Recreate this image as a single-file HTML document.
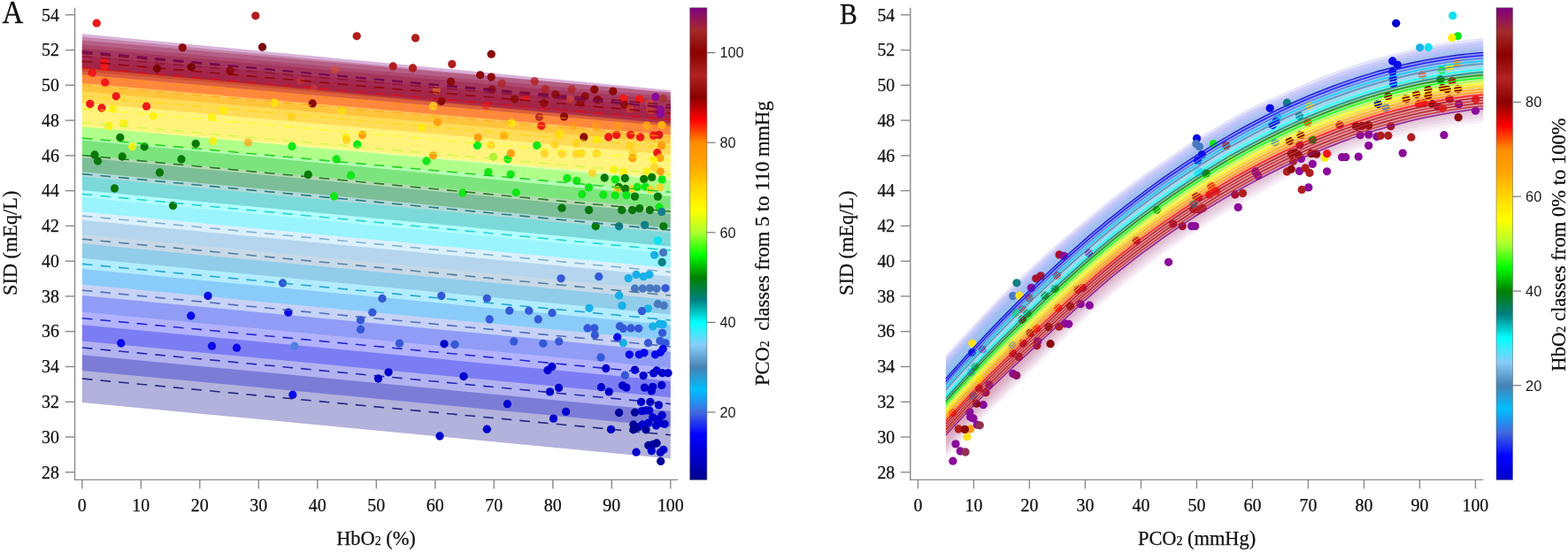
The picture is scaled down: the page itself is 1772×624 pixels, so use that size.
<!DOCTYPE html>
<html lang="en"><head><meta charset="utf-8"><title>SID vs HbO2 and PCO2</title>
<style>html,body{margin:0;padding:0;background:#fff}svg{display:block}.se{font-family:"Liberation Serif","DejaVu Serif",serif;fill:#111;stroke:#111;stroke-width:0.25px}.sa{font-family:"Liberation Sans","DejaVu Sans",sans-serif;fill:#1a1a1a}</style></head><body>
<svg width="1772" height="624" viewBox="0 0 1772 624">
<rect width="1772" height="624" fill="#fff"/>
<defs>
<linearGradient id="cbA" x1="0" y1="1" x2="0" y2="0">
<stop offset="0.000%" stop-color="#00008b"/>
<stop offset="4.762%" stop-color="#0000cd"/>
<stop offset="9.524%" stop-color="#0000ff"/>
<stop offset="14.286%" stop-color="#4169e1"/>
<stop offset="19.048%" stop-color="#00bfff"/>
<stop offset="23.810%" stop-color="#4682b4"/>
<stop offset="28.571%" stop-color="#87cefa"/>
<stop offset="33.333%" stop-color="#00ffff"/>
<stop offset="38.095%" stop-color="#008080"/>
<stop offset="42.857%" stop-color="#008000"/>
<stop offset="47.619%" stop-color="#00ff00"/>
<stop offset="52.381%" stop-color="#adff2f"/>
<stop offset="57.143%" stop-color="#ffff00"/>
<stop offset="61.905%" stop-color="#ffd700"/>
<stop offset="66.667%" stop-color="#ffa500"/>
<stop offset="71.429%" stop-color="#ff8c00"/>
<stop offset="76.190%" stop-color="#ff0000"/>
<stop offset="80.952%" stop-color="#8b0000"/>
<stop offset="85.714%" stop-color="#b22222"/>
<stop offset="90.476%" stop-color="#8b0000"/>
<stop offset="95.238%" stop-color="#a52a2a"/>
<stop offset="100.000%" stop-color="#800080"/>
</linearGradient>
<linearGradient id="cbB" x1="0" y1="1" x2="0" y2="0">
<stop offset="0.000%" stop-color="#0000cd"/>
<stop offset="5.000%" stop-color="#0000ff"/>
<stop offset="10.000%" stop-color="#4169e1"/>
<stop offset="15.000%" stop-color="#00bfff"/>
<stop offset="20.000%" stop-color="#4682b4"/>
<stop offset="25.000%" stop-color="#87cefa"/>
<stop offset="30.000%" stop-color="#00ffff"/>
<stop offset="35.000%" stop-color="#008080"/>
<stop offset="40.000%" stop-color="#008000"/>
<stop offset="45.000%" stop-color="#00ff00"/>
<stop offset="50.000%" stop-color="#adff2f"/>
<stop offset="55.000%" stop-color="#ffff00"/>
<stop offset="60.000%" stop-color="#ffd700"/>
<stop offset="65.000%" stop-color="#ffa500"/>
<stop offset="70.000%" stop-color="#ff8c00"/>
<stop offset="75.000%" stop-color="#ff0000"/>
<stop offset="80.000%" stop-color="#8b0000"/>
<stop offset="85.000%" stop-color="#b22222"/>
<stop offset="90.000%" stop-color="#8b0000"/>
<stop offset="95.000%" stop-color="#a52a2a"/>
<stop offset="100.000%" stop-color="#800080"/>
</linearGradient>
<clipPath id="clipA"><rect x="84.5" y="8.8" width="681.5" height="533.6"/></clipPath>
<clipPath id="clipB"><rect x="1028.8" y="8.8" width="647.4000000000001" height="533.6"/></clipPath>
</defs>
<g clip-path="url(#clipA)">
<polygon points="92.8,401.2 757.8,464.8 757.8,518.5 92.8,454.9" fill="#00008b" fill-opacity="0.3"/>
<polygon points="92.8,367.2 757.8,430.8 757.8,482.5 92.8,418.9" fill="#0000cd" fill-opacity="0.3"/>
<polygon points="92.8,333.9 757.8,397.5 757.8,449.2 92.8,385.6" fill="#0000ff" fill-opacity="0.3"/>
<polygon points="92.8,303.9 757.8,367.6 757.8,416.1 92.8,352.4" fill="#4169e1" fill-opacity="0.3"/>
<polygon points="92.8,275.3 757.8,339.0 757.8,385.1 92.8,321.5" fill="#00bfff" fill-opacity="0.3"/>
<polygon points="92.8,248.8 757.8,312.5 757.8,355.4 92.8,291.8" fill="#4682b4" fill-opacity="0.3"/>
<polygon points="92.8,223.1 757.8,286.8 757.8,328.5 92.8,264.9" fill="#87cefa" fill-opacity="0.3"/>
<polygon points="92.8,199.5 757.8,263.2 757.8,302.9 92.8,239.3" fill="#00ffff" fill-opacity="0.3"/>
<polygon points="92.8,178.1 757.8,241.7 757.8,278.7 92.8,215.1" fill="#008080" fill-opacity="0.3"/>
<polygon points="92.8,158.4 757.8,222.0 757.8,257.8 92.8,194.2" fill="#008000" fill-opacity="0.3"/>
<polygon points="92.8,142.9 757.8,204.0 757.8,236.2 92.8,175.1" fill="#00ff00" fill-opacity="0.3"/>
<polygon points="92.8,142.5 757.8,201.1 757.8,215.6 92.8,157.0" fill="#adff2f" fill-opacity="0.3"/>
<polygon points="92.8,96.9 757.8,155.6 757.8,202.3 92.8,143.7" fill="#ffff00" fill-opacity="0.3"/>
<polygon points="92.8,85.4 757.8,144.1 757.8,200.7 92.8,142.1" fill="#ffd700" fill-opacity="0.3"/>
<polygon points="92.8,76.4 757.8,135.1 757.8,174.9 92.8,116.2" fill="#ffa500" fill-opacity="0.3"/>
<polygon points="92.8,68.5 757.8,127.2 757.8,162.0 92.8,103.3" fill="#ff8c00" fill-opacity="0.3"/>
<polygon points="92.8,62.5 757.8,121.2 757.8,152.6 92.8,93.9" fill="#ff0000" fill-opacity="0.3"/>
<polygon points="92.8,54.6 757.8,113.2 757.8,143.1 92.8,84.4" fill="#8b0000" fill-opacity="0.3"/>
<polygon points="92.8,50.6 757.8,109.3 757.8,139.1 92.8,80.4" fill="#b22222" fill-opacity="0.3"/>
<polygon points="92.8,45.6 757.8,104.3 757.8,136.1 92.8,77.4" fill="#8b0000" fill-opacity="0.3"/>
<polygon points="92.8,41.6 757.8,105.3 757.8,140.7 92.8,77.0" fill="#a52a2a" fill-opacity="0.3"/>
<polygon points="92.8,38.3 757.8,101.9 757.8,140.1 92.8,76.4" fill="#800080" fill-opacity="0.3"/>
<circle cx="109.2" cy="26.2" r="4.65" fill="#f01818"/>
<circle cx="288.8" cy="17.8" r="4.65" fill="#b01e1e"/>
<circle cx="206.2" cy="53.8" r="4.65" fill="#8b0a0a"/>
<circle cx="296.5" cy="53.2" r="4.65" fill="#780606"/>
<circle cx="118.0" cy="68.8" r="4.65" fill="#f01818"/>
<circle cx="118.0" cy="75.0" r="4.65" fill="#f01818"/>
<circle cx="104.2" cy="82.5" r="4.65" fill="#f01818"/>
<circle cx="177.5" cy="77.5" r="4.65" fill="#780606"/>
<circle cx="216.2" cy="75.8" r="4.65" fill="#780606"/>
<circle cx="260.0" cy="80.0" r="4.65" fill="#8b0a0a"/>
<circle cx="118.8" cy="93.2" r="4.65" fill="#f01818"/>
<circle cx="131.2" cy="108.8" r="4.65" fill="#f01818"/>
<circle cx="101.8" cy="117.5" r="4.65" fill="#f01818"/>
<circle cx="115.0" cy="122.0" r="4.65" fill="#f01818"/>
<circle cx="165.5" cy="120.2" r="4.65" fill="#f01818"/>
<circle cx="127.5" cy="123.0" r="4.65" fill="#fff000" fill-opacity="0.8"/>
<circle cx="173.0" cy="131.2" r="4.65" fill="#fff000" fill-opacity="0.8"/>
<circle cx="123.0" cy="142.5" r="4.65" fill="#fff000" fill-opacity="0.8"/>
<circle cx="139.5" cy="139.5" r="4.65" fill="#fff000" fill-opacity="0.8"/>
<circle cx="239.5" cy="132.5" r="4.65" fill="#fff000" fill-opacity="0.8"/>
<circle cx="252.5" cy="125.0" r="4.65" fill="#fff000" fill-opacity="0.8"/>
<circle cx="310.0" cy="116.2" r="4.65" fill="#fff000" fill-opacity="0.8"/>
<circle cx="135.8" cy="155.5" r="4.65" fill="#087808"/>
<circle cx="403.2" cy="40.8" r="4.65" fill="#b01e1e"/>
<circle cx="469.5" cy="43.0" r="4.65" fill="#b01e1e"/>
<circle cx="444.2" cy="75.0" r="4.65" fill="#b01e1e"/>
<circle cx="466.5" cy="77.0" r="4.65" fill="#b01e1e"/>
<circle cx="510.8" cy="72.5" r="4.65" fill="#b01e1e"/>
<circle cx="509.5" cy="92.5" r="4.65" fill="#8b0a0a"/>
<circle cx="498.8" cy="114.5" r="4.65" fill="#8b0a0a"/>
<circle cx="353.2" cy="117.0" r="4.65" fill="#8b0a0a"/>
<circle cx="378.2" cy="78.8" r="4.65" fill="#e85020" fill-opacity="0.45"/>
<circle cx="339.5" cy="91.2" r="4.65" fill="#e85020" fill-opacity="0.3"/>
<circle cx="354.5" cy="100.0" r="4.65" fill="#e85020" fill-opacity="0.35"/>
<circle cx="493.2" cy="102.0" r="4.65" fill="#ffa010" fill-opacity="0.45"/>
<circle cx="489.5" cy="120.0" r="4.65" fill="#ffe020" fill-opacity="0.8"/>
<circle cx="329.5" cy="131.8" r="4.65" fill="#ffd018" fill-opacity="0.8"/>
<circle cx="386.5" cy="125.0" r="4.65" fill="#fff000" fill-opacity="0.6"/>
<circle cx="494.5" cy="138.0" r="4.65" fill="#ffa010"/>
<circle cx="477.0" cy="144.2" r="4.65" fill="#fff000" fill-opacity="0.8"/>
<circle cx="409.5" cy="152.5" r="4.65" fill="#ffa010"/>
<circle cx="390.8" cy="155.5" r="4.65" fill="#fff000" fill-opacity="0.8"/>
<circle cx="555.2" cy="61.2" r="4.65" fill="#8b0a0a"/>
<circle cx="542.7" cy="84.8" r="4.65" fill="#8b0a0a"/>
<circle cx="555.2" cy="87.1" r="4.65" fill="#8b0a0a"/>
<circle cx="567.1" cy="94.2" r="4.65" fill="#b01e1e" fill-opacity="0.7"/>
<circle cx="556.1" cy="101.2" r="4.65" fill="#8b0a0a" fill-opacity="0.8"/>
<circle cx="604.2" cy="91.9" r="4.65" fill="#b01e1e" fill-opacity="0.8"/>
<circle cx="616.3" cy="100.6" r="4.65" fill="#b01e1e" fill-opacity="0.7"/>
<circle cx="646.1" cy="101.0" r="4.65" fill="#b01e1e" fill-opacity="0.7"/>
<circle cx="627.8" cy="106.9" r="4.65" fill="#8b0a0a" fill-opacity="0.9"/>
<circle cx="581.7" cy="112.1" r="4.65" fill="#8b0a0a" fill-opacity="0.9"/>
<circle cx="593.6" cy="109.6" r="4.65" fill="#f01818" fill-opacity="0.8"/>
<circle cx="614.8" cy="116.5" r="4.65" fill="#8b0a0a" fill-opacity="0.8"/>
<circle cx="549.4" cy="119.2" r="4.65" fill="#f01818" fill-opacity="0.5"/>
<circle cx="644.0" cy="112.1" r="4.65" fill="#e85020" fill-opacity="0.4"/>
<circle cx="637.5" cy="131.9" r="4.65" fill="#8b0a0a"/>
<circle cx="609.4" cy="132.3" r="4.65" fill="#b01e1e" fill-opacity="0.8"/>
<circle cx="611.9" cy="142.3" r="4.65" fill="#f01818"/>
<circle cx="578.2" cy="139.0" r="4.65" fill="#fff000" fill-opacity="0.8"/>
<circle cx="569.6" cy="153.1" r="4.65" fill="#ffb010"/>
<circle cx="540.2" cy="155.4" r="4.65" fill="#ffa010"/>
<circle cx="647.5" cy="142.9" r="4.65" fill="#ffa010" fill-opacity="0.6"/>
<circle cx="632.1" cy="151.5" r="4.65" fill="#fff000" fill-opacity="0.8"/>
<circle cx="671.7" cy="101.2" r="4.65" fill="#8b0a0a"/>
<circle cx="692.8" cy="103.1" r="4.65" fill="#8b0a0a"/>
<circle cx="661.3" cy="108.7" r="4.65" fill="#8b0a0a" fill-opacity="0.9"/>
<circle cx="675.5" cy="112.7" r="4.65" fill="#8b0a0a" fill-opacity="0.9"/>
<circle cx="704.4" cy="111.5" r="4.65" fill="#f01818"/>
<circle cx="722.7" cy="112.1" r="4.65" fill="#f01818"/>
<circle cx="705.9" cy="118.5" r="4.65" fill="#8b0a0a" fill-opacity="0.9"/>
<circle cx="740.9" cy="109.6" r="4.65" fill="#8a0a9a"/>
<circle cx="746.3" cy="128.8" r="4.65" fill="#8a0a9a"/>
<circle cx="746.3" cy="123.7" r="4.65" fill="#8a0a9a" fill-opacity="0.8"/>
<circle cx="749.2" cy="111.5" r="4.65" fill="#a03030" fill-opacity="0.8"/>
<circle cx="733.8" cy="116.9" r="4.65" fill="#e85020" fill-opacity="0.5"/>
<circle cx="711.7" cy="122.7" r="4.65" fill="#e85020" fill-opacity="0.4"/>
<circle cx="734.8" cy="124.6" r="4.65" fill="#e85020" fill-opacity="0.4"/>
<circle cx="655.9" cy="116.0" r="4.65" fill="#8b0a0a" fill-opacity="0.8"/>
<circle cx="673.2" cy="142.9" r="4.65" fill="#ffa010" fill-opacity="0.6"/>
<circle cx="698.6" cy="141.9" r="4.65" fill="#ffa010" fill-opacity="0.6"/>
<circle cx="730.9" cy="141.9" r="4.65" fill="#ffb010" fill-opacity="0.8"/>
<circle cx="747.8" cy="141.3" r="4.65" fill="#ffb010"/>
<circle cx="659.8" cy="155.0" r="4.65" fill="#8b0a0a"/>
<circle cx="687.7" cy="155.0" r="4.65" fill="#f01818"/>
<circle cx="696.7" cy="152.5" r="4.65" fill="#f01818"/>
<circle cx="712.7" cy="152.5" r="4.65" fill="#f01818"/>
<circle cx="723.6" cy="155.0" r="4.65" fill="#f01818"/>
<circle cx="738.6" cy="153.1" r="4.65" fill="#f01818"/>
<circle cx="744.8" cy="152.5" r="4.65" fill="#d81818"/>
<circle cx="674.2" cy="157.7" r="4.65" fill="#fff000" fill-opacity="0.8"/>
<circle cx="163.2" cy="165.8" r="4.65" fill="#087808"/>
<circle cx="221.2" cy="162.5" r="4.65" fill="#087808"/>
<circle cx="107.0" cy="175.0" r="4.65" fill="#087808"/>
<circle cx="110.5" cy="182.0" r="4.65" fill="#087808"/>
<circle cx="138.2" cy="177.0" r="4.65" fill="#087808"/>
<circle cx="205.0" cy="180.0" r="4.65" fill="#087808"/>
<circle cx="180.5" cy="195.0" r="4.65" fill="#087808"/>
<circle cx="129.5" cy="213.0" r="4.65" fill="#087808"/>
<circle cx="195.5" cy="232.5" r="4.65" fill="#087808"/>
<circle cx="149.5" cy="165.8" r="4.65" fill="#fff000" fill-opacity="0.8"/>
<circle cx="240.5" cy="159.5" r="4.65" fill="#fff000" fill-opacity="0.8"/>
<circle cx="280.5" cy="161.2" r="4.65" fill="#ffa010" fill-opacity="0.7"/>
<circle cx="330.0" cy="165.5" r="4.65" fill="#10e818"/>
<circle cx="380.2" cy="180.0" r="4.65" fill="#10e818"/>
<circle cx="403.8" cy="163.2" r="4.65" fill="#10e818"/>
<circle cx="396.5" cy="198.2" r="4.65" fill="#10e818"/>
<circle cx="377.5" cy="222.0" r="4.65" fill="#10e818"/>
<circle cx="482.0" cy="182.0" r="4.65" fill="#10e818"/>
<circle cx="522.8" cy="218.0" r="4.65" fill="#10e818"/>
<circle cx="348.2" cy="197.5" r="4.65" fill="#087808"/>
<circle cx="391.5" cy="158.2" r="4.65" fill="#ffd018" fill-opacity="0.8"/>
<circle cx="489.5" cy="175.8" r="4.65" fill="#ffa010"/>
<circle cx="539.4" cy="164.4" r="4.65" fill="#10e818"/>
<circle cx="606.7" cy="164.4" r="4.65" fill="#10e818"/>
<circle cx="573.8" cy="179.8" r="4.65" fill="#10e818"/>
<circle cx="551.9" cy="194.6" r="4.65" fill="#10e818"/>
<circle cx="577.1" cy="197.1" r="4.65" fill="#10e818"/>
<circle cx="583.2" cy="217.7" r="4.65" fill="#10e818"/>
<circle cx="640.9" cy="201.5" r="4.65" fill="#10e818"/>
<circle cx="651.7" cy="204.4" r="4.65" fill="#10e818"/>
<circle cx="635.0" cy="235.2" r="4.65" fill="#087808"/>
<circle cx="554.8" cy="163.8" r="4.65" fill="#ffd018" fill-opacity="0.8"/>
<circle cx="577.3" cy="173.5" r="4.65" fill="#ffa010"/>
<circle cx="557.5" cy="177.3" r="4.65" fill="#b0f030"/>
<circle cx="615.5" cy="173.5" r="4.65" fill="#ffd018" fill-opacity="0.8"/>
<circle cx="626.9" cy="163.5" r="4.65" fill="#ffd018" fill-opacity="0.8"/>
<circle cx="635.0" cy="174.0" r="4.65" fill="#ffd018" fill-opacity="0.8"/>
<circle cx="650.9" cy="162.5" r="4.65" fill="#ffd018" fill-opacity="0.8"/>
<circle cx="651.3" cy="174.0" r="4.65" fill="#ffd018" fill-opacity="0.8"/>
<circle cx="630.2" cy="152.9" r="4.65" fill="#ffd018" fill-opacity="0.6"/>
<circle cx="742.8" cy="172.7" r="4.65" fill="#f01818"/>
<circle cx="747.7" cy="164.4" r="4.65" fill="#ffa010"/>
<circle cx="656.9" cy="173.5" r="4.65" fill="#ffd018" fill-opacity="0.8"/>
<circle cx="674.2" cy="173.5" r="4.65" fill="#ffd018" fill-opacity="0.8"/>
<circle cx="711.7" cy="164.4" r="4.65" fill="#ffd018" fill-opacity="0.8"/>
<circle cx="715.2" cy="173.1" r="4.65" fill="#ffd018" fill-opacity="0.8"/>
<circle cx="714.8" cy="178.8" r="4.65" fill="#ffa010"/>
<circle cx="745.9" cy="178.5" r="4.65" fill="#ffa010"/>
<circle cx="738.6" cy="180.8" r="4.65" fill="#fff000" fill-opacity="0.8"/>
<circle cx="746.3" cy="193.8" r="4.65" fill="#ffa010"/>
<circle cx="739.6" cy="189.4" r="4.65" fill="#ffd018" fill-opacity="0.8"/>
<circle cx="669.4" cy="195.8" r="4.65" fill="#ffd018" fill-opacity="0.8"/>
<circle cx="693.4" cy="191.9" r="4.65" fill="#fff000" fill-opacity="0.8"/>
<circle cx="704.4" cy="194.2" r="4.65" fill="#fff000" fill-opacity="0.8"/>
<circle cx="730.9" cy="193.8" r="4.65" fill="#fff000" fill-opacity="0.8"/>
<circle cx="683.2" cy="201.0" r="4.65" fill="#087808"/>
<circle cx="706.3" cy="201.5" r="4.65" fill="#087808"/>
<circle cx="727.7" cy="202.5" r="4.65" fill="#087808"/>
<circle cx="736.7" cy="200.4" r="4.65" fill="#087808"/>
<circle cx="695.3" cy="202.9" r="4.65" fill="#10e818"/>
<circle cx="748.2" cy="202.9" r="4.65" fill="#10e818"/>
<circle cx="665.5" cy="211.9" r="4.65" fill="#10e818"/>
<circle cx="699.2" cy="211.5" r="4.65" fill="#087808"/>
<circle cx="706.9" cy="213.5" r="4.65" fill="#087808"/>
<circle cx="697.3" cy="214.4" r="4.65" fill="#ffd018" fill-opacity="0.8"/>
<circle cx="715.2" cy="213.5" r="4.65" fill="#ffd018" fill-opacity="0.8"/>
<circle cx="720.3" cy="211.5" r="4.65" fill="#10e818"/>
<circle cx="729.4" cy="211.2" r="4.65" fill="#10e818"/>
<circle cx="735.2" cy="214.4" r="4.65" fill="#ffd018" fill-opacity="0.8"/>
<circle cx="745.9" cy="211.9" r="4.65" fill="#ffd018" fill-opacity="0.8"/>
<circle cx="657.8" cy="219.6" r="4.65" fill="#10e818"/>
<circle cx="681.9" cy="220.2" r="4.65" fill="#10e818"/>
<circle cx="695.3" cy="220.8" r="4.65" fill="#10e818"/>
<circle cx="707.8" cy="220.8" r="4.65" fill="#10e818"/>
<circle cx="717.5" cy="222.1" r="4.65" fill="#087808"/>
<circle cx="743.4" cy="222.1" r="4.65" fill="#087808"/>
<circle cx="665.5" cy="237.5" r="4.65" fill="#087808"/>
<circle cx="702.7" cy="237.5" r="4.65" fill="#087808"/>
<circle cx="714.6" cy="237.5" r="4.65" fill="#087808"/>
<circle cx="722.8" cy="235.6" r="4.65" fill="#087808"/>
<circle cx="734.4" cy="237.5" r="4.65" fill="#087808"/>
<circle cx="745.0" cy="234.2" r="4.65" fill="#10e818"/>
<circle cx="747.7" cy="239.4" r="4.65" fill="#108088"/>
<circle cx="673.2" cy="255.8" r="4.65" fill="#087808"/>
<circle cx="699.6" cy="255.8" r="4.65" fill="#108088"/>
<circle cx="728.6" cy="254.4" r="4.65" fill="#108088"/>
<circle cx="749.8" cy="255.8" r="4.65" fill="#087808"/>
<circle cx="235.0" cy="334.5" r="4.65" fill="#0808e8"/>
<circle cx="215.8" cy="357.0" r="4.65" fill="#0808e8"/>
<circle cx="136.8" cy="388.0" r="4.65" fill="#0808e8"/>
<circle cx="239.5" cy="391.2" r="4.65" fill="#0808e8"/>
<circle cx="267.5" cy="393.2" r="4.65" fill="#0808e8"/>
<circle cx="319.5" cy="320.0" r="4.65" fill="#3458d8"/>
<circle cx="432.0" cy="337.5" r="4.65" fill="#3458d8"/>
<circle cx="498.8" cy="334.5" r="4.65" fill="#3458d8"/>
<circle cx="420.8" cy="353.2" r="4.65" fill="#3458d8"/>
<circle cx="407.5" cy="361.8" r="4.65" fill="#3458d8"/>
<circle cx="407.5" cy="372.5" r="4.65" fill="#3458d8"/>
<circle cx="332.8" cy="391.2" r="4.65" fill="#5080e0"/>
<circle cx="451.5" cy="388.2" r="4.65" fill="#3458d8"/>
<circle cx="514.0" cy="389.5" r="4.65" fill="#3458d8"/>
<circle cx="325.8" cy="353.2" r="4.65" fill="#0808e8"/>
<circle cx="502.0" cy="388.8" r="4.65" fill="#0000cc"/>
<circle cx="439.0" cy="420.8" r="4.65" fill="#0000cc"/>
<circle cx="427.5" cy="428.0" r="4.65" fill="#0000cc"/>
<circle cx="524.0" cy="425.5" r="4.65" fill="#0000cc"/>
<circle cx="330.8" cy="446.2" r="4.65" fill="#0808e8"/>
<circle cx="497.0" cy="493.0" r="4.65" fill="#0000cc"/>
<circle cx="634.0" cy="314.8" r="4.65" fill="#3458d8"/>
<circle cx="550.3" cy="337.3" r="4.65" fill="#3458d8"/>
<circle cx="575.7" cy="351.2" r="4.65" fill="#3458d8"/>
<circle cx="597.8" cy="351.2" r="4.65" fill="#3458d8"/>
<circle cx="624.0" cy="353.7" r="4.65" fill="#3458d8"/>
<circle cx="553.2" cy="361.0" r="4.65" fill="#3458d8"/>
<circle cx="608.2" cy="361.0" r="4.65" fill="#3458d8"/>
<circle cx="580.7" cy="386.0" r="4.65" fill="#3458d8"/>
<circle cx="613.8" cy="388.3" r="4.65" fill="#3458d8"/>
<circle cx="631.7" cy="386.0" r="4.65" fill="#3458d8"/>
<circle cx="743.4" cy="271.9" r="4.65" fill="#10e0f0"/>
<circle cx="749.6" cy="285.4" r="4.65" fill="#4878c0"/>
<circle cx="739.6" cy="288.3" r="4.65" fill="#18b0e8"/>
<circle cx="748.2" cy="296.5" r="4.65" fill="#108088"/>
<circle cx="719.0" cy="310.4" r="4.65" fill="#18b0e8"/>
<circle cx="727.1" cy="312.7" r="4.65" fill="#18b0e8"/>
<circle cx="733.8" cy="310.4" r="4.65" fill="#18b0e8"/>
<circle cx="710.2" cy="314.6" r="4.65" fill="#18b0e8"/>
<circle cx="676.7" cy="312.7" r="4.65" fill="#3458d8"/>
<circle cx="717.5" cy="326.2" r="4.65" fill="#4878c0"/>
<circle cx="726.3" cy="326.2" r="4.65" fill="#4878c0"/>
<circle cx="734.4" cy="325.8" r="4.65" fill="#4878c0"/>
<circle cx="742.1" cy="326.3" r="4.65" fill="#4878c0"/>
<circle cx="752.1" cy="325.8" r="4.65" fill="#3458d8"/>
<circle cx="699.6" cy="334.0" r="4.65" fill="#18b0e8"/>
<circle cx="703.0" cy="345.6" r="4.65" fill="#18b0e8"/>
<circle cx="665.9" cy="348.3" r="4.65" fill="#18b0e8"/>
<circle cx="743.4" cy="343.7" r="4.65" fill="#4878c0"/>
<circle cx="750.2" cy="345.4" r="4.65" fill="#4878c0"/>
<circle cx="732.3" cy="348.8" r="4.65" fill="#18b0e8"/>
<circle cx="725.5" cy="351.7" r="4.65" fill="#3458d8"/>
<circle cx="664.0" cy="371.0" r="4.65" fill="#3458d8"/>
<circle cx="671.7" cy="371.0" r="4.65" fill="#3458d8"/>
<circle cx="672.3" cy="378.7" r="4.65" fill="#3458d8"/>
<circle cx="700.5" cy="368.7" r="4.65" fill="#3458d8"/>
<circle cx="704.4" cy="371.5" r="4.65" fill="#3458d8"/>
<circle cx="713.0" cy="371.0" r="4.65" fill="#3458d8"/>
<circle cx="721.7" cy="371.3" r="4.65" fill="#3458d8"/>
<circle cx="737.7" cy="369.0" r="4.65" fill="#18b0e8"/>
<circle cx="745.3" cy="366.2" r="4.65" fill="#18b0e8"/>
<circle cx="749.2" cy="366.7" r="4.65" fill="#18b0e8"/>
<circle cx="748.6" cy="376.3" r="4.65" fill="#3458d8"/>
<circle cx="697.7" cy="381.2" r="4.65" fill="#0808e8"/>
<circle cx="704.4" cy="387.7" r="4.65" fill="#18b0e8"/>
<circle cx="732.5" cy="387.7" r="4.65" fill="#3458d8"/>
<circle cx="745.9" cy="385.4" r="4.65" fill="#3458d8"/>
<circle cx="752.1" cy="387.7" r="4.65" fill="#3458d8"/>
<circle cx="623.8" cy="414.4" r="4.65" fill="#0000cc"/>
<circle cx="619.0" cy="418.5" r="4.65" fill="#0000cc"/>
<circle cx="631.5" cy="438.5" r="4.65" fill="#0000cc"/>
<circle cx="621.5" cy="442.9" r="4.65" fill="#0000cc"/>
<circle cx="573.4" cy="456.7" r="4.65" fill="#0000cc"/>
<circle cx="639.6" cy="465.4" r="4.65" fill="#0000cc"/>
<circle cx="625.5" cy="473.1" r="4.65" fill="#0000cc"/>
<circle cx="550.3" cy="485.2" r="4.65" fill="#0000cc"/>
<circle cx="679.0" cy="404.0" r="4.65" fill="#3458d8"/>
<circle cx="711.3" cy="400.8" r="4.65" fill="#0808e8"/>
<circle cx="722.3" cy="400.8" r="4.65" fill="#0808e8"/>
<circle cx="728.0" cy="398.8" r="4.65" fill="#0808e8"/>
<circle cx="740.5" cy="400.8" r="4.65" fill="#0808e8"/>
<circle cx="746.3" cy="398.3" r="4.65" fill="#0808e8"/>
<circle cx="749.2" cy="394.4" r="4.65" fill="#0808e8"/>
<circle cx="684.8" cy="416.5" r="4.65" fill="#0000cc"/>
<circle cx="717.5" cy="418.1" r="4.65" fill="#0000cc"/>
<circle cx="706.3" cy="424.2" r="4.65" fill="#3458d8"/>
<circle cx="727.1" cy="424.6" r="4.65" fill="#0000cc"/>
<circle cx="738.6" cy="421.9" r="4.65" fill="#0000cc"/>
<circle cx="742.1" cy="419.0" r="4.65" fill="#0000cc"/>
<circle cx="748.6" cy="421.7" r="4.65" fill="#0000cc"/>
<circle cx="755.0" cy="421.7" r="4.65" fill="#0000cc"/>
<circle cx="679.4" cy="437.7" r="4.65" fill="#0000cc"/>
<circle cx="688.2" cy="442.9" r="4.65" fill="#0000cc"/>
<circle cx="703.6" cy="435.8" r="4.65" fill="#0000cc"/>
<circle cx="707.8" cy="438.1" r="4.65" fill="#0000cc"/>
<circle cx="728.4" cy="438.1" r="4.65" fill="#0000cc"/>
<circle cx="737.7" cy="437.3" r="4.65" fill="#0000cc"/>
<circle cx="747.8" cy="435.4" r="4.65" fill="#0000cc"/>
<circle cx="736.3" cy="441.9" r="4.65" fill="#0000cc"/>
<circle cx="724.6" cy="454.4" r="4.65" fill="#0000cc"/>
<circle cx="734.8" cy="454.4" r="4.65" fill="#0000cc"/>
<circle cx="744.4" cy="457.9" r="4.65" fill="#0000cc"/>
<circle cx="699.6" cy="466.5" r="4.65" fill="#000098"/>
<circle cx="717.5" cy="466.2" r="4.65" fill="#000098"/>
<circle cx="725.5" cy="464.6" r="4.65" fill="#0000cc"/>
<circle cx="730.0" cy="464.0" r="4.65" fill="#0000cc"/>
<circle cx="733.8" cy="464.0" r="4.65" fill="#0000cc"/>
<circle cx="737.7" cy="471.9" r="4.65" fill="#0000cc"/>
<circle cx="743.4" cy="474.2" r="4.65" fill="#0000cc"/>
<circle cx="748.2" cy="469.4" r="4.65" fill="#0000cc"/>
<circle cx="690.5" cy="485.4" r="4.65" fill="#0000cc"/>
<circle cx="715.9" cy="480.0" r="4.65" fill="#000098"/>
<circle cx="715.9" cy="485.8" r="4.65" fill="#000098"/>
<circle cx="721.3" cy="482.9" r="4.65" fill="#000098"/>
<circle cx="726.1" cy="480.0" r="4.65" fill="#0000cc"/>
<circle cx="730.0" cy="485.8" r="4.65" fill="#000098"/>
<circle cx="732.8" cy="478.1" r="4.65" fill="#0000cc"/>
<circle cx="741.5" cy="481.0" r="4.65" fill="#0000cc"/>
<circle cx="746.3" cy="478.1" r="4.65" fill="#0000cc"/>
<circle cx="751.1" cy="479.4" r="4.65" fill="#0000cc"/>
<circle cx="732.8" cy="503.5" r="4.65" fill="#000098"/>
<circle cx="738.2" cy="502.3" r="4.65" fill="#000098"/>
<circle cx="742.1" cy="501.0" r="4.65" fill="#000098"/>
<circle cx="736.3" cy="509.6" r="4.65" fill="#0000cc"/>
<circle cx="719.0" cy="511.2" r="4.65" fill="#0000cc"/>
<circle cx="746.3" cy="511.5" r="4.65" fill="#0000cc"/>
<circle cx="749.8" cy="508.3" r="4.65" fill="#0000cc"/>
<circle cx="746.7" cy="521.5" r="4.65" fill="#000098"/>
<line x1="92.8" y1="428.0" x2="757.8" y2="491.7" stroke="#0c0c74" stroke-opacity="0.85" stroke-width="1.6" stroke-dasharray="11.7 9"/>
<line x1="92.8" y1="393.0" x2="757.8" y2="456.6" stroke="#0c0ca6" stroke-opacity="0.85" stroke-width="1.6" stroke-dasharray="11.7 9"/>
<line x1="92.8" y1="359.7" x2="757.8" y2="423.4" stroke="#0c0ccb" stroke-opacity="0.85" stroke-width="1.6" stroke-dasharray="11.7 9"/>
<line x1="92.8" y1="328.2" x2="757.8" y2="391.8" stroke="#3d5bb5" stroke-opacity="0.85" stroke-width="1.6" stroke-dasharray="11.7 9"/>
<line x1="92.8" y1="298.4" x2="757.8" y2="362.0" stroke="#0c9bcb" stroke-opacity="0.85" stroke-width="1.6" stroke-dasharray="11.7 9"/>
<line x1="92.8" y1="270.3" x2="757.8" y2="334.0" stroke="#406e93" stroke-opacity="0.85" stroke-width="1.6" stroke-dasharray="11.7 9"/>
<line x1="92.8" y1="244.0" x2="757.8" y2="307.6" stroke="#71a6c8" stroke-opacity="0.85" stroke-width="1.6" stroke-dasharray="11.7 9"/>
<line x1="92.8" y1="219.4" x2="757.8" y2="283.1" stroke="#0ccbcb" stroke-opacity="0.85" stroke-width="1.6" stroke-dasharray="11.7 9"/>
<line x1="92.8" y1="196.6" x2="757.8" y2="260.2" stroke="#0c6c6c" stroke-opacity="0.85" stroke-width="1.6" stroke-dasharray="11.7 9"/>
<line x1="92.8" y1="175.5" x2="757.8" y2="239.1" stroke="#0c6c0c" stroke-opacity="0.85" stroke-width="1.6" stroke-dasharray="11.7 9"/>
<line x1="92.8" y1="156.1" x2="757.8" y2="217.3" stroke="#0ccb0c" stroke-opacity="0.85" stroke-width="1.6" stroke-dasharray="11.7 9"/>
<line x1="92.8" y1="138.5" x2="757.8" y2="197.1" stroke="#adff2f" stroke-opacity="0.55" stroke-width="1.6" stroke-dasharray="11.7 9"/>
<line x1="92.8" y1="122.6" x2="757.8" y2="181.3" stroke="#ffff00" stroke-opacity="0.55" stroke-width="1.6" stroke-dasharray="11.7 9"/>
<line x1="92.8" y1="108.5" x2="757.8" y2="167.1" stroke="#ffd700" stroke-opacity="0.55" stroke-width="1.6" stroke-dasharray="11.7 9"/>
<line x1="92.8" y1="96.1" x2="757.8" y2="154.7" stroke="#ffa500" stroke-opacity="0.55" stroke-width="1.6" stroke-dasharray="11.7 9"/>
<line x1="92.8" y1="85.4" x2="757.8" y2="144.1" stroke="#ff8c00" stroke-opacity="0.55" stroke-width="1.6" stroke-dasharray="11.7 9"/>
<line x1="92.8" y1="76.5" x2="757.8" y2="135.1" stroke="#ff0000" stroke-opacity="0.55" stroke-width="1.6" stroke-dasharray="11.7 9"/>
<line x1="92.8" y1="69.3" x2="757.8" y2="127.9" stroke="#8b0000" stroke-opacity="0.8" stroke-width="1.6" stroke-dasharray="11.7 9"/>
<line x1="92.8" y1="63.8" x2="757.8" y2="122.5" stroke="#891131" stroke-opacity="0.8" stroke-width="1.6" stroke-dasharray="11.7 9"/>
<line x1="92.8" y1="60.1" x2="757.8" y2="118.8" stroke="#760020" stroke-opacity="0.8" stroke-width="1.6" stroke-dasharray="11.7 9"/>
<line x1="92.8" y1="58.2" x2="757.8" y2="121.8" stroke="#821535" stroke-opacity="0.8" stroke-width="1.6" stroke-dasharray="11.7 9"/>
<line x1="92.8" y1="58.0" x2="757.8" y2="121.6" stroke="#700060" stroke-opacity="0.8" stroke-width="1.6" stroke-dasharray="11.7 9"/>
</g>
<g clip-path="url(#clipB)">
<polygon points="1068.9,401.2 1079.1,390.0 1089.3,379.0 1099.5,368.2 1109.6,357.2 1119.8,346.4 1130.0,335.8 1140.2,325.8 1150.4,316.1 1160.6,306.6 1170.8,297.1 1180.9,287.8 1191.1,278.7 1201.3,269.8 1211.5,261.2 1221.7,252.7 1231.9,244.3 1242.0,235.9 1252.2,227.6 1262.4,219.6 1272.6,211.9 1282.8,204.3 1293.0,197.0 1303.2,190.0 1313.3,183.1 1323.5,176.2 1333.7,169.1 1343.9,162.2 1354.1,155.5 1364.3,149.4 1374.5,143.4 1384.6,137.6 1394.8,131.8 1405.0,126.1 1415.2,120.7 1425.4,116.1 1435.6,111.6 1445.7,107.4 1455.9,102.7 1466.1,98.2 1476.3,93.8 1486.5,89.6 1496.7,85.5 1506.9,81.7 1517.0,78.0 1527.2,74.5 1537.4,71.1 1547.6,68.1 1557.8,65.2 1568.0,62.6 1578.2,60.0 1588.3,57.4 1598.5,55.1 1608.7,52.9 1618.9,50.9 1629.1,49.1 1639.3,47.4 1649.4,46.0 1659.6,44.7 1669.8,43.6 1680.0,42.8 1680.0,75.5 1669.8,76.2 1659.6,77.1 1649.4,78.1 1639.3,79.3 1629.1,80.7 1618.9,82.3 1608.7,84.0 1598.5,85.9 1588.3,88.0 1578.2,90.3 1568.0,92.9 1557.8,95.8 1547.6,98.9 1537.4,102.2 1527.2,105.5 1517.0,109.0 1506.9,112.7 1496.7,116.6 1486.5,120.6 1476.3,124.9 1466.1,129.4 1455.9,134.0 1445.7,138.9 1435.6,144.6 1425.4,150.5 1415.2,156.5 1405.0,162.1 1394.8,167.8 1384.6,173.8 1374.5,180.1 1364.3,186.6 1354.1,193.2 1343.9,199.8 1333.7,206.4 1323.5,213.3 1313.3,220.7 1303.2,228.5 1293.0,236.5 1282.8,244.5 1272.6,252.7 1262.4,261.1 1252.2,269.6 1242.0,278.2 1231.9,287.0 1221.7,296.1 1211.5,305.6 1201.3,315.3 1191.1,325.1 1180.9,335.0 1170.8,345.1 1160.6,355.4 1150.4,365.9 1140.2,376.7 1130.0,387.5 1119.8,398.1 1109.6,408.9 1099.5,419.9 1089.3,431.4 1079.1,443.0 1068.9,454.9" fill="#0000cd" fill-opacity="0.100"/>
<polygon points="1068.9,404.4 1079.1,393.2 1089.3,382.2 1099.5,371.4 1109.6,360.5 1119.8,349.8 1130.0,339.2 1140.2,329.2 1150.4,319.5 1160.6,310.0 1170.8,300.6 1180.9,291.3 1191.1,282.2 1201.3,273.3 1211.5,264.6 1221.7,256.2 1231.9,247.7 1242.0,239.3 1252.2,231.0 1262.4,223.0 1272.6,215.3 1282.8,207.7 1293.0,200.4 1303.2,193.3 1313.3,186.5 1323.5,179.6 1333.7,172.5 1343.9,165.6 1354.1,158.9 1364.3,152.8 1374.5,146.8 1384.6,141.0 1394.8,135.2 1405.0,129.5 1415.2,124.1 1425.4,119.5 1435.6,115.0 1445.7,110.7 1455.9,106.1 1466.1,101.6 1476.3,97.2 1486.5,93.0 1496.7,88.9 1506.9,85.0 1517.0,81.3 1527.2,77.8 1537.4,74.5 1547.6,71.4 1557.8,68.5 1568.0,65.9 1578.2,63.3 1588.3,60.7 1598.5,58.3 1608.7,56.1 1618.9,54.1 1629.1,52.3 1639.3,50.6 1649.4,49.2 1659.6,47.9 1669.8,46.8 1680.0,46.0 1680.0,78.6 1669.8,79.4 1659.6,80.3 1649.4,81.3 1639.3,82.5 1629.1,83.9 1618.9,85.5 1608.7,87.3 1598.5,89.2 1588.3,91.3 1578.2,93.6 1568.0,96.2 1557.8,99.1 1547.6,102.2 1537.4,105.5 1527.2,108.8 1517.0,112.3 1506.9,116.0 1496.7,119.9 1486.5,124.0 1476.3,128.2 1466.1,132.7 1455.9,137.4 1445.7,142.3 1435.6,148.0 1425.4,153.9 1415.2,159.9 1405.0,165.5 1394.8,171.2 1384.6,177.2 1374.5,183.5 1364.3,190.0 1354.1,196.6 1343.9,203.2 1333.7,209.8 1323.5,216.7 1313.3,224.1 1303.2,231.9 1293.0,239.9 1282.8,247.9 1272.6,256.1 1262.4,264.5 1252.2,273.0 1242.0,281.6 1231.9,290.4 1221.7,299.6 1211.5,309.1 1201.3,318.8 1191.1,328.6 1180.9,338.5 1170.8,348.6 1160.6,358.8 1150.4,369.4 1140.2,380.1 1130.0,390.9 1119.8,401.5 1109.6,412.2 1099.5,423.2 1089.3,434.6 1079.1,446.3 1068.9,458.1" fill="#0000ff" fill-opacity="0.098"/>
<polygon points="1068.9,407.6 1079.1,396.4 1089.3,385.5 1099.5,374.7 1109.6,363.8 1119.8,353.1 1130.0,342.6 1140.2,332.6 1150.4,323.0 1160.6,313.5 1170.8,304.1 1180.9,294.8 1191.1,285.7 1201.3,276.8 1211.5,268.1 1221.7,259.6 1231.9,251.1 1242.0,242.7 1252.2,234.4 1262.4,226.4 1272.6,218.7 1282.8,211.1 1293.0,203.8 1303.2,196.7 1313.3,189.9 1323.5,183.0 1333.7,175.9 1343.9,169.0 1354.1,162.3 1364.3,156.2 1374.5,150.2 1384.6,144.4 1394.8,138.6 1405.0,132.9 1415.2,127.5 1425.4,122.8 1435.6,118.4 1445.7,114.1 1455.9,109.5 1466.1,104.9 1476.3,100.6 1486.5,96.3 1496.7,92.2 1506.9,88.4 1517.0,84.7 1527.2,81.1 1537.4,77.8 1547.6,74.7 1557.8,71.8 1568.0,69.2 1578.2,66.5 1588.3,64.0 1598.5,61.6 1608.7,59.4 1618.9,57.3 1629.1,55.5 1639.3,53.8 1649.4,52.4 1659.6,51.1 1669.8,50.0 1680.0,49.2 1680.0,81.8 1669.8,82.6 1659.6,83.5 1649.4,84.5 1639.3,85.7 1629.1,87.1 1618.9,88.7 1608.7,90.5 1598.5,92.4 1588.3,94.6 1578.2,96.9 1568.0,99.5 1557.8,102.4 1547.6,105.6 1537.4,108.8 1527.2,112.1 1517.0,115.7 1506.9,119.4 1496.7,123.3 1486.5,127.3 1476.3,131.6 1466.1,136.1 1455.9,140.8 1445.7,145.7 1435.6,151.4 1425.4,157.3 1415.2,163.3 1405.0,168.9 1394.8,174.6 1384.6,180.6 1374.5,186.9 1364.3,193.4 1354.1,200.0 1343.9,206.6 1333.7,213.2 1323.5,220.1 1313.3,227.5 1303.2,235.3 1293.0,243.2 1282.8,251.3 1272.6,259.5 1262.4,267.9 1252.2,276.4 1242.0,285.1 1231.9,293.9 1221.7,303.0 1211.5,312.6 1201.3,322.3 1191.1,332.1 1180.9,342.0 1170.8,352.0 1160.6,362.3 1150.4,372.8 1140.2,383.5 1130.0,394.3 1119.8,404.8 1109.6,415.5 1099.5,426.4 1089.3,437.9 1079.1,449.5 1068.9,461.3" fill="#4169e1" fill-opacity="0.095"/>
<polygon points="1068.9,410.8 1079.1,399.6 1089.3,388.7 1099.5,377.9 1109.6,367.1 1119.8,356.4 1130.0,345.9 1140.2,336.0 1150.4,326.4 1160.6,317.0 1170.8,307.6 1180.9,298.3 1191.1,289.2 1201.3,280.3 1211.5,271.6 1221.7,263.1 1231.9,254.6 1242.0,246.1 1252.2,237.8 1262.4,229.8 1272.6,222.1 1282.8,214.5 1293.0,207.2 1303.2,200.1 1313.3,193.3 1323.5,186.4 1333.7,179.3 1343.9,172.4 1354.1,165.7 1364.3,159.6 1374.5,153.6 1384.6,147.8 1394.8,142.0 1405.0,136.3 1415.2,130.9 1425.4,126.2 1435.6,121.8 1445.7,117.5 1455.9,112.9 1466.1,108.3 1476.3,103.9 1486.5,99.7 1496.7,95.6 1506.9,91.7 1517.0,88.0 1527.2,84.5 1537.4,81.1 1547.6,78.0 1557.8,75.1 1568.0,72.4 1578.2,69.8 1588.3,67.2 1598.5,64.8 1608.7,62.6 1618.9,60.6 1629.1,58.7 1639.3,57.1 1649.4,55.6 1659.6,54.3 1669.8,53.2 1680.0,52.4 1680.0,85.0 1669.8,85.8 1659.6,86.7 1649.4,87.7 1639.3,89.0 1629.1,90.4 1618.9,92.0 1608.7,93.7 1598.5,95.7 1588.3,97.8 1578.2,100.2 1568.0,102.8 1557.8,105.7 1547.6,108.9 1537.4,112.1 1527.2,115.5 1517.0,119.0 1506.9,122.7 1496.7,126.6 1486.5,130.7 1476.3,135.0 1466.1,139.5 1455.9,144.2 1445.7,149.1 1435.6,154.8 1425.4,160.6 1415.2,166.7 1405.0,172.3 1394.8,178.0 1384.6,184.0 1374.5,190.3 1364.3,196.8 1354.1,203.4 1343.9,210.0 1333.7,216.6 1323.5,223.5 1313.3,230.9 1303.2,238.7 1293.0,246.6 1282.8,254.7 1272.6,262.9 1262.4,271.3 1252.2,279.8 1242.0,288.5 1231.9,297.3 1221.7,306.5 1211.5,316.0 1201.3,325.8 1191.1,335.6 1180.9,345.5 1170.8,355.5 1160.6,365.8 1150.4,376.3 1140.2,386.9 1130.0,397.6 1119.8,408.1 1109.6,418.8 1099.5,429.7 1089.3,441.1 1079.1,452.7 1068.9,464.5" fill="#00bfff" fill-opacity="0.092"/>
<polygon points="1068.9,414.0 1079.1,402.8 1089.3,391.9 1099.5,381.2 1109.6,370.4 1119.8,359.8 1130.0,349.3 1140.2,339.4 1150.4,329.9 1160.6,320.4 1170.8,311.1 1180.9,301.8 1191.1,292.7 1201.3,283.8 1211.5,275.1 1221.7,266.5 1231.9,258.0 1242.0,249.5 1252.2,241.3 1262.4,233.2 1272.6,225.5 1282.8,217.9 1293.0,210.6 1303.2,203.5 1313.3,196.6 1323.5,189.8 1333.7,182.7 1343.9,175.8 1354.1,169.1 1364.3,163.0 1374.5,157.0 1384.6,151.2 1394.8,145.4 1405.0,139.7 1415.2,134.3 1425.4,129.6 1435.6,125.2 1445.7,120.9 1455.9,116.2 1466.1,111.7 1476.3,107.3 1486.5,103.0 1496.7,99.0 1506.9,95.0 1517.0,91.3 1527.2,87.8 1537.4,84.4 1547.6,81.3 1557.8,78.4 1568.0,75.7 1578.2,73.1 1588.3,70.5 1598.5,68.1 1608.7,65.9 1618.9,63.8 1629.1,62.0 1639.3,60.3 1649.4,58.8 1659.6,57.4 1669.8,56.3 1680.0,55.6 1680.0,88.2 1669.8,89.0 1659.6,89.9 1649.4,90.9 1639.3,92.2 1629.1,93.6 1618.9,95.2 1608.7,97.0 1598.5,99.0 1588.3,101.1 1578.2,103.5 1568.0,106.1 1557.8,109.0 1547.6,112.2 1537.4,115.4 1527.2,118.8 1517.0,122.3 1506.9,126.1 1496.7,130.0 1486.5,134.1 1476.3,138.3 1466.1,142.8 1455.9,147.5 1445.7,152.5 1435.6,158.2 1425.4,164.0 1415.2,170.1 1405.0,175.7 1394.8,181.4 1384.6,187.4 1374.5,193.7 1364.3,200.2 1354.1,206.8 1343.9,213.4 1333.7,220.0 1323.5,226.9 1313.3,234.3 1303.2,242.1 1293.0,250.0 1282.8,258.1 1272.6,266.3 1262.4,274.7 1252.2,283.2 1242.0,291.9 1231.9,300.8 1221.7,310.0 1211.5,319.5 1201.3,329.2 1191.1,339.1 1180.9,349.0 1170.8,359.0 1160.6,369.2 1150.4,379.7 1140.2,390.3 1130.0,401.0 1119.8,411.5 1109.6,422.1 1099.5,433.0 1089.3,444.3 1079.1,455.9 1068.9,467.7" fill="#4682b4" fill-opacity="0.090"/>
<polygon points="1068.9,417.2 1079.1,406.1 1089.3,395.2 1099.5,384.5 1109.6,373.7 1119.8,363.1 1130.0,352.7 1140.2,342.9 1150.4,333.3 1160.6,323.9 1170.8,314.6 1180.9,305.3 1191.1,296.2 1201.3,287.3 1211.5,278.5 1221.7,270.0 1231.9,261.5 1242.0,253.0 1252.2,244.7 1262.4,236.6 1272.6,228.9 1282.8,221.3 1293.0,214.0 1303.2,206.9 1313.3,200.0 1323.5,193.2 1333.7,186.1 1343.9,179.2 1354.1,172.5 1364.3,166.4 1374.5,160.4 1384.6,154.6 1394.8,148.8 1405.0,143.1 1415.2,137.7 1425.4,133.0 1435.6,128.6 1445.7,124.3 1455.9,119.6 1466.1,115.0 1476.3,110.7 1486.5,106.4 1496.7,102.3 1506.9,98.4 1517.0,94.7 1527.2,91.1 1537.4,87.7 1547.6,84.6 1557.8,81.7 1568.0,79.0 1578.2,76.4 1588.3,73.8 1598.5,71.4 1608.7,69.1 1618.9,67.1 1629.1,65.2 1639.3,63.5 1649.4,62.0 1659.6,60.6 1669.8,59.5 1680.0,58.7 1680.0,91.4 1669.8,92.1 1659.6,93.1 1649.4,94.1 1639.3,95.4 1629.1,96.8 1618.9,98.4 1608.7,100.2 1598.5,102.2 1588.3,104.4 1578.2,106.7 1568.0,109.4 1557.8,112.3 1547.6,115.5 1537.4,118.8 1527.2,122.1 1517.0,125.7 1506.9,129.4 1496.7,133.3 1486.5,137.4 1476.3,141.7 1466.1,146.2 1455.9,150.9 1445.7,155.9 1435.6,161.6 1425.4,167.4 1415.2,173.5 1405.0,179.1 1394.8,184.8 1384.6,190.8 1374.5,197.1 1364.3,203.6 1354.1,210.2 1343.9,216.8 1333.7,223.4 1323.5,230.3 1313.3,237.7 1303.2,245.5 1293.0,253.4 1282.8,261.5 1272.6,269.7 1262.4,278.1 1252.2,286.6 1242.0,295.3 1231.9,304.2 1221.7,313.4 1211.5,323.0 1201.3,332.7 1191.1,342.6 1180.9,352.5 1170.8,362.5 1160.6,372.7 1150.4,383.1 1140.2,393.7 1130.0,404.4 1119.8,414.8 1109.6,425.4 1099.5,436.2 1089.3,447.6 1079.1,459.1 1068.9,470.8" fill="#87cefa" fill-opacity="0.088"/>
<polygon points="1068.9,420.3 1079.1,409.3 1089.3,398.4 1099.5,387.7 1109.6,377.0 1119.8,366.4 1130.0,356.0 1140.2,346.3 1150.4,336.7 1160.6,327.4 1170.8,318.0 1180.9,308.8 1191.1,299.7 1201.3,290.7 1211.5,282.0 1221.7,273.4 1231.9,264.9 1242.0,256.4 1252.2,248.1 1262.4,240.0 1272.6,232.3 1282.8,224.7 1293.0,217.4 1303.2,210.3 1313.3,203.4 1323.5,196.6 1333.7,189.5 1343.9,182.6 1354.1,175.9 1364.3,169.8 1374.5,163.8 1384.6,158.0 1394.8,152.2 1405.0,146.5 1415.2,141.1 1425.4,136.4 1435.6,131.9 1445.7,127.7 1455.9,123.0 1466.1,118.4 1476.3,114.0 1486.5,109.8 1496.7,105.7 1506.9,101.7 1517.0,98.0 1527.2,94.4 1537.4,91.1 1547.6,87.9 1557.8,85.0 1568.0,82.3 1578.2,79.7 1588.3,77.0 1598.5,74.6 1608.7,72.4 1618.9,70.3 1629.1,68.4 1639.3,66.7 1649.4,65.2 1659.6,63.8 1669.8,62.7 1680.0,61.9 1680.0,94.5 1669.8,95.3 1659.6,96.2 1649.4,97.3 1639.3,98.6 1629.1,100.0 1618.9,101.7 1608.7,103.5 1598.5,105.5 1588.3,107.7 1578.2,110.0 1568.0,112.7 1557.8,115.6 1547.6,118.8 1537.4,122.1 1527.2,125.5 1517.0,129.0 1506.9,132.8 1496.7,136.7 1486.5,140.8 1476.3,145.1 1466.1,149.6 1455.9,154.3 1445.7,159.2 1435.6,164.9 1425.4,170.8 1415.2,176.9 1405.0,182.4 1394.8,188.2 1384.6,194.2 1374.5,200.5 1364.3,207.0 1354.1,213.6 1343.9,220.2 1333.7,226.8 1323.5,233.6 1313.3,241.1 1303.2,248.9 1293.0,256.8 1282.8,264.9 1272.6,273.1 1262.4,281.5 1252.2,290.0 1242.0,298.7 1231.9,307.6 1221.7,316.9 1211.5,326.5 1201.3,336.2 1191.1,346.1 1180.9,356.0 1170.8,366.0 1160.6,376.2 1150.4,386.6 1140.2,397.1 1130.0,407.7 1119.8,418.1 1109.6,428.7 1099.5,439.5 1089.3,450.8 1079.1,462.3 1068.9,474.0" fill="#00ffff" fill-opacity="0.085"/>
<polygon points="1068.9,423.5 1079.1,412.5 1089.3,401.6 1099.5,391.0 1109.6,380.3 1119.8,369.7 1130.0,359.4 1140.2,349.7 1150.4,340.2 1160.6,330.8 1170.8,321.5 1180.9,312.3 1191.1,303.2 1201.3,294.2 1211.5,285.5 1221.7,276.9 1231.9,268.3 1242.0,259.8 1252.2,251.5 1262.4,243.4 1272.6,235.6 1282.8,228.1 1293.0,220.7 1303.2,213.7 1313.3,206.8 1323.5,200.0 1333.7,192.9 1343.9,186.0 1354.1,179.3 1364.3,173.2 1374.5,167.2 1384.6,161.4 1394.8,155.6 1405.0,149.9 1415.2,144.5 1425.4,139.8 1435.6,135.3 1445.7,131.0 1455.9,126.4 1466.1,121.8 1476.3,117.4 1486.5,113.1 1496.7,109.0 1506.9,105.1 1517.0,101.3 1527.2,97.8 1537.4,94.4 1547.6,91.2 1557.8,88.3 1568.0,85.6 1578.2,82.9 1588.3,80.3 1598.5,77.9 1608.7,75.6 1618.9,73.5 1629.1,71.6 1639.3,69.9 1649.4,68.4 1659.6,67.0 1669.8,65.9 1680.0,65.1 1680.0,97.7 1669.8,98.5 1659.6,99.4 1649.4,100.5 1639.3,101.8 1629.1,103.3 1618.9,104.9 1608.7,106.7 1598.5,108.7 1588.3,110.9 1578.2,113.3 1568.0,116.0 1557.8,118.9 1547.6,122.1 1537.4,125.4 1527.2,128.8 1517.0,132.4 1506.9,136.1 1496.7,140.0 1486.5,144.1 1476.3,148.4 1466.1,153.0 1455.9,157.7 1445.7,162.6 1435.6,168.3 1425.4,174.2 1415.2,180.3 1405.0,185.8 1394.8,191.6 1384.6,197.6 1374.5,203.9 1364.3,210.4 1354.1,217.0 1343.9,223.6 1333.7,230.2 1323.5,237.0 1313.3,244.5 1303.2,252.2 1293.0,260.2 1282.8,268.3 1272.6,276.5 1262.4,284.9 1252.2,293.4 1242.0,302.2 1231.9,311.1 1221.7,320.3 1211.5,329.9 1201.3,339.7 1191.1,349.6 1180.9,359.5 1170.8,369.5 1160.6,379.7 1150.4,390.0 1140.2,400.5 1130.0,411.1 1119.8,421.4 1109.6,432.0 1099.5,442.8 1089.3,454.0 1079.1,465.5 1068.9,477.2" fill="#008080" fill-opacity="0.083"/>
<polygon points="1068.9,426.7 1079.1,415.7 1089.3,404.9 1099.5,394.3 1109.6,383.6 1119.8,373.1 1130.0,362.8 1140.2,353.1 1150.4,343.6 1160.6,334.3 1170.8,325.0 1180.9,315.8 1191.1,306.7 1201.3,297.7 1211.5,289.0 1221.7,280.4 1231.9,271.8 1242.0,263.2 1252.2,254.9 1262.4,246.8 1272.6,239.0 1282.8,231.5 1293.0,224.1 1303.2,217.1 1313.3,210.2 1323.5,203.4 1333.7,196.3 1343.9,189.4 1354.1,182.7 1364.3,176.6 1374.5,170.6 1384.6,164.8 1394.8,159.0 1405.0,153.3 1415.2,147.8 1425.4,143.2 1435.6,138.7 1445.7,134.4 1455.9,129.7 1466.1,125.2 1476.3,120.8 1486.5,116.5 1496.7,112.4 1506.9,108.4 1517.0,104.7 1527.2,101.1 1537.4,97.7 1547.6,94.6 1557.8,91.6 1568.0,88.9 1578.2,86.2 1588.3,83.6 1598.5,81.1 1608.7,78.9 1618.9,76.8 1629.1,74.9 1639.3,73.1 1649.4,71.6 1659.6,70.2 1669.8,69.1 1680.0,68.3 1680.0,100.9 1669.8,101.7 1659.6,102.6 1649.4,103.7 1639.3,105.0 1629.1,106.5 1618.9,108.2 1608.7,110.0 1598.5,112.0 1588.3,114.2 1578.2,116.6 1568.0,119.3 1557.8,122.2 1547.6,125.4 1537.4,128.7 1527.2,132.1 1517.0,135.7 1506.9,139.4 1496.7,143.4 1486.5,147.5 1476.3,151.8 1466.1,156.3 1455.9,161.0 1445.7,166.0 1435.6,171.7 1425.4,177.6 1415.2,183.6 1405.0,189.2 1394.8,195.0 1384.6,201.0 1374.5,207.3 1364.3,213.8 1354.1,220.4 1343.9,227.0 1333.7,233.6 1323.5,240.4 1313.3,247.9 1303.2,255.6 1293.0,263.6 1282.8,271.6 1272.6,279.9 1262.4,288.3 1252.2,296.9 1242.0,305.6 1231.9,314.5 1221.7,323.8 1211.5,333.4 1201.3,343.2 1191.1,353.1 1180.9,363.0 1170.8,373.0 1160.6,383.1 1150.4,393.5 1140.2,403.9 1130.0,414.5 1119.8,424.8 1109.6,435.3 1099.5,446.0 1089.3,457.3 1079.1,468.7 1068.9,480.4" fill="#008000" fill-opacity="0.080"/>
<polygon points="1068.9,429.9 1079.1,418.9 1089.3,408.1 1099.5,397.5 1109.6,386.9 1119.8,376.4 1130.0,366.1 1140.2,356.5 1150.4,347.1 1160.6,337.8 1170.8,328.5 1180.9,319.3 1191.1,310.2 1201.3,301.2 1211.5,292.4 1221.7,283.8 1231.9,275.2 1242.0,266.6 1252.2,258.3 1262.4,250.2 1272.6,242.4 1282.8,234.9 1293.0,227.5 1303.2,220.5 1313.3,213.6 1323.5,206.8 1333.7,199.7 1343.9,192.8 1354.1,186.1 1364.3,180.0 1374.5,174.0 1384.6,168.2 1394.8,162.4 1405.0,156.7 1415.2,151.2 1425.4,146.6 1435.6,142.1 1445.7,137.8 1455.9,133.1 1466.1,128.5 1476.3,124.1 1486.5,119.8 1496.7,115.7 1506.9,111.8 1517.0,108.0 1527.2,104.4 1537.4,101.0 1547.6,97.9 1557.8,94.9 1568.0,92.2 1578.2,89.5 1588.3,86.9 1598.5,84.4 1608.7,82.1 1618.9,80.0 1629.1,78.1 1639.3,76.3 1649.4,74.8 1659.6,73.4 1669.8,72.3 1680.0,71.5 1680.0,104.1 1669.8,104.9 1659.6,105.8 1649.4,106.9 1639.3,108.2 1629.1,109.7 1618.9,111.4 1608.7,113.2 1598.5,115.3 1588.3,117.5 1578.2,119.9 1568.0,122.5 1557.8,125.5 1547.6,128.7 1537.4,132.0 1527.2,135.4 1517.0,139.0 1506.9,142.8 1496.7,146.7 1486.5,150.9 1476.3,155.2 1466.1,159.7 1455.9,164.4 1445.7,169.4 1435.6,175.1 1425.4,181.0 1415.2,187.0 1405.0,192.6 1394.8,198.4 1384.6,204.4 1374.5,210.7 1364.3,217.2 1354.1,223.8 1343.9,230.4 1333.7,237.0 1323.5,243.8 1313.3,251.3 1303.2,259.0 1293.0,267.0 1282.8,275.0 1272.6,283.3 1262.4,291.7 1252.2,300.3 1242.0,309.0 1231.9,317.9 1221.7,327.2 1211.5,336.9 1201.3,346.7 1191.1,356.6 1180.9,366.5 1170.8,376.5 1160.6,386.6 1150.4,396.9 1140.2,407.3 1130.0,417.8 1119.8,428.1 1109.6,438.6 1099.5,449.3 1089.3,460.5 1079.1,472.0 1068.9,483.6" fill="#00ff00" fill-opacity="0.078"/>
<polygon points="1068.9,433.1 1079.1,422.1 1089.3,411.3 1099.5,400.8 1109.6,390.2 1119.8,379.7 1130.0,369.5 1140.2,359.9 1150.4,350.5 1160.6,341.3 1170.8,332.0 1180.9,322.8 1191.1,313.7 1201.3,304.7 1211.5,295.9 1221.7,287.3 1231.9,278.6 1242.0,270.1 1252.2,261.7 1262.4,253.6 1272.6,245.8 1282.8,238.2 1293.0,230.9 1303.2,223.9 1313.3,217.0 1323.5,210.2 1333.7,203.1 1343.9,196.2 1354.1,189.5 1364.3,183.4 1374.5,177.4 1384.6,171.6 1394.8,165.8 1405.0,160.1 1415.2,154.6 1425.4,150.0 1435.6,145.5 1445.7,141.2 1455.9,136.5 1466.1,131.9 1476.3,127.5 1486.5,123.2 1496.7,119.1 1506.9,115.1 1517.0,111.3 1527.2,107.8 1537.4,104.3 1547.6,101.2 1557.8,98.2 1568.0,95.5 1578.2,92.8 1588.3,90.1 1598.5,87.6 1608.7,85.4 1618.9,83.2 1629.1,81.3 1639.3,79.6 1649.4,78.0 1659.6,76.6 1669.8,75.4 1680.0,74.7 1680.0,107.3 1669.8,108.0 1659.6,109.0 1649.4,110.1 1639.3,111.5 1629.1,112.9 1618.9,114.6 1608.7,116.5 1598.5,118.5 1588.3,120.7 1578.2,123.1 1568.0,125.8 1557.8,128.8 1547.6,132.0 1537.4,135.4 1527.2,138.8 1517.0,142.4 1506.9,146.1 1496.7,150.1 1486.5,154.2 1476.3,158.5 1466.1,163.1 1455.9,167.8 1445.7,172.8 1435.6,178.5 1425.4,184.4 1415.2,190.4 1405.0,196.0 1394.8,201.8 1384.6,207.8 1374.5,214.1 1364.3,220.6 1354.1,227.2 1343.9,233.8 1333.7,240.4 1323.5,247.2 1313.3,254.7 1303.2,262.4 1293.0,270.4 1282.8,278.4 1272.6,286.7 1262.4,295.1 1252.2,303.7 1242.0,312.4 1231.9,321.4 1221.7,330.7 1211.5,340.4 1201.3,350.2 1191.1,360.1 1180.9,370.0 1170.8,380.0 1160.6,390.1 1150.4,400.3 1140.2,410.7 1130.0,421.2 1119.8,431.4 1109.6,441.9 1099.5,452.5 1089.3,463.7 1079.1,475.2 1068.9,486.8" fill="#adff2f" fill-opacity="0.075"/>
<polygon points="1068.9,436.3 1079.1,425.3 1089.3,414.6 1099.5,404.0 1109.6,393.4 1119.8,383.1 1130.0,372.9 1140.2,363.3 1150.4,353.9 1160.6,344.7 1170.8,335.5 1180.9,326.3 1191.1,317.2 1201.3,308.2 1211.5,299.4 1221.7,290.7 1231.9,282.1 1242.0,273.5 1252.2,265.1 1262.4,257.0 1272.6,249.2 1282.8,241.6 1293.0,234.3 1303.2,227.3 1313.3,220.4 1323.5,213.6 1333.7,206.5 1343.9,199.6 1354.1,192.9 1364.3,186.8 1374.5,180.8 1384.6,175.0 1394.8,169.2 1405.0,163.5 1415.2,158.0 1425.4,153.4 1435.6,148.9 1445.7,144.6 1455.9,139.9 1466.1,135.3 1476.3,130.9 1486.5,126.6 1496.7,122.4 1506.9,118.5 1517.0,114.7 1527.2,111.1 1537.4,107.7 1547.6,104.5 1557.8,101.5 1568.0,98.8 1578.2,96.1 1588.3,93.4 1598.5,90.9 1608.7,88.6 1618.9,86.5 1629.1,84.5 1639.3,82.8 1649.4,81.2 1659.6,79.8 1669.8,78.6 1680.0,77.8 1680.0,110.4 1669.8,111.2 1659.6,112.2 1649.4,113.3 1639.3,114.7 1629.1,116.2 1618.9,117.9 1608.7,119.7 1598.5,121.8 1588.3,124.0 1578.2,126.4 1568.0,129.1 1557.8,132.1 1547.6,135.3 1537.4,138.7 1527.2,142.1 1517.0,145.7 1506.9,149.5 1496.7,153.4 1486.5,157.6 1476.3,161.9 1466.1,166.4 1455.9,171.2 1445.7,176.2 1435.6,181.9 1425.4,187.8 1415.2,193.8 1405.0,199.4 1394.8,205.2 1384.6,211.2 1374.5,217.5 1364.3,224.0 1354.1,230.6 1343.9,237.2 1333.7,243.8 1323.5,250.6 1313.3,258.0 1303.2,265.8 1293.0,273.8 1282.8,281.8 1272.6,290.0 1262.4,298.5 1252.2,307.1 1242.0,315.8 1231.9,324.8 1221.7,334.2 1211.5,343.8 1201.3,353.7 1191.1,363.6 1180.9,373.5 1170.8,383.5 1160.6,393.5 1150.4,403.8 1140.2,414.1 1130.0,424.6 1119.8,434.8 1109.6,445.2 1099.5,455.8 1089.3,467.0 1079.1,478.4 1068.9,490.0" fill="#ffff00" fill-opacity="0.073"/>
<polygon points="1068.9,439.5 1079.1,428.5 1089.3,417.8 1099.5,407.3 1109.6,396.7 1119.8,386.4 1130.0,376.2 1140.2,366.7 1150.4,357.4 1160.6,348.2 1170.8,339.0 1180.9,329.8 1191.1,320.7 1201.3,311.7 1211.5,302.9 1221.7,294.2 1231.9,285.5 1242.0,276.9 1252.2,268.5 1262.4,260.4 1272.6,252.6 1282.8,245.0 1293.0,237.7 1303.2,230.6 1313.3,223.8 1323.5,217.0 1333.7,209.9 1343.9,203.0 1354.1,196.3 1364.3,190.2 1374.5,184.2 1384.6,178.4 1394.8,172.6 1405.0,166.9 1415.2,161.4 1425.4,156.8 1435.6,152.3 1445.7,148.0 1455.9,143.2 1466.1,138.6 1476.3,134.2 1486.5,129.9 1496.7,125.8 1506.9,121.8 1517.0,118.0 1527.2,114.4 1537.4,111.0 1547.6,107.8 1557.8,104.8 1568.0,102.1 1578.2,99.3 1588.3,96.7 1598.5,94.2 1608.7,91.9 1618.9,89.7 1629.1,87.8 1639.3,86.0 1649.4,84.4 1659.6,83.0 1669.8,81.8 1680.0,81.0 1680.0,113.6 1669.8,114.4 1659.6,115.4 1649.4,116.5 1639.3,117.9 1629.1,119.4 1618.9,121.1 1608.7,123.0 1598.5,125.0 1588.3,127.3 1578.2,129.7 1568.0,132.4 1557.8,135.4 1547.6,138.7 1537.4,142.0 1527.2,145.4 1517.0,149.0 1506.9,152.8 1496.7,156.8 1486.5,160.9 1476.3,165.3 1466.1,169.8 1455.9,174.6 1445.7,179.5 1435.6,185.3 1425.4,191.2 1415.2,197.2 1405.0,202.8 1394.8,208.6 1384.6,214.6 1374.5,220.9 1364.3,227.4 1354.1,234.0 1343.9,240.6 1333.7,247.2 1323.5,254.0 1313.3,261.4 1303.2,269.2 1293.0,277.1 1282.8,285.2 1272.6,293.4 1262.4,301.9 1252.2,310.5 1242.0,319.3 1231.9,328.3 1221.7,337.6 1211.5,347.3 1201.3,357.2 1191.1,367.1 1180.9,377.0 1170.8,386.9 1160.6,397.0 1150.4,407.2 1140.2,417.6 1130.0,427.9 1119.8,438.1 1109.6,448.4 1099.5,459.1 1089.3,470.2 1079.1,481.6 1068.9,493.2" fill="#ffd700" fill-opacity="0.070"/>
<polygon points="1068.9,442.7 1079.1,431.8 1089.3,421.0 1099.5,410.6 1109.6,400.0 1119.8,389.7 1130.0,379.6 1140.2,370.1 1150.4,360.8 1160.6,351.7 1170.8,342.5 1180.9,333.3 1191.1,324.2 1201.3,315.2 1211.5,306.3 1221.7,297.6 1231.9,288.9 1242.0,280.3 1252.2,271.9 1262.4,263.8 1272.6,256.0 1282.8,248.4 1293.0,241.1 1303.2,234.0 1313.3,227.2 1323.5,220.4 1333.7,213.3 1343.9,206.4 1354.1,199.7 1364.3,193.6 1374.5,187.6 1384.6,181.8 1394.8,176.0 1405.0,170.3 1415.2,164.8 1425.4,160.1 1435.6,155.7 1445.7,151.3 1455.9,146.6 1466.1,142.0 1476.3,137.6 1486.5,133.3 1496.7,129.1 1506.9,125.2 1517.0,121.4 1527.2,117.7 1537.4,114.3 1547.6,111.1 1557.8,108.1 1568.0,105.4 1578.2,102.6 1588.3,99.9 1598.5,97.4 1608.7,95.1 1618.9,93.0 1629.1,91.0 1639.3,89.2 1649.4,87.6 1659.6,86.2 1669.8,85.0 1680.0,84.2 1680.0,116.8 1669.8,117.6 1659.6,118.6 1649.4,119.7 1639.3,121.1 1629.1,122.6 1618.9,124.3 1608.7,126.2 1598.5,128.3 1588.3,130.5 1578.2,133.0 1568.0,135.7 1557.8,138.7 1547.6,142.0 1537.4,145.3 1527.2,148.8 1517.0,152.4 1506.9,156.2 1496.7,160.1 1486.5,164.3 1476.3,168.6 1466.1,173.2 1455.9,177.9 1445.7,182.9 1435.6,188.6 1425.4,194.5 1415.2,200.6 1405.0,206.2 1394.8,212.0 1384.6,218.0 1374.5,224.3 1364.3,230.8 1354.1,237.4 1343.9,244.0 1333.7,250.6 1323.5,257.4 1313.3,264.8 1303.2,272.6 1293.0,280.5 1282.8,288.6 1272.6,296.8 1262.4,305.3 1252.2,313.9 1242.0,322.7 1231.9,331.7 1221.7,341.1 1211.5,350.8 1201.3,360.7 1191.1,370.6 1180.9,380.5 1170.8,390.4 1160.6,400.5 1150.4,410.7 1140.2,421.0 1130.0,431.3 1119.8,441.4 1109.6,451.7 1099.5,462.3 1089.3,473.4 1079.1,484.8 1068.9,496.4" fill="#ffa500" fill-opacity="0.068"/>
<polygon points="1068.9,445.9 1079.1,435.0 1089.3,424.3 1099.5,413.8 1109.6,403.3 1119.8,393.0 1130.0,383.0 1140.2,373.5 1150.4,364.3 1160.6,355.1 1170.8,346.0 1180.9,336.8 1191.1,327.7 1201.3,318.7 1211.5,309.8 1221.7,301.1 1231.9,292.4 1242.0,283.7 1252.2,275.3 1262.4,267.2 1272.6,259.4 1282.8,251.8 1293.0,244.5 1303.2,237.4 1313.3,230.6 1323.5,223.8 1333.7,216.7 1343.9,209.8 1354.1,203.1 1364.3,197.0 1374.5,191.0 1384.6,185.2 1394.8,179.4 1405.0,173.7 1415.2,168.2 1425.4,163.5 1435.6,159.0 1445.7,154.7 1455.9,150.0 1466.1,145.4 1476.3,140.9 1486.5,136.6 1496.7,132.5 1506.9,128.5 1517.0,124.7 1527.2,121.1 1537.4,117.6 1547.6,114.4 1557.8,111.4 1568.0,108.6 1578.2,105.9 1588.3,103.2 1598.5,100.7 1608.7,98.3 1618.9,96.2 1629.1,94.2 1639.3,92.4 1649.4,90.8 1659.6,89.4 1669.8,88.2 1680.0,87.4 1680.0,120.0 1669.8,120.8 1659.6,121.8 1649.4,122.9 1639.3,124.3 1629.1,125.9 1618.9,127.6 1608.7,129.5 1598.5,131.6 1588.3,133.8 1578.2,136.3 1568.0,139.0 1557.8,142.0 1547.6,145.3 1537.4,148.6 1527.2,152.1 1517.0,155.7 1506.9,159.5 1496.7,163.5 1486.5,167.7 1476.3,172.0 1466.1,176.6 1455.9,181.3 1445.7,186.3 1435.6,192.0 1425.4,197.9 1415.2,204.0 1405.0,209.6 1394.8,215.4 1384.6,221.4 1374.5,227.7 1364.3,234.2 1354.1,240.8 1343.9,247.4 1333.7,254.0 1323.5,260.8 1313.3,268.2 1303.2,276.0 1293.0,283.9 1282.8,292.0 1272.6,300.2 1262.4,308.7 1252.2,317.3 1242.0,326.1 1231.9,335.1 1221.7,344.5 1211.5,354.3 1201.3,364.2 1191.1,374.1 1180.9,384.0 1170.8,393.9 1160.6,403.9 1150.4,414.1 1140.2,424.4 1130.0,434.7 1119.8,444.7 1109.6,455.0 1099.5,465.6 1089.3,476.7 1079.1,488.0 1068.9,499.6" fill="#ff8c00" fill-opacity="0.065"/>
<polygon points="1068.9,449.1 1079.1,438.2 1089.3,427.5 1099.5,417.1 1109.6,406.6 1119.8,396.4 1130.0,386.3 1140.2,376.9 1150.4,367.7 1160.6,358.6 1170.8,349.5 1180.9,340.3 1191.1,331.2 1201.3,322.2 1211.5,313.3 1221.7,304.6 1231.9,295.8 1242.0,287.2 1252.2,278.7 1262.4,270.6 1272.6,262.8 1282.8,255.2 1293.0,247.9 1303.2,240.8 1313.3,234.0 1323.5,227.2 1333.7,220.1 1343.9,213.2 1354.1,206.5 1364.3,200.4 1374.5,194.4 1384.6,188.6 1394.8,182.7 1405.0,177.1 1415.2,171.6 1425.4,166.9 1435.6,162.4 1445.7,158.1 1455.9,153.4 1466.1,148.8 1476.3,144.3 1486.5,140.0 1496.7,135.8 1506.9,131.8 1517.0,128.0 1527.2,124.4 1537.4,120.9 1547.6,117.7 1557.8,114.7 1568.0,111.9 1578.2,109.2 1588.3,106.5 1598.5,103.9 1608.7,101.6 1618.9,99.4 1629.1,97.4 1639.3,95.6 1649.4,94.0 1659.6,92.5 1669.8,91.3 1680.0,90.6 1680.0,123.2 1669.8,124.0 1659.6,125.0 1649.4,126.1 1639.3,127.5 1629.1,129.1 1618.9,130.8 1608.7,132.7 1598.5,134.8 1588.3,137.1 1578.2,139.5 1568.0,142.3 1557.8,145.3 1547.6,148.6 1537.4,152.0 1527.2,155.4 1517.0,159.1 1506.9,162.9 1496.7,166.9 1486.5,171.0 1476.3,175.4 1466.1,179.9 1455.9,184.7 1445.7,189.7 1435.6,195.4 1425.4,201.3 1415.2,207.4 1405.0,213.0 1394.8,218.8 1384.6,224.8 1374.5,231.1 1364.3,237.6 1354.1,244.2 1343.9,250.8 1333.7,257.4 1323.5,264.2 1313.3,271.6 1303.2,279.4 1293.0,287.3 1282.8,295.4 1272.6,303.6 1262.4,312.1 1252.2,320.7 1242.0,329.5 1231.9,338.6 1221.7,348.0 1211.5,357.7 1201.3,367.6 1191.1,377.6 1180.9,387.5 1170.8,397.4 1160.6,407.4 1150.4,417.5 1140.2,427.8 1130.0,438.0 1119.8,448.1 1109.6,458.3 1099.5,468.8 1089.3,479.9 1079.1,491.2 1068.9,502.8" fill="#b90046" fill-opacity="0.062"/>
<polygon points="1068.9,452.3 1079.1,441.4 1089.3,430.7 1099.5,420.4 1109.6,409.9 1119.8,399.7 1130.0,389.7 1140.2,380.3 1150.4,371.2 1160.6,362.1 1170.8,352.9 1180.9,343.8 1191.1,334.7 1201.3,325.7 1211.5,316.8 1221.7,308.0 1231.9,299.3 1242.0,290.6 1252.2,282.1 1262.4,274.0 1272.6,266.2 1282.8,258.6 1293.0,251.3 1303.2,244.2 1313.3,237.4 1323.5,230.5 1333.7,223.5 1343.9,216.6 1354.1,209.9 1364.3,203.8 1374.5,197.8 1384.6,192.0 1394.8,186.1 1405.0,180.5 1415.2,175.0 1425.4,170.3 1435.6,165.8 1445.7,161.5 1455.9,156.8 1466.1,152.1 1476.3,147.7 1486.5,143.4 1496.7,139.2 1506.9,135.2 1517.0,131.4 1527.2,127.7 1537.4,124.2 1547.6,121.0 1557.8,118.0 1568.0,115.2 1578.2,112.5 1588.3,109.7 1598.5,107.2 1608.7,104.8 1618.9,102.7 1629.1,100.7 1639.3,98.8 1649.4,97.2 1659.6,95.7 1669.8,94.5 1680.0,93.7 1680.0,126.4 1669.8,127.1 1659.6,128.1 1649.4,129.4 1639.3,130.7 1629.1,132.3 1618.9,134.0 1608.7,136.0 1598.5,138.1 1588.3,140.4 1578.2,142.8 1568.0,145.6 1557.8,148.6 1547.6,151.9 1537.4,155.3 1527.2,158.7 1517.0,162.4 1506.9,166.2 1496.7,170.2 1486.5,174.4 1476.3,178.7 1466.1,183.3 1455.9,188.1 1445.7,193.1 1435.6,198.8 1425.4,204.7 1415.2,210.8 1405.0,216.4 1394.8,222.2 1384.6,228.2 1374.5,234.5 1364.3,241.0 1354.1,247.6 1343.9,254.2 1333.7,260.8 1323.5,267.6 1313.3,275.0 1303.2,282.8 1293.0,290.7 1282.8,298.8 1272.6,307.0 1262.4,315.5 1252.2,324.1 1242.0,332.9 1231.9,342.0 1221.7,351.4 1211.5,361.2 1201.3,371.1 1191.1,381.1 1180.9,391.0 1170.8,400.9 1160.6,410.9 1150.4,421.0 1140.2,431.2 1130.0,441.4 1119.8,451.4 1109.6,461.6 1099.5,472.1 1089.3,483.1 1079.1,494.4 1068.9,506.0" fill="#850046" fill-opacity="0.060"/>
<polygon points="1068.9,455.5 1079.1,444.6 1089.3,434.0 1099.5,423.6 1109.6,413.2 1119.8,403.0 1130.0,393.1 1140.2,383.7 1150.4,374.6 1160.6,365.5 1170.8,356.4 1180.9,347.3 1191.1,338.2 1201.3,329.1 1211.5,320.2 1221.7,311.5 1231.9,302.7 1242.0,294.0 1252.2,285.5 1262.4,277.4 1272.6,269.6 1282.8,262.0 1293.0,254.6 1303.2,247.6 1313.3,240.8 1323.5,233.9 1333.7,226.9 1343.9,220.0 1354.1,213.3 1364.3,207.2 1374.5,201.2 1384.6,195.4 1394.8,189.5 1405.0,183.9 1415.2,178.4 1425.4,173.7 1435.6,169.2 1445.7,164.9 1455.9,160.1 1466.1,155.5 1476.3,151.0 1486.5,146.7 1496.7,142.5 1506.9,138.5 1517.0,134.7 1527.2,131.0 1537.4,127.6 1547.6,124.3 1557.8,121.3 1568.0,118.5 1578.2,115.7 1588.3,113.0 1598.5,110.5 1608.7,108.1 1618.9,105.9 1629.1,103.9 1639.3,102.0 1649.4,100.4 1659.6,98.9 1669.8,97.7 1680.0,96.9 1680.0,129.5 1669.8,130.3 1659.6,131.3 1649.4,132.6 1639.3,133.9 1629.1,135.5 1618.9,137.3 1608.7,139.2 1598.5,141.3 1588.3,143.6 1578.2,146.1 1568.0,148.9 1557.8,152.0 1547.6,155.2 1537.4,158.6 1527.2,162.1 1517.0,165.7 1506.9,169.6 1496.7,173.6 1486.5,177.7 1476.3,182.1 1466.1,186.7 1455.9,191.4 1445.7,196.4 1435.6,202.2 1425.4,208.1 1415.2,214.2 1405.0,219.8 1394.8,225.6 1384.6,231.6 1374.5,237.9 1364.3,244.4 1354.1,251.0 1343.9,257.6 1333.7,264.2 1323.5,271.0 1313.3,278.4 1303.2,286.2 1293.0,294.1 1282.8,302.2 1272.6,310.4 1262.4,318.9 1252.2,327.5 1242.0,336.4 1231.9,345.4 1221.7,354.9 1211.5,364.7 1201.3,374.6 1191.1,384.6 1180.9,394.5 1170.8,404.4 1160.6,414.4 1150.4,424.4 1140.2,434.6 1130.0,444.8 1119.8,454.7 1109.6,464.9 1099.5,475.4 1089.3,486.4 1079.1,497.6 1068.9,509.2" fill="#960f56" fill-opacity="0.058"/>
<polygon points="1068.9,458.7 1079.1,447.8 1089.3,437.2 1099.5,426.9 1109.6,416.5 1119.8,406.4 1130.0,396.4 1140.2,387.1 1150.4,378.0 1160.6,369.0 1170.8,359.9 1180.9,350.8 1191.1,341.7 1201.3,332.6 1211.5,323.7 1221.7,314.9 1231.9,306.1 1242.0,297.4 1252.2,289.0 1262.4,280.8 1272.6,273.0 1282.8,265.4 1293.0,258.0 1303.2,251.0 1313.3,244.1 1323.5,237.3 1333.7,230.3 1343.9,223.4 1354.1,216.7 1364.3,210.6 1374.5,204.6 1384.6,198.8 1394.8,192.9 1405.0,187.3 1415.2,181.8 1425.4,177.1 1435.6,172.6 1445.7,168.2 1455.9,163.5 1466.1,158.9 1476.3,154.4 1486.5,150.1 1496.7,145.9 1506.9,141.9 1517.0,138.0 1527.2,134.4 1537.4,130.9 1547.6,127.7 1557.8,124.6 1568.0,121.8 1578.2,119.0 1588.3,116.3 1598.5,113.7 1608.7,111.3 1618.9,109.1 1629.1,107.1 1639.3,105.3 1649.4,103.6 1659.6,102.1 1669.8,100.9 1680.0,100.1 1680.0,132.7 1669.8,133.5 1659.6,134.5 1649.4,135.8 1639.3,137.2 1629.1,138.8 1618.9,140.5 1608.7,142.5 1598.5,144.6 1588.3,146.9 1578.2,149.4 1568.0,152.2 1557.8,155.3 1547.6,158.5 1537.4,161.9 1527.2,165.4 1517.0,169.1 1506.9,172.9 1496.7,176.9 1486.5,181.1 1476.3,185.5 1466.1,190.1 1455.9,194.8 1445.7,199.8 1435.6,205.6 1425.4,211.5 1415.2,217.6 1405.0,223.2 1394.8,229.0 1384.6,235.0 1374.5,241.3 1364.3,247.8 1354.1,254.4 1343.9,261.0 1333.7,267.6 1323.5,274.4 1313.3,281.8 1303.2,289.5 1293.0,297.5 1282.8,305.5 1272.6,313.8 1262.4,322.3 1252.2,330.9 1242.0,339.8 1231.9,348.9 1221.7,358.4 1211.5,368.2 1201.3,378.1 1191.1,388.1 1180.9,398.0 1170.8,407.9 1160.6,417.8 1150.4,427.9 1140.2,438.0 1130.0,448.1 1119.8,458.1 1109.6,468.2 1099.5,478.6 1089.3,489.6 1079.1,500.9 1068.9,512.3" fill="#850046" fill-opacity="0.055"/>
<polygon points="1068.9,461.9 1079.1,451.0 1089.3,440.4 1099.5,430.1 1109.6,419.8 1119.8,409.7 1130.0,399.8 1140.2,390.5 1150.4,381.5 1160.6,372.5 1170.8,363.4 1180.9,354.3 1191.1,345.2 1201.3,336.1 1211.5,327.2 1221.7,318.4 1231.9,309.6 1242.0,300.8 1252.2,292.4 1262.4,284.2 1272.6,276.4 1282.8,268.8 1293.0,261.4 1303.2,254.4 1313.3,247.5 1323.5,240.7 1333.7,233.7 1343.9,226.8 1354.1,220.1 1364.3,214.0 1374.5,208.0 1384.6,202.2 1394.8,196.3 1405.0,190.7 1415.2,185.2 1425.4,180.5 1435.6,176.0 1445.7,171.6 1455.9,166.9 1466.1,162.2 1476.3,157.8 1486.5,153.4 1496.7,149.2 1506.9,145.2 1517.0,141.4 1527.2,137.7 1537.4,134.2 1547.6,131.0 1557.8,127.9 1568.0,125.1 1578.2,122.3 1588.3,119.6 1598.5,117.0 1608.7,114.6 1618.9,112.4 1629.1,110.3 1639.3,108.5 1649.4,106.8 1659.6,105.3 1669.8,104.1 1680.0,103.3 1680.0,135.9 1669.8,136.7 1659.6,137.7 1649.4,139.0 1639.3,140.4 1629.1,142.0 1618.9,143.8 1608.7,145.7 1598.5,147.9 1588.3,150.2 1578.2,152.7 1568.0,155.5 1557.8,158.6 1547.6,161.8 1537.4,165.2 1527.2,168.7 1517.0,172.4 1506.9,176.2 1496.7,180.3 1486.5,184.5 1476.3,188.8 1466.1,193.4 1455.9,198.2 1445.7,203.2 1435.6,209.0 1425.4,214.9 1415.2,221.0 1405.0,226.6 1394.8,232.4 1384.6,238.4 1374.5,244.7 1364.3,251.2 1354.1,257.8 1343.9,264.4 1333.7,271.0 1323.5,277.8 1313.3,285.2 1303.2,292.9 1293.0,300.9 1282.8,308.9 1272.6,317.2 1262.4,325.7 1252.2,334.3 1242.0,343.2 1231.9,352.3 1221.7,361.8 1211.5,371.6 1201.3,381.6 1191.1,391.6 1180.9,401.5 1170.8,411.4 1160.6,421.3 1150.4,431.3 1140.2,441.4 1130.0,451.5 1119.8,461.4 1109.6,471.5 1099.5,481.9 1089.3,492.9 1079.1,504.1 1068.9,515.5" fill="#911359" fill-opacity="0.053"/>
<polygon points="1068.9,465.0 1079.1,454.2 1089.3,443.7 1099.5,433.4 1109.6,423.1 1119.8,413.0 1130.0,403.2 1140.2,393.9 1150.4,384.9 1160.6,376.0 1170.8,366.9 1180.9,357.8 1191.1,348.7 1201.3,339.6 1211.5,330.7 1221.7,321.8 1231.9,313.0 1242.0,304.3 1252.2,295.8 1262.4,287.6 1272.6,279.7 1282.8,272.1 1293.0,264.8 1303.2,257.8 1313.3,250.9 1323.5,244.1 1333.7,237.1 1343.9,230.2 1354.1,223.5 1364.3,217.4 1374.5,211.4 1384.6,205.6 1394.8,199.7 1405.0,194.1 1415.2,188.6 1425.4,183.9 1435.6,179.4 1445.7,175.0 1455.9,170.3 1466.1,165.6 1476.3,161.1 1486.5,156.8 1496.7,152.6 1506.9,148.6 1517.0,144.7 1527.2,141.0 1537.4,137.5 1547.6,134.3 1557.8,131.2 1568.0,128.4 1578.2,125.6 1588.3,122.8 1598.5,120.2 1608.7,117.8 1618.9,115.6 1629.1,113.6 1639.3,111.7 1649.4,110.0 1659.6,108.5 1669.8,107.3 1680.0,106.5 1680.0,139.1 1669.8,139.9 1659.6,140.9 1649.4,142.2 1639.3,143.6 1629.1,145.2 1618.9,147.0 1608.7,149.0 1598.5,151.1 1588.3,153.4 1578.2,155.9 1568.0,158.7 1557.8,161.9 1547.6,165.1 1537.4,168.5 1527.2,172.1 1517.0,175.7 1506.9,179.6 1496.7,183.6 1486.5,187.8 1476.3,192.2 1466.1,196.8 1455.9,201.6 1445.7,206.6 1435.6,212.4 1425.4,218.3 1415.2,224.4 1405.0,230.0 1394.8,235.8 1384.6,241.8 1374.5,248.1 1364.3,254.6 1354.1,261.2 1343.9,267.8 1333.7,274.4 1323.5,281.2 1313.3,288.6 1303.2,296.3 1293.0,304.3 1282.8,312.3 1272.6,320.6 1262.4,329.1 1252.2,337.7 1242.0,346.6 1231.9,355.8 1221.7,365.3 1211.5,375.1 1201.3,385.1 1191.1,395.1 1180.9,405.0 1170.8,414.9 1160.6,424.8 1150.4,434.8 1140.2,444.8 1130.0,454.9 1119.8,464.7 1109.6,474.8 1099.5,485.2 1089.3,496.1 1079.1,507.3 1068.9,518.7" fill="#800080" fill-opacity="0.050"/>
<polygon points="1068.9,428.0 1079.1,416.5 1089.3,405.2 1099.5,394.0 1109.6,383.1 1119.8,372.3 1130.0,361.7 1140.2,351.3 1150.4,341.0 1160.6,331.0 1170.8,321.1 1180.9,311.4 1191.1,301.9 1201.3,292.5 1211.5,283.4 1221.7,274.4 1231.9,265.6 1242.0,257.0 1252.2,248.6 1262.4,240.4 1272.6,232.3 1282.8,224.4 1293.0,216.7 1303.2,209.2 1313.3,201.9 1323.5,194.8 1333.7,187.8 1343.9,181.0 1354.1,174.4 1364.3,168.0 1374.5,161.7 1384.6,155.7 1394.8,149.8 1405.0,144.1 1415.2,138.6 1425.4,133.3 1435.6,128.1 1445.7,123.2 1455.9,118.4 1466.1,113.8 1476.3,109.3 1486.5,105.1 1496.7,101.1 1506.9,97.2 1517.0,93.5 1527.2,90.0 1537.4,86.6 1547.6,83.5 1557.8,80.5 1568.0,77.8 1578.2,75.2 1588.3,72.7 1598.5,70.5 1608.7,68.4 1618.9,66.6 1629.1,64.9 1639.3,63.4 1649.4,62.0 1659.6,60.9 1669.8,59.9 1680.0,59.1 1680.0,60.7 1669.8,61.5 1659.6,62.5 1649.4,63.6 1639.3,65.0 1629.1,66.5 1618.9,68.2 1608.7,70.1 1598.5,72.1 1588.3,74.4 1578.2,76.8 1568.0,79.4 1557.8,82.2 1547.6,85.2 1537.4,88.3 1527.2,91.6 1517.0,95.2 1506.9,98.9 1496.7,102.7 1486.5,106.8 1476.3,111.0 1466.1,115.5 1455.9,120.1 1445.7,124.8 1435.6,129.8 1425.4,135.0 1415.2,140.3 1405.0,145.8 1394.8,151.5 1384.6,157.4 1374.5,163.4 1364.3,169.7 1354.1,176.1 1343.9,182.7 1333.7,189.5 1323.5,196.4 1313.3,203.6 1303.2,210.9 1293.0,218.4 1282.8,226.1 1272.6,234.0 1262.4,242.1 1252.2,250.3 1242.0,258.7 1231.9,267.4 1221.7,276.2 1211.5,285.1 1201.3,294.3 1191.1,303.6 1180.9,313.1 1170.8,322.8 1160.6,332.7 1150.4,342.7 1140.2,353.0 1130.0,363.4 1119.8,373.9 1109.6,384.7 1099.5,395.7 1089.3,406.8 1079.1,418.1 1068.9,429.6" fill="#8080e6" fill-opacity="0.8"/>
<polygon points="1068.9,429.6 1079.1,418.1 1089.3,406.8 1099.5,395.7 1109.6,384.7 1119.8,373.9 1130.0,363.4 1140.2,353.0 1150.4,342.7 1160.6,332.7 1170.8,322.8 1180.9,313.1 1191.1,303.6 1201.3,294.3 1211.5,285.1 1221.7,276.2 1231.9,267.4 1242.0,258.7 1252.2,250.3 1262.4,242.1 1272.6,234.0 1282.8,226.1 1293.0,218.4 1303.2,210.9 1313.3,203.6 1323.5,196.4 1333.7,189.5 1343.9,182.7 1354.1,176.1 1364.3,169.7 1374.5,163.4 1384.6,157.4 1394.8,151.5 1405.0,145.8 1415.2,140.3 1425.4,135.0 1435.6,129.8 1445.7,124.8 1455.9,120.1 1466.1,115.5 1476.3,111.0 1486.5,106.8 1496.7,102.7 1506.9,98.9 1517.0,95.2 1527.2,91.6 1537.4,88.3 1547.6,85.2 1557.8,82.2 1568.0,79.4 1578.2,76.8 1588.3,74.4 1598.5,72.1 1608.7,70.1 1618.9,68.2 1629.1,66.5 1639.3,65.0 1649.4,63.6 1659.6,62.5 1669.8,61.5 1680.0,60.7 1680.0,63.9 1669.8,64.7 1659.6,65.7 1649.4,66.8 1639.3,68.2 1629.1,69.7 1618.9,71.4 1608.7,73.3 1598.5,75.4 1588.3,77.6 1578.2,80.1 1568.0,82.7 1557.8,85.5 1547.6,88.5 1537.4,91.6 1527.2,95.0 1517.0,98.5 1506.9,102.2 1496.7,106.1 1486.5,110.1 1476.3,114.4 1466.1,118.8 1455.9,123.4 1445.7,128.2 1435.6,133.2 1425.4,138.4 1415.2,143.7 1405.0,149.2 1394.8,154.9 1384.6,160.8 1374.5,166.8 1364.3,173.1 1354.1,179.5 1343.9,186.1 1333.7,192.9 1323.5,199.8 1313.3,207.0 1303.2,214.3 1293.0,221.8 1282.8,229.5 1272.6,237.4 1262.4,245.5 1252.2,253.7 1242.0,262.2 1231.9,270.8 1221.7,279.6 1211.5,288.6 1201.3,297.8 1191.1,307.1 1180.9,316.6 1170.8,326.3 1160.6,336.2 1150.4,346.2 1140.2,356.4 1130.0,366.7 1119.8,377.3 1109.6,388.0 1099.5,398.9 1089.3,410.0 1079.1,421.3 1068.9,432.8" fill="#8080ff" fill-opacity="0.8"/>
<polygon points="1068.9,432.8 1079.1,421.3 1089.3,410.0 1099.5,398.9 1109.6,388.0 1119.8,377.3 1130.0,366.7 1140.2,356.4 1150.4,346.2 1160.6,336.2 1170.8,326.3 1180.9,316.6 1191.1,307.1 1201.3,297.8 1211.5,288.6 1221.7,279.6 1231.9,270.8 1242.0,262.2 1252.2,253.7 1262.4,245.5 1272.6,237.4 1282.8,229.5 1293.0,221.8 1303.2,214.3 1313.3,207.0 1323.5,199.8 1333.7,192.9 1343.9,186.1 1354.1,179.5 1364.3,173.1 1374.5,166.8 1384.6,160.8 1394.8,154.9 1405.0,149.2 1415.2,143.7 1425.4,138.4 1435.6,133.2 1445.7,128.2 1455.9,123.4 1466.1,118.8 1476.3,114.4 1486.5,110.1 1496.7,106.1 1506.9,102.2 1517.0,98.5 1527.2,95.0 1537.4,91.6 1547.6,88.5 1557.8,85.5 1568.0,82.7 1578.2,80.1 1588.3,77.6 1598.5,75.4 1608.7,73.3 1618.9,71.4 1629.1,69.7 1639.3,68.2 1649.4,66.8 1659.6,65.7 1669.8,64.7 1680.0,63.9 1680.0,67.1 1669.8,67.9 1659.6,68.9 1649.4,70.0 1639.3,71.4 1629.1,72.9 1618.9,74.7 1608.7,76.6 1598.5,78.6 1588.3,80.9 1578.2,83.4 1568.0,86.0 1557.8,88.8 1547.6,91.8 1537.4,94.9 1527.2,98.3 1517.0,101.8 1506.9,105.5 1496.7,109.4 1486.5,113.5 1476.3,117.8 1466.1,122.2 1455.9,126.8 1445.7,131.6 1435.6,136.6 1425.4,141.7 1415.2,147.1 1405.0,152.6 1394.8,158.3 1384.6,164.2 1374.5,170.2 1364.3,176.5 1354.1,182.9 1343.9,189.5 1333.7,196.3 1323.5,203.2 1313.3,210.4 1303.2,217.7 1293.0,225.2 1282.8,232.9 1272.6,240.8 1262.4,248.9 1252.2,257.1 1242.0,265.6 1231.9,274.2 1221.7,283.1 1211.5,292.1 1201.3,301.3 1191.1,310.6 1180.9,320.1 1170.8,329.8 1160.6,339.6 1150.4,349.6 1140.2,359.8 1130.0,370.1 1119.8,380.6 1109.6,391.3 1099.5,402.2 1089.3,413.3 1079.1,424.6 1068.9,436.0" fill="#a0b4f0" fill-opacity="0.8"/>
<polygon points="1068.9,436.0 1079.1,424.6 1089.3,413.3 1099.5,402.2 1109.6,391.3 1119.8,380.6 1130.0,370.1 1140.2,359.8 1150.4,349.6 1160.6,339.6 1170.8,329.8 1180.9,320.1 1191.1,310.6 1201.3,301.3 1211.5,292.1 1221.7,283.1 1231.9,274.2 1242.0,265.6 1252.2,257.1 1262.4,248.9 1272.6,240.8 1282.8,232.9 1293.0,225.2 1303.2,217.7 1313.3,210.4 1323.5,203.2 1333.7,196.3 1343.9,189.5 1354.1,182.9 1364.3,176.5 1374.5,170.2 1384.6,164.2 1394.8,158.3 1405.0,152.6 1415.2,147.1 1425.4,141.7 1435.6,136.6 1445.7,131.6 1455.9,126.8 1466.1,122.2 1476.3,117.8 1486.5,113.5 1496.7,109.4 1506.9,105.5 1517.0,101.8 1527.2,98.3 1537.4,94.9 1547.6,91.8 1557.8,88.8 1568.0,86.0 1578.2,83.4 1588.3,80.9 1598.5,78.6 1608.7,76.6 1618.9,74.7 1629.1,72.9 1639.3,71.4 1649.4,70.0 1659.6,68.9 1669.8,67.9 1680.0,67.1 1680.0,70.3 1669.8,71.1 1659.6,72.1 1649.4,73.2 1639.3,74.6 1629.1,76.2 1618.9,77.9 1608.7,79.8 1598.5,81.9 1588.3,84.2 1578.2,86.6 1568.0,89.3 1557.8,92.1 1547.6,95.1 1537.4,98.3 1527.2,101.6 1517.0,105.2 1506.9,108.9 1496.7,112.8 1486.5,116.9 1476.3,121.1 1466.1,125.6 1455.9,130.2 1445.7,135.0 1435.6,140.0 1425.4,145.1 1415.2,150.5 1405.0,156.0 1394.8,161.7 1384.6,167.6 1374.5,173.6 1364.3,179.9 1354.1,186.3 1343.9,192.9 1333.7,199.7 1323.5,206.6 1313.3,213.8 1303.2,221.1 1293.0,228.6 1282.8,236.3 1272.6,244.2 1262.4,252.3 1252.2,260.5 1242.0,269.0 1231.9,277.7 1221.7,286.5 1211.5,295.6 1201.3,304.8 1191.1,314.1 1180.9,323.6 1170.8,333.3 1160.6,343.1 1150.4,353.1 1140.2,363.2 1130.0,373.5 1119.8,383.9 1109.6,394.6 1099.5,405.5 1089.3,416.5 1079.1,427.8 1068.9,439.2" fill="#80dfff" fill-opacity="0.8"/>
<polygon points="1068.9,439.2 1079.1,427.8 1089.3,416.5 1099.5,405.5 1109.6,394.6 1119.8,383.9 1130.0,373.5 1140.2,363.2 1150.4,353.1 1160.6,343.1 1170.8,333.3 1180.9,323.6 1191.1,314.1 1201.3,304.8 1211.5,295.6 1221.7,286.5 1231.9,277.7 1242.0,269.0 1252.2,260.5 1262.4,252.3 1272.6,244.2 1282.8,236.3 1293.0,228.6 1303.2,221.1 1313.3,213.8 1323.5,206.6 1333.7,199.7 1343.9,192.9 1354.1,186.3 1364.3,179.9 1374.5,173.6 1384.6,167.6 1394.8,161.7 1405.0,156.0 1415.2,150.5 1425.4,145.1 1435.6,140.0 1445.7,135.0 1455.9,130.2 1466.1,125.6 1476.3,121.1 1486.5,116.9 1496.7,112.8 1506.9,108.9 1517.0,105.2 1527.2,101.6 1537.4,98.3 1547.6,95.1 1557.8,92.1 1568.0,89.3 1578.2,86.6 1588.3,84.2 1598.5,81.9 1608.7,79.8 1618.9,77.9 1629.1,76.2 1639.3,74.6 1649.4,73.2 1659.6,72.1 1669.8,71.1 1680.0,70.3 1680.0,73.5 1669.8,74.2 1659.6,75.2 1649.4,76.4 1639.3,77.8 1629.1,79.4 1618.9,81.1 1608.7,83.1 1598.5,85.2 1588.3,87.4 1578.2,89.9 1568.0,92.6 1557.8,95.4 1547.6,98.4 1537.4,101.6 1527.2,105.0 1517.0,108.5 1506.9,112.2 1496.7,116.1 1486.5,120.2 1476.3,124.5 1466.1,128.9 1455.9,133.6 1445.7,138.4 1435.6,143.4 1425.4,148.5 1415.2,153.9 1405.0,159.4 1394.8,165.1 1384.6,171.0 1374.5,177.0 1364.3,183.3 1354.1,189.7 1343.9,196.3 1333.7,203.1 1323.5,210.0 1313.3,217.2 1303.2,224.5 1293.0,232.0 1282.8,239.7 1272.6,247.6 1262.4,255.7 1252.2,263.9 1242.0,272.4 1231.9,281.1 1221.7,290.0 1211.5,299.0 1201.3,308.2 1191.1,317.6 1180.9,327.1 1170.8,336.8 1160.6,346.6 1150.4,356.5 1140.2,366.6 1130.0,376.8 1119.8,387.3 1109.6,397.9 1099.5,408.7 1089.3,419.7 1079.1,431.0 1068.9,442.4" fill="#a2c0da" fill-opacity="0.8"/>
<polygon points="1068.9,442.4 1079.1,431.0 1089.3,419.7 1099.5,408.7 1109.6,397.9 1119.8,387.3 1130.0,376.8 1140.2,366.6 1150.4,356.5 1160.6,346.6 1170.8,336.8 1180.9,327.1 1191.1,317.6 1201.3,308.2 1211.5,299.0 1221.7,290.0 1231.9,281.1 1242.0,272.4 1252.2,263.9 1262.4,255.7 1272.6,247.6 1282.8,239.7 1293.0,232.0 1303.2,224.5 1313.3,217.2 1323.5,210.0 1333.7,203.1 1343.9,196.3 1354.1,189.7 1364.3,183.3 1374.5,177.0 1384.6,171.0 1394.8,165.1 1405.0,159.4 1415.2,153.9 1425.4,148.5 1435.6,143.4 1445.7,138.4 1455.9,133.6 1466.1,128.9 1476.3,124.5 1486.5,120.2 1496.7,116.1 1506.9,112.2 1517.0,108.5 1527.2,105.0 1537.4,101.6 1547.6,98.4 1557.8,95.4 1568.0,92.6 1578.2,89.9 1588.3,87.4 1598.5,85.2 1608.7,83.1 1618.9,81.1 1629.1,79.4 1639.3,77.8 1649.4,76.4 1659.6,75.2 1669.8,74.2 1680.0,73.5 1680.0,76.6 1669.8,77.4 1659.6,78.4 1649.4,79.6 1639.3,81.0 1629.1,82.6 1618.9,84.4 1608.7,86.3 1598.5,88.4 1588.3,90.7 1578.2,93.2 1568.0,95.9 1557.8,98.7 1547.6,101.7 1537.4,104.9 1527.2,108.3 1517.0,111.8 1506.9,115.6 1496.7,119.5 1486.5,123.6 1476.3,127.9 1466.1,132.3 1455.9,136.9 1445.7,141.8 1435.6,146.7 1425.4,151.9 1415.2,157.3 1405.0,162.8 1394.8,168.5 1384.6,174.4 1374.5,180.4 1364.3,186.7 1354.1,193.1 1343.9,199.7 1333.7,206.5 1323.5,213.4 1313.3,220.6 1303.2,227.9 1293.0,235.4 1282.8,243.1 1272.6,251.0 1262.4,259.1 1252.2,267.3 1242.0,275.8 1231.9,284.5 1221.7,293.4 1211.5,302.5 1201.3,311.7 1191.1,321.1 1180.9,330.6 1170.8,340.3 1160.6,350.0 1150.4,359.9 1140.2,370.0 1130.0,380.2 1119.8,390.6 1109.6,401.2 1099.5,412.0 1089.3,423.0 1079.1,434.2 1068.9,445.6" fill="#c3e6fc" fill-opacity="0.8"/>
<polygon points="1068.9,445.6 1079.1,434.2 1089.3,423.0 1099.5,412.0 1109.6,401.2 1119.8,390.6 1130.0,380.2 1140.2,370.0 1150.4,359.9 1160.6,350.0 1170.8,340.3 1180.9,330.6 1191.1,321.1 1201.3,311.7 1211.5,302.5 1221.7,293.4 1231.9,284.5 1242.0,275.8 1252.2,267.3 1262.4,259.1 1272.6,251.0 1282.8,243.1 1293.0,235.4 1303.2,227.9 1313.3,220.6 1323.5,213.4 1333.7,206.5 1343.9,199.7 1354.1,193.1 1364.3,186.7 1374.5,180.4 1384.6,174.4 1394.8,168.5 1405.0,162.8 1415.2,157.3 1425.4,151.9 1435.6,146.7 1445.7,141.8 1455.9,136.9 1466.1,132.3 1476.3,127.9 1486.5,123.6 1496.7,119.5 1506.9,115.6 1517.0,111.8 1527.2,108.3 1537.4,104.9 1547.6,101.7 1557.8,98.7 1568.0,95.9 1578.2,93.2 1588.3,90.7 1598.5,88.4 1608.7,86.3 1618.9,84.4 1629.1,82.6 1639.3,81.0 1649.4,79.6 1659.6,78.4 1669.8,77.4 1680.0,76.6 1680.0,79.8 1669.8,80.6 1659.6,81.6 1649.4,82.9 1639.3,84.3 1629.1,85.8 1618.9,87.6 1608.7,89.6 1598.5,91.7 1588.3,94.0 1578.2,96.5 1568.0,99.1 1557.8,102.0 1547.6,105.0 1537.4,108.2 1527.2,111.6 1517.0,115.2 1506.9,118.9 1496.7,122.8 1486.5,126.9 1476.3,131.2 1466.1,135.7 1455.9,140.3 1445.7,145.1 1435.6,150.1 1425.4,155.3 1415.2,160.7 1405.0,166.2 1394.8,171.9 1384.6,177.8 1374.5,183.8 1364.3,190.1 1354.1,196.5 1343.9,203.1 1333.7,209.9 1323.5,216.8 1313.3,224.0 1303.2,231.3 1293.0,238.8 1282.8,246.5 1272.6,254.4 1262.4,262.5 1252.2,270.8 1242.0,279.3 1231.9,288.0 1221.7,296.9 1211.5,306.0 1201.3,315.2 1191.1,324.6 1180.9,334.1 1170.8,343.8 1160.6,353.5 1150.4,363.4 1140.2,373.4 1130.0,383.6 1119.8,393.9 1109.6,404.5 1099.5,415.2 1089.3,426.2 1079.1,437.4 1068.9,448.8" fill="#80ffff" fill-opacity="0.8"/>
<polygon points="1068.9,448.8 1079.1,437.4 1089.3,426.2 1099.5,415.2 1109.6,404.5 1119.8,393.9 1130.0,383.6 1140.2,373.4 1150.4,363.4 1160.6,353.5 1170.8,343.8 1180.9,334.1 1191.1,324.6 1201.3,315.2 1211.5,306.0 1221.7,296.9 1231.9,288.0 1242.0,279.3 1252.2,270.8 1262.4,262.5 1272.6,254.4 1282.8,246.5 1293.0,238.8 1303.2,231.3 1313.3,224.0 1323.5,216.8 1333.7,209.9 1343.9,203.1 1354.1,196.5 1364.3,190.1 1374.5,183.8 1384.6,177.8 1394.8,171.9 1405.0,166.2 1415.2,160.7 1425.4,155.3 1435.6,150.1 1445.7,145.1 1455.9,140.3 1466.1,135.7 1476.3,131.2 1486.5,126.9 1496.7,122.8 1506.9,118.9 1517.0,115.2 1527.2,111.6 1537.4,108.2 1547.6,105.0 1557.8,102.0 1568.0,99.1 1578.2,96.5 1588.3,94.0 1598.5,91.7 1608.7,89.6 1618.9,87.6 1629.1,85.8 1639.3,84.3 1649.4,82.9 1659.6,81.6 1669.8,80.6 1680.0,79.8 1680.0,83.0 1669.8,83.8 1659.6,84.8 1649.4,86.1 1639.3,87.5 1629.1,89.1 1618.9,90.8 1608.7,92.8 1598.5,94.9 1588.3,97.3 1578.2,99.8 1568.0,102.4 1557.8,105.3 1547.6,108.3 1537.4,111.5 1527.2,114.9 1517.0,118.5 1506.9,122.3 1496.7,126.2 1486.5,130.3 1476.3,134.6 1466.1,139.1 1455.9,143.7 1445.7,148.5 1435.6,153.5 1425.4,158.7 1415.2,164.1 1405.0,169.6 1394.8,175.3 1384.6,181.2 1374.5,187.2 1364.3,193.5 1354.1,199.9 1343.9,206.5 1333.7,213.3 1323.5,220.2 1313.3,227.3 1303.2,234.7 1293.0,242.2 1282.8,249.9 1272.6,257.8 1262.4,265.9 1252.2,274.2 1242.0,282.7 1231.9,291.4 1221.7,300.3 1211.5,309.5 1201.3,318.7 1191.1,328.1 1180.9,337.6 1170.8,347.3 1160.6,357.0 1150.4,366.8 1140.2,376.8 1130.0,386.9 1119.8,397.3 1109.6,407.8 1099.5,418.5 1089.3,429.5 1079.1,440.6 1068.9,452.0" fill="#80c0c0" fill-opacity="0.8"/>
<polygon points="1068.9,452.0 1079.1,440.6 1089.3,429.5 1099.5,418.5 1109.6,407.8 1119.8,397.3 1130.0,386.9 1140.2,376.8 1150.4,366.8 1160.6,357.0 1170.8,347.3 1180.9,337.6 1191.1,328.1 1201.3,318.7 1211.5,309.5 1221.7,300.3 1231.9,291.4 1242.0,282.7 1252.2,274.2 1262.4,265.9 1272.6,257.8 1282.8,249.9 1293.0,242.2 1303.2,234.7 1313.3,227.3 1323.5,220.2 1333.7,213.3 1343.9,206.5 1354.1,199.9 1364.3,193.5 1374.5,187.2 1384.6,181.2 1394.8,175.3 1405.0,169.6 1415.2,164.1 1425.4,158.7 1435.6,153.5 1445.7,148.5 1455.9,143.7 1466.1,139.1 1476.3,134.6 1486.5,130.3 1496.7,126.2 1506.9,122.3 1517.0,118.5 1527.2,114.9 1537.4,111.5 1547.6,108.3 1557.8,105.3 1568.0,102.4 1578.2,99.8 1588.3,97.3 1598.5,94.9 1608.7,92.8 1618.9,90.8 1629.1,89.1 1639.3,87.5 1649.4,86.1 1659.6,84.8 1669.8,83.8 1680.0,83.0 1680.0,86.2 1669.8,87.0 1659.6,88.0 1649.4,89.3 1639.3,90.7 1629.1,92.3 1618.9,94.1 1608.7,96.0 1598.5,98.2 1588.3,100.5 1578.2,103.0 1568.0,105.7 1557.8,108.6 1547.6,111.6 1537.4,114.9 1527.2,118.3 1517.0,121.9 1506.9,125.6 1496.7,129.5 1486.5,133.7 1476.3,138.0 1466.1,142.4 1455.9,147.1 1445.7,151.9 1435.6,156.9 1425.4,162.1 1415.2,167.4 1405.0,173.0 1394.8,178.7 1384.6,184.6 1374.5,190.6 1364.3,196.9 1354.1,203.3 1343.9,209.9 1333.7,216.7 1323.5,223.6 1313.3,230.7 1303.2,238.1 1293.0,245.6 1282.8,253.3 1272.6,261.1 1262.4,269.3 1252.2,277.6 1242.0,286.1 1231.9,294.9 1221.7,303.8 1211.5,312.9 1201.3,322.2 1191.1,331.6 1180.9,341.1 1170.8,350.7 1160.6,360.5 1150.4,370.3 1140.2,380.2 1130.0,390.3 1119.8,400.6 1109.6,411.1 1099.5,421.8 1089.3,432.7 1079.1,443.8 1068.9,455.2" fill="#80c080" fill-opacity="0.8"/>
<polygon points="1068.9,455.2 1079.1,443.8 1089.3,432.7 1099.5,421.8 1109.6,411.1 1119.8,400.6 1130.0,390.3 1140.2,380.2 1150.4,370.3 1160.6,360.5 1170.8,350.7 1180.9,341.1 1191.1,331.6 1201.3,322.2 1211.5,312.9 1221.7,303.8 1231.9,294.9 1242.0,286.1 1252.2,277.6 1262.4,269.3 1272.6,261.1 1282.8,253.3 1293.0,245.6 1303.2,238.1 1313.3,230.7 1323.5,223.6 1333.7,216.7 1343.9,209.9 1354.1,203.3 1364.3,196.9 1374.5,190.6 1384.6,184.6 1394.8,178.7 1405.0,173.0 1415.2,167.4 1425.4,162.1 1435.6,156.9 1445.7,151.9 1455.9,147.1 1466.1,142.4 1476.3,138.0 1486.5,133.7 1496.7,129.5 1506.9,125.6 1517.0,121.9 1527.2,118.3 1537.4,114.9 1547.6,111.6 1557.8,108.6 1568.0,105.7 1578.2,103.0 1588.3,100.5 1598.5,98.2 1608.7,96.0 1618.9,94.1 1629.1,92.3 1639.3,90.7 1649.4,89.3 1659.6,88.0 1669.8,87.0 1680.0,86.2 1680.0,89.4 1669.8,90.2 1659.6,91.2 1649.4,92.5 1639.3,93.9 1629.1,95.5 1618.9,97.3 1608.7,99.3 1598.5,101.5 1588.3,103.8 1578.2,106.3 1568.0,109.0 1557.8,111.9 1547.6,114.9 1537.4,118.2 1527.2,121.6 1517.0,125.2 1506.9,129.0 1496.7,132.9 1486.5,137.0 1476.3,141.3 1466.1,145.8 1455.9,150.5 1445.7,155.3 1435.6,160.3 1425.4,165.5 1415.2,170.8 1405.0,176.4 1394.8,182.1 1384.6,188.0 1374.5,194.0 1364.3,200.3 1354.1,206.7 1343.9,213.3 1333.7,220.1 1323.5,227.0 1313.3,234.1 1303.2,241.4 1293.0,248.9 1282.8,256.6 1272.6,264.5 1262.4,272.6 1252.2,281.0 1242.0,289.5 1231.9,298.3 1221.7,307.3 1211.5,316.4 1201.3,325.7 1191.1,335.1 1180.9,344.6 1170.8,354.2 1160.6,363.9 1150.4,373.7 1140.2,383.6 1130.0,393.7 1119.8,403.9 1109.6,414.4 1099.5,425.0 1089.3,435.9 1079.1,447.0 1068.9,458.4" fill="#80ff80" fill-opacity="0.8"/>
<polygon points="1068.9,458.4 1079.1,447.0 1089.3,435.9 1099.5,425.0 1109.6,414.4 1119.8,403.9 1130.0,393.7 1140.2,383.6 1150.4,373.7 1160.6,363.9 1170.8,354.2 1180.9,344.6 1191.1,335.1 1201.3,325.7 1211.5,316.4 1221.7,307.3 1231.9,298.3 1242.0,289.5 1252.2,281.0 1262.4,272.6 1272.6,264.5 1282.8,256.6 1293.0,248.9 1303.2,241.4 1313.3,234.1 1323.5,227.0 1333.7,220.1 1343.9,213.3 1354.1,206.7 1364.3,200.3 1374.5,194.0 1384.6,188.0 1394.8,182.1 1405.0,176.4 1415.2,170.8 1425.4,165.5 1435.6,160.3 1445.7,155.3 1455.9,150.5 1466.1,145.8 1476.3,141.3 1486.5,137.0 1496.7,132.9 1506.9,129.0 1517.0,125.2 1527.2,121.6 1537.4,118.2 1547.6,114.9 1557.8,111.9 1568.0,109.0 1578.2,106.3 1588.3,103.8 1598.5,101.5 1608.7,99.3 1618.9,97.3 1629.1,95.5 1639.3,93.9 1649.4,92.5 1659.6,91.2 1669.8,90.2 1680.0,89.4 1680.0,92.6 1669.8,93.3 1659.6,94.4 1649.4,95.7 1639.3,97.1 1629.1,98.7 1618.9,100.6 1608.7,102.5 1598.5,104.7 1588.3,107.1 1578.2,109.6 1568.0,112.3 1557.8,115.2 1547.6,118.3 1537.4,121.5 1527.2,124.9 1517.0,128.5 1506.9,132.3 1496.7,136.3 1486.5,140.4 1476.3,144.7 1466.1,149.2 1455.9,153.8 1445.7,158.7 1435.6,163.7 1425.4,168.9 1415.2,174.2 1405.0,179.8 1394.8,185.5 1384.6,191.4 1374.5,197.4 1364.3,203.7 1354.1,210.1 1343.9,216.7 1333.7,223.5 1323.5,230.4 1313.3,237.5 1303.2,244.8 1293.0,252.3 1282.8,260.0 1272.6,267.9 1262.4,276.0 1252.2,284.4 1242.0,292.9 1231.9,301.7 1221.7,310.7 1211.5,319.9 1201.3,329.2 1191.1,338.6 1180.9,348.1 1170.8,357.7 1160.6,367.4 1150.4,377.1 1140.2,387.0 1130.0,397.0 1119.8,407.2 1109.6,417.7 1099.5,428.3 1089.3,439.2 1079.1,450.2 1068.9,461.6" fill="#d6ff97" fill-opacity="0.8"/>
<polygon points="1068.9,461.6 1079.1,450.2 1089.3,439.2 1099.5,428.3 1109.6,417.7 1119.8,407.2 1130.0,397.0 1140.2,387.0 1150.4,377.1 1160.6,367.4 1170.8,357.7 1180.9,348.1 1191.1,338.6 1201.3,329.2 1211.5,319.9 1221.7,310.7 1231.9,301.7 1242.0,292.9 1252.2,284.4 1262.4,276.0 1272.6,267.9 1282.8,260.0 1293.0,252.3 1303.2,244.8 1313.3,237.5 1323.5,230.4 1333.7,223.5 1343.9,216.7 1354.1,210.1 1364.3,203.7 1374.5,197.4 1384.6,191.4 1394.8,185.5 1405.0,179.8 1415.2,174.2 1425.4,168.9 1435.6,163.7 1445.7,158.7 1455.9,153.8 1466.1,149.2 1476.3,144.7 1486.5,140.4 1496.7,136.3 1506.9,132.3 1517.0,128.5 1527.2,124.9 1537.4,121.5 1547.6,118.3 1557.8,115.2 1568.0,112.3 1578.2,109.6 1588.3,107.1 1598.5,104.7 1608.7,102.5 1618.9,100.6 1629.1,98.7 1639.3,97.1 1649.4,95.7 1659.6,94.4 1669.8,93.3 1680.0,92.6 1680.0,95.7 1669.8,96.5 1659.6,97.6 1649.4,98.9 1639.3,100.3 1629.1,102.0 1618.9,103.8 1608.7,105.8 1598.5,108.0 1588.3,110.3 1578.2,112.9 1568.0,115.6 1557.8,118.5 1547.6,121.6 1537.4,124.8 1527.2,128.3 1517.0,131.9 1506.9,135.6 1496.7,139.6 1486.5,143.7 1476.3,148.1 1466.1,152.5 1455.9,157.2 1445.7,162.1 1435.6,167.1 1425.4,172.3 1415.2,177.6 1405.0,183.2 1394.8,188.9 1384.6,194.8 1374.5,200.8 1364.3,207.1 1354.1,213.5 1343.9,220.1 1333.7,226.9 1323.5,233.8 1313.3,240.9 1303.2,248.2 1293.0,255.7 1282.8,263.4 1272.6,271.3 1262.4,279.4 1252.2,287.8 1242.0,296.4 1231.9,305.2 1221.7,314.2 1211.5,323.4 1201.3,332.7 1191.1,342.1 1180.9,351.6 1170.8,361.2 1160.6,370.9 1150.4,380.6 1140.2,390.4 1130.0,400.4 1119.8,410.6 1109.6,420.9 1099.5,431.6 1089.3,442.4 1079.1,453.5 1068.9,464.8" fill="#ffff80" fill-opacity="0.8"/>
<polygon points="1068.9,464.8 1079.1,453.5 1089.3,442.4 1099.5,431.6 1109.6,420.9 1119.8,410.6 1130.0,400.4 1140.2,390.4 1150.4,380.6 1160.6,370.9 1170.8,361.2 1180.9,351.6 1191.1,342.1 1201.3,332.7 1211.5,323.4 1221.7,314.2 1231.9,305.2 1242.0,296.4 1252.2,287.8 1262.4,279.4 1272.6,271.3 1282.8,263.4 1293.0,255.7 1303.2,248.2 1313.3,240.9 1323.5,233.8 1333.7,226.9 1343.9,220.1 1354.1,213.5 1364.3,207.1 1374.5,200.8 1384.6,194.8 1394.8,188.9 1405.0,183.2 1415.2,177.6 1425.4,172.3 1435.6,167.1 1445.7,162.1 1455.9,157.2 1466.1,152.5 1476.3,148.1 1486.5,143.7 1496.7,139.6 1506.9,135.6 1517.0,131.9 1527.2,128.3 1537.4,124.8 1547.6,121.6 1557.8,118.5 1568.0,115.6 1578.2,112.9 1588.3,110.3 1598.5,108.0 1608.7,105.8 1618.9,103.8 1629.1,102.0 1639.3,100.3 1649.4,98.9 1659.6,97.6 1669.8,96.5 1680.0,95.7 1680.0,98.9 1669.8,99.7 1659.6,100.8 1649.4,102.1 1639.3,103.5 1629.1,105.2 1618.9,107.0 1608.7,109.0 1598.5,111.2 1588.3,113.6 1578.2,116.2 1568.0,118.9 1557.8,121.8 1547.6,124.9 1537.4,128.1 1527.2,131.6 1517.0,135.2 1506.9,139.0 1496.7,143.0 1486.5,147.1 1476.3,151.4 1466.1,155.9 1455.9,160.6 1445.7,165.4 1435.6,170.5 1425.4,175.7 1415.2,181.0 1405.0,186.6 1394.8,192.3 1384.6,198.2 1374.5,204.2 1364.3,210.5 1354.1,216.9 1343.9,223.5 1333.7,230.2 1323.5,237.2 1313.3,244.3 1303.2,251.6 1293.0,259.1 1282.8,266.8 1272.6,274.7 1262.4,282.8 1252.2,291.2 1242.0,299.8 1231.9,308.6 1221.7,317.6 1211.5,326.8 1201.3,336.2 1191.1,345.6 1180.9,355.1 1170.8,364.7 1160.6,374.3 1150.4,384.0 1140.2,393.8 1130.0,403.8 1119.8,413.9 1109.6,424.2 1099.5,434.8 1089.3,445.6 1079.1,456.7 1068.9,467.9" fill="#ffeb80" fill-opacity="0.8"/>
<polygon points="1068.9,467.9 1079.1,456.7 1089.3,445.6 1099.5,434.8 1109.6,424.2 1119.8,413.9 1130.0,403.8 1140.2,393.8 1150.4,384.0 1160.6,374.3 1170.8,364.7 1180.9,355.1 1191.1,345.6 1201.3,336.2 1211.5,326.8 1221.7,317.6 1231.9,308.6 1242.0,299.8 1252.2,291.2 1262.4,282.8 1272.6,274.7 1282.8,266.8 1293.0,259.1 1303.2,251.6 1313.3,244.3 1323.5,237.2 1333.7,230.2 1343.9,223.5 1354.1,216.9 1364.3,210.5 1374.5,204.2 1384.6,198.2 1394.8,192.3 1405.0,186.6 1415.2,181.0 1425.4,175.7 1435.6,170.5 1445.7,165.4 1455.9,160.6 1466.1,155.9 1476.3,151.4 1486.5,147.1 1496.7,143.0 1506.9,139.0 1517.0,135.2 1527.2,131.6 1537.4,128.1 1547.6,124.9 1557.8,121.8 1568.0,118.9 1578.2,116.2 1588.3,113.6 1598.5,111.2 1608.7,109.0 1618.9,107.0 1629.1,105.2 1639.3,103.5 1649.4,102.1 1659.6,100.8 1669.8,99.7 1680.0,98.9 1680.0,102.1 1669.8,102.9 1659.6,104.0 1649.4,105.3 1639.3,106.8 1629.1,108.4 1618.9,110.3 1608.7,112.3 1598.5,114.5 1588.3,116.9 1578.2,119.4 1568.0,122.2 1557.8,125.1 1547.6,128.2 1537.4,131.5 1527.2,134.9 1517.0,138.5 1506.9,142.3 1496.7,146.3 1486.5,150.5 1476.3,154.8 1466.1,159.3 1455.9,164.0 1445.7,168.8 1435.6,173.8 1425.4,179.0 1415.2,184.4 1405.0,190.0 1394.8,195.7 1384.6,201.6 1374.5,207.6 1364.3,213.9 1354.1,220.3 1343.9,226.9 1333.7,233.6 1323.5,240.6 1313.3,247.7 1303.2,255.0 1293.0,262.5 1282.8,270.2 1272.6,278.1 1262.4,286.2 1252.2,294.6 1242.0,303.2 1231.9,312.0 1221.7,321.1 1211.5,330.3 1201.3,339.7 1191.1,349.1 1180.9,358.6 1170.8,368.2 1160.6,377.8 1150.4,387.5 1140.2,397.2 1130.0,407.1 1119.8,417.2 1109.6,427.5 1099.5,438.1 1089.3,448.9 1079.1,459.9 1068.9,471.1" fill="#ffd280" fill-opacity="0.8"/>
<polygon points="1068.9,471.1 1079.1,459.9 1089.3,448.9 1099.5,438.1 1109.6,427.5 1119.8,417.2 1130.0,407.1 1140.2,397.2 1150.4,387.5 1160.6,377.8 1170.8,368.2 1180.9,358.6 1191.1,349.1 1201.3,339.7 1211.5,330.3 1221.7,321.1 1231.9,312.0 1242.0,303.2 1252.2,294.6 1262.4,286.2 1272.6,278.1 1282.8,270.2 1293.0,262.5 1303.2,255.0 1313.3,247.7 1323.5,240.6 1333.7,233.6 1343.9,226.9 1354.1,220.3 1364.3,213.9 1374.5,207.6 1384.6,201.6 1394.8,195.7 1405.0,190.0 1415.2,184.4 1425.4,179.0 1435.6,173.8 1445.7,168.8 1455.9,164.0 1466.1,159.3 1476.3,154.8 1486.5,150.5 1496.7,146.3 1506.9,142.3 1517.0,138.5 1527.2,134.9 1537.4,131.5 1547.6,128.2 1557.8,125.1 1568.0,122.2 1578.2,119.4 1588.3,116.9 1598.5,114.5 1608.7,112.3 1618.9,110.3 1629.1,108.4 1639.3,106.8 1649.4,105.3 1659.6,104.0 1669.8,102.9 1680.0,102.1 1680.0,105.3 1669.8,106.1 1659.6,107.2 1649.4,108.5 1639.3,110.0 1629.1,111.6 1618.9,113.5 1608.7,115.5 1598.5,117.8 1588.3,120.1 1578.2,122.7 1568.0,125.5 1557.8,128.4 1547.6,131.5 1537.4,134.8 1527.2,138.2 1517.0,141.9 1506.9,145.7 1496.7,149.7 1486.5,153.8 1476.3,158.2 1466.1,162.7 1455.9,167.3 1445.7,172.2 1435.6,177.2 1425.4,182.4 1415.2,187.8 1405.0,193.4 1394.8,199.1 1384.6,205.0 1374.5,211.0 1364.3,217.3 1354.1,223.7 1343.9,230.3 1333.7,237.0 1323.5,244.0 1313.3,251.1 1303.2,258.4 1293.0,265.9 1282.8,273.6 1272.6,281.5 1262.4,289.6 1252.2,298.0 1242.0,306.6 1231.9,315.5 1221.7,324.5 1211.5,333.8 1201.3,343.2 1191.1,352.6 1180.9,362.1 1170.8,371.7 1160.6,381.3 1150.4,390.9 1140.2,400.6 1130.0,410.5 1119.8,420.6 1109.6,430.8 1099.5,441.3 1089.3,452.1 1079.1,463.1 1068.9,474.3" fill="#ffc680" fill-opacity="0.8"/>
<polygon points="1068.9,474.3 1079.1,463.1 1089.3,452.1 1099.5,441.3 1109.6,430.8 1119.8,420.6 1130.0,410.5 1140.2,400.6 1150.4,390.9 1160.6,381.3 1170.8,371.7 1180.9,362.1 1191.1,352.6 1201.3,343.2 1211.5,333.8 1221.7,324.5 1231.9,315.5 1242.0,306.6 1252.2,298.0 1262.4,289.6 1272.6,281.5 1282.8,273.6 1293.0,265.9 1303.2,258.4 1313.3,251.1 1323.5,244.0 1333.7,237.0 1343.9,230.3 1354.1,223.7 1364.3,217.3 1374.5,211.0 1384.6,205.0 1394.8,199.1 1405.0,193.4 1415.2,187.8 1425.4,182.4 1435.6,177.2 1445.7,172.2 1455.9,167.3 1466.1,162.7 1476.3,158.2 1486.5,153.8 1496.7,149.7 1506.9,145.7 1517.0,141.9 1527.2,138.2 1537.4,134.8 1547.6,131.5 1557.8,128.4 1568.0,125.5 1578.2,122.7 1588.3,120.1 1598.5,117.8 1608.7,115.5 1618.9,113.5 1629.1,111.6 1639.3,110.0 1649.4,108.5 1659.6,107.2 1669.8,106.1 1680.0,105.3 1680.0,108.5 1669.8,109.2 1659.6,110.3 1649.4,111.7 1639.3,113.2 1629.1,114.9 1618.9,116.7 1608.7,118.8 1598.5,121.0 1588.3,123.4 1578.2,126.0 1568.0,128.8 1557.8,131.7 1547.6,134.8 1537.4,138.1 1527.2,141.6 1517.0,145.2 1506.9,149.0 1496.7,153.0 1486.5,157.2 1476.3,161.5 1466.1,166.0 1455.9,170.7 1445.7,175.6 1435.6,180.6 1425.4,185.8 1415.2,191.2 1405.0,196.8 1394.8,202.5 1384.6,208.4 1374.5,214.4 1364.3,220.7 1354.1,227.1 1343.9,233.7 1333.7,240.4 1323.5,247.4 1313.3,254.5 1303.2,261.8 1293.0,269.3 1282.8,277.0 1272.6,284.9 1262.4,293.0 1252.2,301.4 1242.0,310.0 1231.9,318.9 1221.7,328.0 1211.5,337.3 1201.3,346.6 1191.1,356.1 1180.9,365.6 1170.8,375.2 1160.6,384.7 1150.4,394.3 1140.2,404.0 1130.0,413.9 1119.8,423.9 1109.6,434.1 1099.5,444.6 1089.3,455.3 1079.1,466.3 1068.9,477.5" fill="#ff8080" fill-opacity="0.8"/>
<polygon points="1068.9,477.5 1079.1,466.3 1089.3,455.3 1099.5,444.6 1109.6,434.1 1119.8,423.9 1130.0,413.9 1140.2,404.0 1150.4,394.3 1160.6,384.7 1170.8,375.2 1180.9,365.6 1191.1,356.1 1201.3,346.6 1211.5,337.3 1221.7,328.0 1231.9,318.9 1242.0,310.0 1252.2,301.4 1262.4,293.0 1272.6,284.9 1282.8,277.0 1293.0,269.3 1303.2,261.8 1313.3,254.5 1323.5,247.4 1333.7,240.4 1343.9,233.7 1354.1,227.1 1364.3,220.7 1374.5,214.4 1384.6,208.4 1394.8,202.5 1405.0,196.8 1415.2,191.2 1425.4,185.8 1435.6,180.6 1445.7,175.6 1455.9,170.7 1466.1,166.0 1476.3,161.5 1486.5,157.2 1496.7,153.0 1506.9,149.0 1517.0,145.2 1527.2,141.6 1537.4,138.1 1547.6,134.8 1557.8,131.7 1568.0,128.8 1578.2,126.0 1588.3,123.4 1598.5,121.0 1608.7,118.8 1618.9,116.7 1629.1,114.9 1639.3,113.2 1649.4,111.7 1659.6,110.3 1669.8,109.2 1680.0,108.5 1680.0,111.6 1669.8,112.4 1659.6,113.5 1649.4,114.9 1639.3,116.4 1629.1,118.1 1618.9,120.0 1608.7,122.0 1598.5,124.3 1588.3,126.7 1578.2,129.3 1568.0,132.0 1557.8,135.0 1547.6,138.1 1537.4,141.4 1527.2,144.9 1517.0,148.5 1506.9,152.4 1496.7,156.4 1486.5,160.5 1476.3,164.9 1466.1,169.4 1455.9,174.1 1445.7,179.0 1435.6,184.0 1425.4,189.2 1415.2,194.6 1405.0,200.1 1394.8,205.9 1384.6,211.8 1374.5,217.8 1364.3,224.1 1354.1,230.5 1343.9,237.1 1333.7,243.8 1323.5,250.8 1313.3,257.9 1303.2,265.2 1293.0,272.7 1282.8,280.4 1272.6,288.3 1262.4,296.4 1252.2,304.8 1242.0,313.5 1231.9,322.4 1221.7,331.5 1211.5,340.7 1201.3,350.1 1191.1,359.6 1180.9,369.1 1170.8,378.7 1160.6,388.2 1150.4,397.8 1140.2,407.4 1130.0,417.2 1119.8,427.2 1109.6,437.4 1099.5,447.9 1089.3,458.6 1079.1,469.5 1068.9,480.7" fill="#d9868c" fill-opacity="0.8"/>
<polygon points="1068.9,480.7 1079.1,469.5 1089.3,458.6 1099.5,447.9 1109.6,437.4 1119.8,427.2 1130.0,417.2 1140.2,407.4 1150.4,397.8 1160.6,388.2 1170.8,378.7 1180.9,369.1 1191.1,359.6 1201.3,350.1 1211.5,340.7 1221.7,331.5 1231.9,322.4 1242.0,313.5 1252.2,304.8 1262.4,296.4 1272.6,288.3 1282.8,280.4 1293.0,272.7 1303.2,265.2 1313.3,257.9 1323.5,250.8 1333.7,243.8 1343.9,237.1 1354.1,230.5 1364.3,224.1 1374.5,217.8 1384.6,211.8 1394.8,205.9 1405.0,200.1 1415.2,194.6 1425.4,189.2 1435.6,184.0 1445.7,179.0 1455.9,174.1 1466.1,169.4 1476.3,164.9 1486.5,160.5 1496.7,156.4 1506.9,152.4 1517.0,148.5 1527.2,144.9 1537.4,141.4 1547.6,138.1 1557.8,135.0 1568.0,132.0 1578.2,129.3 1588.3,126.7 1598.5,124.3 1608.7,122.0 1618.9,120.0 1629.1,118.1 1639.3,116.4 1649.4,114.9 1659.6,113.5 1669.8,112.4 1680.0,111.6 1680.0,114.8 1669.8,115.6 1659.6,116.7 1649.4,118.1 1639.3,119.6 1629.1,121.3 1618.9,123.2 1608.7,125.3 1598.5,127.5 1588.3,130.0 1578.2,132.6 1568.0,135.3 1557.8,138.3 1547.6,141.4 1537.4,144.7 1527.2,148.2 1517.0,151.9 1506.9,155.7 1496.7,159.7 1486.5,163.9 1476.3,168.3 1466.1,172.8 1455.9,177.5 1445.7,182.3 1435.6,187.4 1425.4,192.6 1415.2,198.0 1405.0,203.5 1394.8,209.3 1384.6,215.2 1374.5,221.2 1364.3,227.5 1354.1,233.9 1343.9,240.5 1333.7,247.2 1323.5,254.2 1313.3,261.3 1303.2,268.6 1293.0,276.1 1282.8,283.8 1272.6,291.7 1262.4,299.8 1252.2,308.2 1242.0,316.9 1231.9,325.8 1221.7,334.9 1211.5,344.2 1201.3,353.6 1191.1,363.1 1180.9,372.6 1170.8,382.2 1160.6,391.7 1150.4,401.2 1140.2,410.9 1130.0,420.6 1119.8,430.5 1109.6,440.7 1099.5,451.1 1089.3,461.8 1079.1,472.7 1068.9,483.9" fill="#e59096" fill-opacity="0.8"/>
<polygon points="1068.9,483.9 1079.1,472.7 1089.3,461.8 1099.5,451.1 1109.6,440.7 1119.8,430.5 1130.0,420.6 1140.2,410.9 1150.4,401.2 1160.6,391.7 1170.8,382.2 1180.9,372.6 1191.1,363.1 1201.3,353.6 1211.5,344.2 1221.7,334.9 1231.9,325.8 1242.0,316.9 1252.2,308.2 1262.4,299.8 1272.6,291.7 1282.8,283.8 1293.0,276.1 1303.2,268.6 1313.3,261.3 1323.5,254.2 1333.7,247.2 1343.9,240.5 1354.1,233.9 1364.3,227.5 1374.5,221.2 1384.6,215.2 1394.8,209.3 1405.0,203.5 1415.2,198.0 1425.4,192.6 1435.6,187.4 1445.7,182.3 1455.9,177.5 1466.1,172.8 1476.3,168.3 1486.5,163.9 1496.7,159.7 1506.9,155.7 1517.0,151.9 1527.2,148.2 1537.4,144.7 1547.6,141.4 1557.8,138.3 1568.0,135.3 1578.2,132.6 1588.3,130.0 1598.5,127.5 1608.7,125.3 1618.9,123.2 1629.1,121.3 1639.3,119.6 1649.4,118.1 1659.6,116.7 1669.8,115.6 1680.0,114.8 1680.0,118.0 1669.8,118.8 1659.6,119.9 1649.4,121.3 1639.3,122.8 1629.1,124.5 1618.9,126.4 1608.7,128.5 1598.5,130.8 1588.3,133.2 1578.2,135.8 1568.0,138.6 1557.8,141.6 1547.6,144.7 1537.4,148.1 1527.2,151.6 1517.0,155.2 1506.9,159.1 1496.7,163.1 1486.5,167.3 1476.3,171.6 1466.1,176.2 1455.9,180.9 1445.7,185.7 1435.6,190.8 1425.4,196.0 1415.2,201.4 1405.0,206.9 1394.8,212.7 1384.6,218.6 1374.5,224.6 1364.3,230.9 1354.1,237.3 1343.9,243.9 1333.7,250.6 1323.5,257.6 1313.3,264.7 1303.2,272.0 1293.0,279.5 1282.8,287.2 1272.6,295.1 1262.4,303.2 1252.2,311.6 1242.0,320.3 1231.9,329.2 1221.7,338.4 1211.5,347.7 1201.3,357.1 1191.1,366.6 1180.9,376.1 1170.8,385.7 1160.6,395.2 1150.4,404.7 1140.2,414.3 1130.0,424.0 1119.8,433.9 1109.6,444.0 1099.5,454.4 1089.3,465.0 1079.1,475.9 1068.9,487.1" fill="#d9868c" fill-opacity="0.8"/>
<polygon points="1068.9,487.1 1079.1,475.9 1089.3,465.0 1099.5,454.4 1109.6,444.0 1119.8,433.9 1130.0,424.0 1140.2,414.3 1150.4,404.7 1160.6,395.2 1170.8,385.7 1180.9,376.1 1191.1,366.6 1201.3,357.1 1211.5,347.7 1221.7,338.4 1231.9,329.2 1242.0,320.3 1252.2,311.6 1262.4,303.2 1272.6,295.1 1282.8,287.2 1293.0,279.5 1303.2,272.0 1313.3,264.7 1323.5,257.6 1333.7,250.6 1343.9,243.9 1354.1,237.3 1364.3,230.9 1374.5,224.6 1384.6,218.6 1394.8,212.7 1405.0,206.9 1415.2,201.4 1425.4,196.0 1435.6,190.8 1445.7,185.7 1455.9,180.9 1466.1,176.2 1476.3,171.6 1486.5,167.3 1496.7,163.1 1506.9,159.1 1517.0,155.2 1527.2,151.6 1537.4,148.1 1547.6,144.7 1557.8,141.6 1568.0,138.6 1578.2,135.8 1588.3,133.2 1598.5,130.8 1608.7,128.5 1618.9,126.4 1629.1,124.5 1639.3,122.8 1649.4,121.3 1659.6,119.9 1669.8,118.8 1680.0,118.0 1680.0,121.2 1669.8,122.0 1659.6,123.1 1649.4,124.5 1639.3,126.0 1629.1,127.8 1618.9,129.7 1608.7,131.8 1598.5,134.0 1588.3,136.5 1578.2,139.1 1568.0,141.9 1557.8,144.9 1547.6,148.1 1537.4,151.4 1527.2,154.9 1517.0,158.6 1506.9,162.4 1496.7,166.4 1486.5,170.6 1476.3,175.0 1466.1,179.5 1455.9,184.2 1445.7,189.1 1435.6,194.2 1425.4,199.4 1415.2,204.8 1405.0,210.3 1394.8,216.1 1384.6,222.0 1374.5,228.0 1364.3,234.3 1354.1,240.7 1343.9,247.3 1333.7,254.0 1323.5,261.0 1313.3,268.1 1303.2,275.4 1293.0,282.8 1282.8,290.5 1272.6,298.5 1262.4,306.6 1252.2,315.0 1242.0,323.7 1231.9,332.7 1221.7,341.8 1211.5,351.2 1201.3,360.6 1191.1,370.1 1180.9,379.6 1170.8,389.1 1160.6,398.6 1150.4,408.1 1140.2,417.7 1130.0,427.3 1119.8,437.2 1109.6,447.3 1099.5,457.6 1089.3,468.3 1079.1,479.2 1068.9,490.3" fill="#e19299" fill-opacity="0.8"/>
<polygon points="1068.9,490.3 1079.1,479.2 1089.3,468.3 1099.5,457.6 1109.6,447.3 1119.8,437.2 1130.0,427.3 1140.2,417.7 1150.4,408.1 1160.6,398.6 1170.8,389.1 1180.9,379.6 1191.1,370.1 1201.3,360.6 1211.5,351.2 1221.7,341.8 1231.9,332.7 1242.0,323.7 1252.2,315.0 1262.4,306.6 1272.6,298.5 1282.8,290.5 1293.0,282.8 1303.2,275.4 1313.3,268.1 1323.5,261.0 1333.7,254.0 1343.9,247.3 1354.1,240.7 1364.3,234.3 1374.5,228.0 1384.6,222.0 1394.8,216.1 1405.0,210.3 1415.2,204.8 1425.4,199.4 1435.6,194.2 1445.7,189.1 1455.9,184.2 1466.1,179.5 1476.3,175.0 1486.5,170.6 1496.7,166.4 1506.9,162.4 1517.0,158.6 1527.2,154.9 1537.4,151.4 1547.6,148.1 1557.8,144.9 1568.0,141.9 1578.2,139.1 1588.3,136.5 1598.5,134.0 1608.7,131.8 1618.9,129.7 1629.1,127.8 1639.3,126.0 1649.4,124.5 1659.6,123.1 1669.8,122.0 1680.0,121.2 1680.0,122.8 1669.8,123.6 1659.6,124.7 1649.4,126.1 1639.3,127.6 1629.1,129.4 1618.9,131.3 1608.7,133.4 1598.5,135.7 1588.3,138.1 1578.2,140.8 1568.0,143.6 1557.8,146.5 1547.6,149.7 1537.4,153.0 1527.2,156.5 1517.0,160.2 1506.9,164.1 1496.7,168.1 1486.5,172.3 1476.3,176.7 1466.1,181.2 1455.9,185.9 1445.7,190.8 1435.6,195.9 1425.4,201.1 1415.2,206.5 1405.0,212.0 1394.8,217.8 1384.6,223.7 1374.5,229.7 1364.3,236.0 1354.1,242.4 1343.9,249.0 1333.7,255.7 1323.5,262.7 1313.3,269.8 1303.2,277.1 1293.0,284.5 1282.8,292.2 1272.6,300.2 1262.4,308.3 1252.2,316.8 1242.0,325.4 1231.9,334.4 1221.7,343.5 1211.5,352.9 1201.3,362.4 1191.1,371.9 1180.9,381.4 1170.8,390.9 1160.6,400.4 1150.4,409.8 1140.2,419.4 1130.0,429.0 1119.8,438.9 1109.6,448.9 1099.5,459.3 1089.3,469.9 1079.1,480.8 1068.9,491.9" fill="#c080c0" fill-opacity="0.8"/>
<circle cx="1076.9" cy="521.2" r="4.65" fill="#8a0a9a"/>
<circle cx="1080.0" cy="501.9" r="4.65" fill="#8a0a9a"/>
<circle cx="1085.2" cy="510.0" r="4.65" fill="#8a0a9a"/>
<circle cx="1091.0" cy="511.0" r="4.65" fill="#903050"/>
<circle cx="1092.9" cy="493.7" r="4.65" fill="#ffe020"/>
<circle cx="1096.7" cy="485.0" r="4.65" fill="#ffa010"/>
<circle cx="1083.3" cy="485.0" r="4.65" fill="#b01e1e"/>
<circle cx="1090.4" cy="485.4" r="4.65" fill="#8b0a0a"/>
<circle cx="1096.7" cy="471.5" r="4.65" fill="#8a0a9a"/>
<circle cx="1104.4" cy="480.2" r="4.65" fill="#8a0a9a"/>
<circle cx="1107.3" cy="480.8" r="4.65" fill="#903050"/>
<circle cx="1095.8" cy="465.8" r="4.65" fill="#8a0a9a"/>
<circle cx="1111.2" cy="457.7" r="4.65" fill="#8a0a9a"/>
<circle cx="1144.8" cy="422.5" r="4.65" fill="#8a0a9a"/>
<circle cx="1148.7" cy="424.4" r="4.65" fill="#901060"/>
<circle cx="1106.3" cy="438.8" r="4.65" fill="#a81030"/>
<circle cx="1114.0" cy="443.7" r="4.65" fill="#a81030"/>
<circle cx="1117.9" cy="435.0" r="4.65" fill="#8a0a9a"/>
<circle cx="1099.6" cy="447.5" r="4.65" fill="#4878c0" fill-opacity="0.85"/>
<circle cx="1097.7" cy="420.6" r="4.65" fill="#4878c0" fill-opacity="0.85"/>
<circle cx="1106.3" cy="428.3" r="4.65" fill="#fff000" fill-opacity="0.85"/>
<circle cx="1076.5" cy="466.7" r="4.65" fill="#f01818" fill-opacity="0.95"/>
<circle cx="1103.5" cy="456.2" r="4.65" fill="#8b0a0a"/>
<circle cx="1149.0" cy="319.8" r="4.65" fill="#108088"/>
<circle cx="1144.8" cy="334.6" r="4.65" fill="#4878c0"/>
<circle cx="1151.9" cy="334.2" r="4.65" fill="#ffe020"/>
<circle cx="1098.7" cy="388.1" r="4.65" fill="#ffe020"/>
<circle cx="1098.7" cy="398.7" r="4.65" fill="#0808e8" fill-opacity="0.95"/>
<circle cx="1110.2" cy="394.8" r="4.65" fill="#8a0a9a" fill-opacity="0.95"/>
<circle cx="1155.4" cy="349.6" r="4.65" fill="#b01e1e" fill-opacity="0.75"/>
<circle cx="1147.7" cy="353.5" r="4.65" fill="#10e818" fill-opacity="0.75"/>
<circle cx="1155.4" cy="361.2" r="4.65" fill="#087808" fill-opacity="0.85"/>
<circle cx="1143.8" cy="390.0" r="4.65" fill="#4878c0" fill-opacity="0.75"/>
<circle cx="1156.3" cy="388.1" r="4.65" fill="#a81030"/>
<circle cx="1144.8" cy="399.6" r="4.65" fill="#a81030"/>
<circle cx="1151.5" cy="403.5" r="4.65" fill="#a81030"/>
<circle cx="1197.1" cy="287.9" r="4.65" fill="#a81030"/>
<circle cx="1202.5" cy="289.4" r="4.65" fill="#8a0a9a"/>
<circle cx="1170.8" cy="314.8" r="4.65" fill="#a81030"/>
<circle cx="1176.2" cy="311.9" r="4.65" fill="#a81030"/>
<circle cx="1165.4" cy="325.4" r="4.65" fill="#8a0a9a"/>
<circle cx="1221.2" cy="343.7" r="4.65" fill="#8a0a9a"/>
<circle cx="1231.3" cy="345.2" r="4.65" fill="#8a0a9a"/>
<circle cx="1203.5" cy="365.8" r="4.65" fill="#8a0a9a"/>
<circle cx="1207.7" cy="366.3" r="4.65" fill="#8a0a9a"/>
<circle cx="1196.7" cy="369.2" r="4.65" fill="#b01e1e"/>
<circle cx="1230.4" cy="286.0" r="4.65" fill="#8a0a9a" fill-opacity="0.95"/>
<circle cx="1194.8" cy="311.5" r="4.65" fill="#b01e1e" fill-opacity="0.85"/>
<circle cx="1192.3" cy="326.3" r="4.65" fill="#087808" fill-opacity="0.85"/>
<circle cx="1180.8" cy="334.0" r="4.65" fill="#087808" fill-opacity="0.85"/>
<circle cx="1163.1" cy="336.9" r="4.65" fill="#b01e1e" fill-opacity="0.75"/>
<circle cx="1161.2" cy="354.2" r="4.65" fill="#087808" fill-opacity="0.85"/>
<circle cx="1155.4" cy="361.0" r="4.65" fill="#8b0a0a" fill-opacity="0.85"/>
<circle cx="1223.7" cy="325.4" r="4.65" fill="#a81030"/>
<circle cx="1217.9" cy="327.3" r="4.65" fill="#a81030"/>
<circle cx="1195.8" cy="348.1" r="4.65" fill="#f01818"/>
<circle cx="1209.6" cy="346.2" r="4.65" fill="#8b0a0a"/>
<circle cx="1185.2" cy="369.6" r="4.65" fill="#8b0a0a"/>
<circle cx="1171.7" cy="371.5" r="4.65" fill="#f01818" fill-opacity="0.95"/>
<circle cx="1164.0" cy="376.3" r="4.65" fill="#8b0a0a" fill-opacity="0.95"/>
<circle cx="1336.2" cy="255.6" r="4.65" fill="#a81030"/>
<circle cx="1346.7" cy="255.6" r="4.65" fill="#8a0a9a"/>
<circle cx="1350.6" cy="255.6" r="4.65" fill="#8a0a9a"/>
<circle cx="1284.2" cy="271.9" r="4.65" fill="#a81030"/>
<circle cx="1325.6" cy="253.1" r="4.65" fill="#a81030"/>
<circle cx="1307.3" cy="237.3" r="4.65" fill="#087808" fill-opacity="0.85"/>
<circle cx="1351.5" cy="221.9" r="4.65" fill="#a81030"/>
<circle cx="1355.4" cy="237.3" r="4.65" fill="#a81030"/>
<circle cx="1348.7" cy="236.3" r="4.65" fill="#a81030"/>
<circle cx="1353.5" cy="181.5" r="4.65" fill="#0808e8" fill-opacity="0.95"/>
<circle cx="1355.4" cy="194.0" r="4.65" fill="#18b0e8" fill-opacity="0.75"/>
<circle cx="1352.5" cy="156.5" r="4.65" fill="#0808e8"/>
<circle cx="1351.9" cy="162.7" r="4.65" fill="#4878c0"/>
<circle cx="1355.4" cy="165.8" r="4.65" fill="#4878c0"/>
<circle cx="1371.3" cy="162.7" r="4.65" fill="#10e818"/>
<circle cx="1385.8" cy="164.6" r="4.65" fill="#b01e1e" fill-opacity="0.95"/>
<circle cx="1358.3" cy="174.8" r="4.65" fill="#0808e8"/>
<circle cx="1435.2" cy="122.3" r="4.65" fill="#0808e8"/>
<circle cx="1438.1" cy="141.5" r="4.65" fill="#0808e8"/>
<circle cx="1443.8" cy="132.5" r="4.65" fill="#18b0e8" fill-opacity="0.75"/>
<circle cx="1441.0" cy="161.3" r="4.65" fill="#4878c0" fill-opacity="0.75"/>
<circle cx="1363.1" cy="196.0" r="4.65" fill="#087808" fill-opacity="0.95"/>
<circle cx="1353.5" cy="195.0" r="4.65" fill="#10e0f0" fill-opacity="0.75"/>
<circle cx="1390.4" cy="180.0" r="4.65" fill="#b0f030" fill-opacity="0.75"/>
<circle cx="1418.8" cy="194.0" r="4.65" fill="#8a0a9a"/>
<circle cx="1421.7" cy="198.8" r="4.65" fill="#8a0a9a"/>
<circle cx="1395.8" cy="220.0" r="4.65" fill="#a81030"/>
<circle cx="1404.4" cy="218.5" r="4.65" fill="#b01e1e"/>
<circle cx="1399.2" cy="234.4" r="4.65" fill="#8a0a9a"/>
<circle cx="1454.4" cy="194.0" r="4.65" fill="#b01e1e"/>
<circle cx="1457.3" cy="159.4" r="4.65" fill="#8b0a0a"/>
<circle cx="1459.2" cy="173.8" r="4.65" fill="#8b0a0a"/>
<circle cx="1374.6" cy="216.2" r="4.65" fill="#f01818"/>
<circle cx="1366.9" cy="220.0" r="4.65" fill="#f01818"/>
<circle cx="1368.8" cy="210.4" r="4.65" fill="#f01818" fill-opacity="0.95"/>
<circle cx="1354.4" cy="222.9" r="4.65" fill="#a81030"/>
<circle cx="1359.2" cy="235.4" r="4.65" fill="#b01e1e"/>
<circle cx="1351.5" cy="236.3" r="4.65" fill="#b01e1e"/>
<circle cx="1348.7" cy="230.6" r="4.65" fill="#108088" fill-opacity="0.75"/>
<circle cx="1454.4" cy="116.2" r="4.65" fill="#108088"/>
<circle cx="1479.4" cy="119.4" r="4.65" fill="#ffd018" fill-opacity="0.85"/>
<circle cx="1468.5" cy="131.0" r="4.65" fill="#108088" fill-opacity="0.95"/>
<circle cx="1477.9" cy="138.7" r="4.65" fill="#e85020"/>
<circle cx="1514.0" cy="141.2" r="4.65" fill="#a81030"/>
<circle cx="1469.8" cy="152.7" r="4.65" fill="#8b0a0a"/>
<circle cx="1483.3" cy="157.9" r="4.65" fill="#087808" fill-opacity="0.95"/>
<circle cx="1468.8" cy="163.7" r="4.65" fill="#a81030"/>
<circle cx="1463.1" cy="172.3" r="4.65" fill="#8b0a0a"/>
<circle cx="1557.3" cy="117.5" r="4.65" fill="#000098"/>
<circle cx="1532.3" cy="142.5" r="4.65" fill="#8b0a0a"/>
<circle cx="1539.0" cy="142.5" r="4.65" fill="#8b0a0a"/>
<circle cx="1546.7" cy="141.9" r="4.65" fill="#8b0a0a"/>
<circle cx="1537.1" cy="152.7" r="4.65" fill="#8a0a9a"/>
<circle cx="1546.7" cy="152.1" r="4.65" fill="#8a0a9a"/>
<circle cx="1556.0" cy="154.4" r="4.65" fill="#8a0a9a"/>
<circle cx="1546.7" cy="164.6" r="4.65" fill="#8a0a9a"/>
<circle cx="1497.1" cy="178.1" r="4.65" fill="#fff000"/>
<circle cx="1499.6" cy="173.7" r="4.65" fill="#f01818"/>
<circle cx="1481.9" cy="173.7" r="4.65" fill="#8b0a0a"/>
<circle cx="1487.7" cy="174.2" r="4.65" fill="#8b0a0a"/>
<circle cx="1516.5" cy="177.7" r="4.65" fill="#8a0a9a"/>
<circle cx="1520.8" cy="177.7" r="4.65" fill="#8a0a9a"/>
<circle cx="1535.2" cy="177.1" r="4.65" fill="#8a0a9a"/>
<circle cx="1470.4" cy="179.4" r="4.65" fill="#8a0a9a"/>
<circle cx="1461.5" cy="182.3" r="4.65" fill="#b01e1e"/>
<circle cx="1483.3" cy="185.4" r="4.65" fill="#8a0a9a"/>
<circle cx="1499.6" cy="193.8" r="4.65" fill="#8a0a9a"/>
<circle cx="1468.5" cy="193.5" r="4.65" fill="#8a0a9a"/>
<circle cx="1475.2" cy="190.0" r="4.65" fill="#b01e1e"/>
<circle cx="1480.0" cy="195.4" r="4.65" fill="#b01e1e"/>
<circle cx="1459.2" cy="191.2" r="4.65" fill="#8b0a0a"/>
<circle cx="1441.9" cy="137.7" r="4.65" fill="#0808e8" fill-opacity="0.95"/>
<circle cx="1573.7" cy="69.0" r="4.65" fill="#0808e8"/>
<circle cx="1579.4" cy="73.5" r="4.65" fill="#0808e8"/>
<circle cx="1573.7" cy="81.2" r="4.65" fill="#0808e8"/>
<circle cx="1574.2" cy="88.8" r="4.65" fill="#0808e8"/>
<circle cx="1574.6" cy="94.6" r="4.65" fill="#0808e8"/>
<circle cx="1566.0" cy="121.5" r="4.65" fill="#4878c0" fill-opacity="0.95"/>
<circle cx="1568.8" cy="109.0" r="4.65" fill="#8b0a0a" fill-opacity="0.95"/>
<circle cx="1589.0" cy="111.9" r="4.65" fill="#8b0a0a"/>
<circle cx="1600.6" cy="106.5" r="4.65" fill="#8b0a0a"/>
<circle cx="1614.0" cy="101.3" r="4.65" fill="#8b0a0a"/>
<circle cx="1614.0" cy="108.1" r="4.65" fill="#8b0a0a"/>
<circle cx="1630.4" cy="99.4" r="4.65" fill="#8b0a0a"/>
<circle cx="1635.2" cy="100.8" r="4.65" fill="#8b0a0a"/>
<circle cx="1647.7" cy="100.8" r="4.65" fill="#8b0a0a"/>
<circle cx="1641.0" cy="91.7" r="4.65" fill="#b01e1e"/>
<circle cx="1627.9" cy="89.8" r="4.65" fill="#087808"/>
<circle cx="1607.3" cy="85.0" r="4.65" fill="#e85020" fill-opacity="0.75"/>
<circle cx="1638.1" cy="76.3" r="4.65" fill="#fff000" fill-opacity="0.85"/>
<circle cx="1629.4" cy="79.2" r="4.65" fill="#10e818" fill-opacity="0.85"/>
<circle cx="1646.7" cy="71.5" r="4.65" fill="#ffa010" fill-opacity="0.85"/>
<circle cx="1603.5" cy="117.7" r="4.65" fill="#f01818"/>
<circle cx="1609.2" cy="116.7" r="4.65" fill="#f01818"/>
<circle cx="1618.8" cy="117.7" r="4.65" fill="#8b0a0a"/>
<circle cx="1624.6" cy="120.6" r="4.65" fill="#a81030"/>
<circle cx="1630.4" cy="122.5" r="4.65" fill="#f01818"/>
<circle cx="1638.1" cy="111.9" r="4.65" fill="#a81030"/>
<circle cx="1648.7" cy="117.7" r="4.65" fill="#8a0a9a"/>
<circle cx="1648.1" cy="132.7" r="4.65" fill="#8b0a0a"/>
<circle cx="1571.7" cy="142.7" r="4.65" fill="#a81030"/>
<circle cx="1560.2" cy="153.3" r="4.65" fill="#b01e1e"/>
<circle cx="1568.8" cy="153.3" r="4.65" fill="#b01e1e"/>
<circle cx="1594.8" cy="155.2" r="4.65" fill="#b01e1e"/>
<circle cx="1631.9" cy="152.7" r="4.65" fill="#8a0a9a"/>
<circle cx="1585.2" cy="173.1" r="4.65" fill="#8a0a9a"/>
<circle cx="1577.7" cy="26.3" r="4.65" fill="#0000cc"/>
<circle cx="1641.7" cy="17.7" r="4.65" fill="#10e0f0"/>
<circle cx="1647.5" cy="40.8" r="4.65" fill="#10e818"/>
<circle cx="1640.8" cy="42.7" r="4.65" fill="#fff000"/>
<circle cx="1604.6" cy="53.8" r="4.65" fill="#18b0e8"/>
<circle cx="1614.2" cy="53.5" r="4.65" fill="#10e0f0"/>
<circle cx="1667.7" cy="112.5" r="4.65" fill="#f01818"/>
<circle cx="1667.5" cy="125.2" r="4.65" fill="#8a0a9a"/>
<circle cx="1320.6" cy="296.3" r="4.65" fill="#8a0a9a"/>
<circle cx="1187.1" cy="388.7" r="4.65" fill="#8b0a0a"/>
<circle cx="1172.7" cy="385.8" r="4.65" fill="#8a0a9a"/>
<circle cx="1171.7" cy="390.6" r="4.65" fill="#a81030"/>
<circle cx="1101.5" cy="414.6" r="4.65" fill="#087808" fill-opacity="0.75"/>
<circle cx="1471.2" cy="214.4" r="4.65" fill="#b01e1e"/>
<circle cx="1478.8" cy="211.9" r="4.65" fill="#8a0a9a"/>
<circle cx="1467.3" cy="175.0" r="4.65" fill="#8b0a0a"/>
<circle cx="1100.0" cy="473.0" r="4.65" fill="#8a0a9a"/>
<polyline points="1068.9,428.0 1079.1,416.5 1089.3,405.2 1099.5,394.0 1109.6,383.1 1119.8,372.3 1130.0,361.7 1140.2,351.3 1150.4,341.0 1160.6,331.0 1170.8,321.1 1180.9,311.4 1191.1,301.9 1201.3,292.5 1211.5,283.4 1221.7,274.4 1231.9,265.6 1242.0,257.0 1252.2,248.6 1262.4,240.4 1272.6,232.3 1282.8,224.4 1293.0,216.7 1303.2,209.2 1313.3,201.9 1323.5,194.8 1333.7,187.8 1343.9,181.0 1354.1,174.4 1364.3,168.0 1374.5,161.7 1384.6,155.7 1394.8,149.8 1405.0,144.1 1415.2,138.6 1425.4,133.3 1435.6,128.1 1445.7,123.2 1455.9,118.4 1466.1,113.8 1476.3,109.3 1486.5,105.1 1496.7,101.1 1506.9,97.2 1517.0,93.5 1527.2,90.0 1537.4,86.6 1547.6,83.5 1557.8,80.5 1568.0,77.8 1578.2,75.2 1588.3,72.7 1598.5,70.5 1608.7,68.4 1618.9,66.6 1629.1,64.9 1639.3,63.4 1649.4,62.0 1659.6,60.9 1669.8,59.9 1680.0,59.1" fill="none" stroke="#1a1ad2" stroke-width="1.3"/>
<polyline points="1068.9,431.2 1079.1,419.7 1089.3,408.4 1099.5,397.3 1109.6,386.4 1119.8,375.6 1130.0,365.0 1140.2,354.7 1150.4,344.5 1160.6,334.4 1170.8,324.6 1180.9,314.9 1191.1,305.4 1201.3,296.0 1211.5,286.9 1221.7,277.9 1231.9,269.1 1242.0,260.5 1252.2,252.0 1262.4,243.8 1272.6,235.7 1282.8,227.8 1293.0,220.1 1303.2,212.6 1313.3,205.3 1323.5,198.1 1333.7,191.2 1343.9,184.4 1354.1,177.8 1364.3,171.4 1374.5,165.1 1384.6,159.1 1394.8,153.2 1405.0,147.5 1415.2,142.0 1425.4,136.7 1435.6,131.5 1445.7,126.5 1455.9,121.7 1466.1,117.1 1476.3,112.7 1486.5,108.5 1496.7,104.4 1506.9,100.5 1517.0,96.8 1527.2,93.3 1537.4,90.0 1547.6,86.8 1557.8,83.8 1568.0,81.0 1578.2,78.4 1588.3,76.0 1598.5,73.8 1608.7,71.7 1618.9,69.8 1629.1,68.1 1639.3,66.6 1649.4,65.2 1659.6,64.1 1669.8,63.1 1680.0,62.3" fill="none" stroke="#1a1aff" stroke-width="1.3"/>
<polyline points="1068.9,434.4 1079.1,422.9 1089.3,411.7 1099.5,400.6 1109.6,389.7 1119.8,378.9 1130.0,368.4 1140.2,358.1 1150.4,347.9 1160.6,337.9 1170.8,328.1 1180.9,318.4 1191.1,308.9 1201.3,299.5 1211.5,290.3 1221.7,281.3 1231.9,272.5 1242.0,263.9 1252.2,255.4 1262.4,247.2 1272.6,239.1 1282.8,231.2 1293.0,223.5 1303.2,216.0 1313.3,208.7 1323.5,201.5 1333.7,194.6 1343.9,187.8 1354.1,181.2 1364.3,174.8 1374.5,168.5 1384.6,162.5 1394.8,156.6 1405.0,150.9 1415.2,145.4 1425.4,140.0 1435.6,134.9 1445.7,129.9 1455.9,125.1 1466.1,120.5 1476.3,116.1 1486.5,111.8 1496.7,107.8 1506.9,103.9 1517.0,100.2 1527.2,96.6 1537.4,93.3 1547.6,90.1 1557.8,87.1 1568.0,84.3 1578.2,81.7 1588.3,79.3 1598.5,77.0 1608.7,74.9 1618.9,73.0 1629.1,71.3 1639.3,69.8 1649.4,68.4 1659.6,67.3 1669.8,66.3 1680.0,65.5" fill="none" stroke="#5478e4" stroke-width="1.3"/>
<polyline points="1068.9,437.6 1079.1,426.2 1089.3,414.9 1099.5,403.8 1109.6,393.0 1119.8,382.3 1130.0,371.8 1140.2,361.5 1150.4,351.3 1160.6,341.4 1170.8,331.6 1180.9,321.9 1191.1,312.4 1201.3,303.0 1211.5,293.8 1221.7,284.8 1231.9,275.9 1242.0,267.3 1252.2,258.8 1262.4,250.6 1272.6,242.5 1282.8,234.6 1293.0,226.9 1303.2,219.4 1313.3,212.1 1323.5,204.9 1333.7,198.0 1343.9,191.2 1354.1,184.6 1364.3,178.2 1374.5,171.9 1384.6,165.9 1394.8,160.0 1405.0,154.3 1415.2,148.8 1425.4,143.4 1435.6,138.3 1445.7,133.3 1455.9,128.5 1466.1,123.9 1476.3,119.4 1486.5,115.2 1496.7,111.1 1506.9,107.2 1517.0,103.5 1527.2,100.0 1537.4,96.6 1547.6,93.4 1557.8,90.4 1568.0,87.6 1578.2,85.0 1588.3,82.5 1598.5,80.3 1608.7,78.2 1618.9,76.3 1629.1,74.6 1639.3,73.0 1649.4,71.6 1659.6,70.5 1669.8,69.5 1680.0,68.7" fill="none" stroke="#1ac5ff" stroke-width="1.3"/>
<polyline points="1068.9,440.8 1079.1,429.4 1089.3,418.1 1099.5,407.1 1109.6,396.2 1119.8,385.6 1130.0,375.1 1140.2,364.9 1150.4,354.8 1160.6,344.8 1170.8,335.0 1180.9,325.4 1191.1,315.9 1201.3,306.5 1211.5,297.3 1221.7,288.2 1231.9,279.4 1242.0,270.7 1252.2,262.2 1262.4,254.0 1272.6,245.9 1282.8,238.0 1293.0,230.3 1303.2,222.8 1313.3,215.5 1323.5,208.3 1333.7,201.4 1343.9,194.6 1354.1,188.0 1364.3,181.6 1374.5,175.3 1384.6,169.3 1394.8,163.4 1405.0,157.7 1415.2,152.2 1425.4,146.8 1435.6,141.7 1445.7,136.7 1455.9,131.9 1466.1,127.3 1476.3,122.8 1486.5,118.5 1496.7,114.5 1506.9,110.6 1517.0,106.8 1527.2,103.3 1537.4,99.9 1547.6,96.7 1557.8,93.7 1568.0,90.9 1578.2,88.3 1588.3,85.8 1598.5,83.5 1608.7,81.4 1618.9,79.5 1629.1,77.8 1639.3,76.2 1649.4,74.8 1659.6,73.7 1669.8,72.7 1680.0,71.9" fill="none" stroke="#588ebc" stroke-width="1.3"/>
<polyline points="1068.9,444.0 1079.1,432.6 1089.3,421.4 1099.5,410.3 1109.6,399.5 1119.8,388.9 1130.0,378.5 1140.2,368.3 1150.4,358.2 1160.6,348.3 1170.8,338.5 1180.9,328.9 1191.1,319.4 1201.3,310.0 1211.5,300.8 1221.7,291.7 1231.9,282.8 1242.0,274.1 1252.2,265.6 1262.4,257.4 1272.6,249.3 1282.8,241.4 1293.0,233.7 1303.2,226.2 1313.3,218.9 1323.5,211.7 1333.7,204.8 1343.9,198.0 1354.1,191.4 1364.3,185.0 1374.5,178.7 1384.6,172.7 1394.8,166.8 1405.0,161.1 1415.2,155.6 1425.4,150.2 1435.6,145.1 1445.7,140.1 1455.9,135.3 1466.1,130.6 1476.3,126.2 1486.5,121.9 1496.7,117.8 1506.9,113.9 1517.0,110.2 1527.2,106.6 1537.4,103.2 1547.6,100.1 1557.8,97.0 1568.0,94.2 1578.2,91.6 1588.3,89.1 1598.5,86.8 1608.7,84.7 1618.9,82.7 1629.1,81.0 1639.3,79.4 1649.4,78.0 1659.6,76.8 1669.8,75.8 1680.0,75.1" fill="none" stroke="#93d3fa" stroke-width="1.3"/>
<polyline points="1068.9,447.2 1079.1,435.8 1089.3,424.6 1099.5,413.6 1109.6,402.8 1119.8,392.3 1130.0,381.9 1140.2,371.7 1150.4,361.7 1160.6,351.8 1170.8,342.0 1180.9,332.4 1191.1,322.9 1201.3,313.5 1211.5,304.2 1221.7,295.2 1231.9,286.3 1242.0,277.6 1252.2,269.1 1262.4,260.8 1272.6,252.7 1282.8,244.8 1293.0,237.1 1303.2,229.6 1313.3,222.3 1323.5,215.1 1333.7,208.2 1343.9,201.4 1354.1,194.8 1364.3,188.4 1374.5,182.1 1384.6,176.1 1394.8,170.2 1405.0,164.5 1415.2,159.0 1425.4,153.6 1435.6,148.4 1445.7,143.4 1455.9,138.6 1466.1,134.0 1476.3,129.5 1486.5,125.3 1496.7,121.2 1506.9,117.2 1517.0,113.5 1527.2,109.9 1537.4,106.6 1547.6,103.4 1557.8,100.3 1568.0,97.5 1578.2,94.8 1588.3,92.4 1598.5,90.0 1608.7,87.9 1618.9,86.0 1629.1,84.2 1639.3,82.6 1649.4,81.3 1659.6,80.0 1669.8,79.0 1680.0,78.2" fill="none" stroke="#1affff" stroke-width="1.3"/>
<polyline points="1068.9,450.4 1079.1,439.0 1089.3,427.8 1099.5,416.9 1109.6,406.1 1119.8,395.6 1130.0,385.3 1140.2,375.1 1150.4,365.1 1160.6,355.2 1170.8,345.5 1180.9,335.9 1191.1,326.4 1201.3,317.0 1211.5,307.7 1221.7,298.6 1231.9,289.7 1242.0,281.0 1252.2,272.5 1262.4,264.2 1272.6,256.1 1282.8,248.2 1293.0,240.5 1303.2,233.0 1313.3,225.7 1323.5,218.5 1333.7,211.6 1343.9,204.8 1354.1,198.2 1364.3,191.8 1374.5,185.5 1384.6,179.5 1394.8,173.6 1405.0,167.9 1415.2,162.4 1425.4,157.0 1435.6,151.8 1445.7,146.8 1455.9,142.0 1466.1,137.4 1476.3,132.9 1486.5,128.6 1496.7,124.5 1506.9,120.6 1517.0,116.8 1527.2,113.3 1537.4,109.9 1547.6,106.7 1557.8,103.6 1568.0,100.8 1578.2,98.1 1588.3,95.6 1598.5,93.3 1608.7,91.2 1618.9,89.2 1629.1,87.5 1639.3,85.9 1649.4,84.5 1659.6,83.2 1669.8,82.2 1680.0,81.4" fill="none" stroke="#1a8d8d" stroke-width="1.3"/>
<polyline points="1068.9,453.6 1079.1,442.2 1089.3,431.1 1099.5,420.1 1109.6,409.4 1119.8,398.9 1130.0,388.6 1140.2,378.5 1150.4,368.5 1160.6,358.7 1170.8,349.0 1180.9,339.4 1191.1,329.9 1201.3,320.5 1211.5,311.2 1221.7,302.1 1231.9,293.1 1242.0,284.4 1252.2,275.9 1262.4,267.6 1272.6,259.5 1282.8,251.6 1293.0,243.9 1303.2,236.4 1313.3,229.0 1323.5,221.9 1333.7,215.0 1343.9,208.2 1354.1,201.6 1364.3,195.2 1374.5,188.9 1384.6,182.9 1394.8,177.0 1405.0,171.3 1415.2,165.7 1425.4,160.4 1435.6,155.2 1445.7,150.2 1455.9,145.4 1466.1,140.7 1476.3,136.3 1486.5,132.0 1496.7,127.9 1506.9,123.9 1517.0,120.2 1527.2,116.6 1537.4,113.2 1547.6,110.0 1557.8,106.9 1568.0,104.1 1578.2,101.4 1588.3,98.9 1598.5,96.6 1608.7,94.4 1618.9,92.5 1629.1,90.7 1639.3,89.1 1649.4,87.7 1659.6,86.4 1669.8,85.4 1680.0,84.6" fill="none" stroke="#1a8d1a" stroke-width="1.3"/>
<polyline points="1068.9,456.8 1079.1,445.4 1089.3,434.3 1099.5,423.4 1109.6,412.7 1119.8,402.2 1130.0,392.0 1140.2,381.9 1150.4,372.0 1160.6,362.2 1170.8,352.5 1180.9,342.9 1191.1,333.4 1201.3,324.0 1211.5,314.7 1221.7,305.5 1231.9,296.6 1242.0,287.8 1252.2,279.3 1262.4,271.0 1272.6,262.8 1282.8,254.9 1293.0,247.3 1303.2,239.7 1313.3,232.4 1323.5,225.3 1333.7,218.4 1343.9,211.6 1354.1,205.0 1364.3,198.6 1374.5,192.3 1384.6,186.3 1394.8,180.4 1405.0,174.7 1415.2,169.1 1425.4,163.8 1435.6,158.6 1445.7,153.6 1455.9,148.8 1466.1,144.1 1476.3,139.6 1486.5,135.3 1496.7,131.2 1506.9,127.3 1517.0,123.5 1527.2,119.9 1537.4,116.5 1547.6,113.3 1557.8,110.2 1568.0,107.4 1578.2,104.7 1588.3,102.2 1598.5,99.8 1608.7,97.7 1618.9,95.7 1629.1,93.9 1639.3,92.3 1649.4,90.9 1659.6,89.6 1669.8,88.6 1680.0,87.8" fill="none" stroke="#1aff1a" stroke-width="1.3"/>
<polyline points="1068.9,460.0 1079.1,448.6 1089.3,437.5 1099.5,426.7 1109.6,416.0 1119.8,405.6 1130.0,395.4 1140.2,385.3 1150.4,375.4 1160.6,365.7 1170.8,356.0 1180.9,346.4 1191.1,336.9 1201.3,327.4 1211.5,318.1 1221.7,309.0 1231.9,300.0 1242.0,291.2 1252.2,282.7 1262.4,274.3 1272.6,266.2 1282.8,258.3 1293.0,250.6 1303.2,243.1 1313.3,235.8 1323.5,228.7 1333.7,221.8 1343.9,215.0 1354.1,208.4 1364.3,202.0 1374.5,195.7 1384.6,189.7 1394.8,183.8 1405.0,178.1 1415.2,172.5 1425.4,167.2 1435.6,162.0 1445.7,157.0 1455.9,152.1 1466.1,147.5 1476.3,143.0 1486.5,138.7 1496.7,134.6 1506.9,130.6 1517.0,126.9 1527.2,123.3 1537.4,119.8 1547.6,116.6 1557.8,113.5 1568.0,110.7 1578.2,108.0 1588.3,105.4 1598.5,103.1 1608.7,100.9 1618.9,98.9 1629.1,97.1 1639.3,95.5 1649.4,94.1 1659.6,92.8 1669.8,91.7 1680.0,91.0" fill="none" stroke="#b5ff44" stroke-width="1.3"/>
<polyline points="1068.9,463.2 1079.1,451.9 1089.3,440.8 1099.5,429.9 1109.6,419.3 1119.8,408.9 1130.0,398.7 1140.2,388.7 1150.4,378.9 1160.6,369.1 1170.8,359.5 1180.9,349.9 1191.1,340.4 1201.3,330.9 1211.5,321.6 1221.7,312.4 1231.9,303.4 1242.0,294.7 1252.2,286.1 1262.4,277.7 1272.6,269.6 1282.8,261.7 1293.0,254.0 1303.2,246.5 1313.3,239.2 1323.5,232.1 1333.7,225.2 1343.9,218.4 1354.1,211.8 1364.3,205.4 1374.5,199.1 1384.6,193.1 1394.8,187.2 1405.0,181.5 1415.2,175.9 1425.4,170.6 1435.6,165.4 1445.7,160.4 1455.9,155.5 1466.1,150.9 1476.3,146.4 1486.5,142.1 1496.7,137.9 1506.9,134.0 1517.0,130.2 1527.2,126.6 1537.4,123.2 1547.6,119.9 1557.8,116.8 1568.0,114.0 1578.2,111.2 1588.3,108.7 1598.5,106.3 1608.7,104.2 1618.9,102.2 1629.1,100.4 1639.3,98.7 1649.4,97.3 1659.6,96.0 1669.8,94.9 1680.0,94.1" fill="none" stroke="#ffff1a" stroke-width="1.3"/>
<polyline points="1068.9,466.3 1079.1,455.1 1089.3,444.0 1099.5,433.2 1109.6,422.6 1119.8,412.2 1130.0,402.1 1140.2,392.1 1150.4,382.3 1160.6,372.6 1170.8,363.0 1180.9,353.4 1191.1,343.9 1201.3,334.4 1211.5,325.1 1221.7,315.9 1231.9,306.9 1242.0,298.1 1252.2,289.5 1262.4,281.1 1272.6,273.0 1282.8,265.1 1293.0,257.4 1303.2,249.9 1313.3,242.6 1323.5,235.5 1333.7,228.5 1343.9,221.8 1354.1,215.2 1364.3,208.8 1374.5,202.5 1384.6,196.5 1394.8,190.6 1405.0,184.9 1415.2,179.3 1425.4,174.0 1435.6,168.8 1445.7,163.7 1455.9,158.9 1466.1,154.2 1476.3,149.7 1486.5,145.4 1496.7,141.3 1506.9,137.3 1517.0,133.5 1527.2,129.9 1537.4,126.5 1547.6,123.2 1557.8,120.1 1568.0,117.2 1578.2,114.5 1588.3,112.0 1598.5,109.6 1608.7,107.4 1618.9,105.4 1629.1,103.6 1639.3,101.9 1649.4,100.5 1659.6,99.2 1669.8,98.1 1680.0,97.3" fill="none" stroke="#ffdb1a" stroke-width="1.3"/>
<polyline points="1068.9,469.5 1079.1,458.3 1089.3,447.2 1099.5,436.4 1109.6,425.9 1119.8,415.6 1130.0,405.5 1140.2,395.5 1150.4,385.7 1160.6,376.1 1170.8,366.5 1180.9,356.9 1191.1,347.4 1201.3,337.9 1211.5,328.6 1221.7,319.4 1231.9,310.3 1242.0,301.5 1252.2,292.9 1262.4,284.5 1272.6,276.4 1282.8,268.5 1293.0,260.8 1303.2,253.3 1313.3,246.0 1323.5,238.9 1333.7,231.9 1343.9,225.2 1354.1,218.6 1364.3,212.2 1374.5,205.9 1384.6,199.9 1394.8,194.0 1405.0,188.3 1415.2,182.7 1425.4,177.3 1435.6,172.1 1445.7,167.1 1455.9,162.3 1466.1,157.6 1476.3,153.1 1486.5,148.8 1496.7,144.6 1506.9,140.7 1517.0,136.9 1527.2,133.2 1537.4,129.8 1547.6,126.5 1557.8,123.4 1568.0,120.5 1578.2,117.8 1588.3,115.2 1598.5,112.9 1608.7,110.7 1618.9,108.6 1629.1,106.8 1639.3,105.1 1649.4,103.7 1659.6,102.4 1669.8,101.3 1680.0,100.5" fill="none" stroke="#ffae1a" stroke-width="1.3"/>
<polyline points="1068.9,472.7 1079.1,461.5 1089.3,450.5 1099.5,439.7 1109.6,429.2 1119.8,418.9 1130.0,408.8 1140.2,398.9 1150.4,389.2 1160.6,379.5 1170.8,369.9 1180.9,360.4 1191.1,350.9 1201.3,341.4 1211.5,332.0 1221.7,322.8 1231.9,313.8 1242.0,304.9 1252.2,296.3 1262.4,287.9 1272.6,279.8 1282.8,271.9 1293.0,264.2 1303.2,256.7 1313.3,249.4 1323.5,242.3 1333.7,235.3 1343.9,228.6 1354.1,222.0 1364.3,215.6 1374.5,209.3 1384.6,203.3 1394.8,197.4 1405.0,191.7 1415.2,186.1 1425.4,180.7 1435.6,175.5 1445.7,170.5 1455.9,165.7 1466.1,161.0 1476.3,156.5 1486.5,152.1 1496.7,148.0 1506.9,144.0 1517.0,140.2 1527.2,136.6 1537.4,133.1 1547.6,129.8 1557.8,126.7 1568.0,123.8 1578.2,121.1 1588.3,118.5 1598.5,116.1 1608.7,113.9 1618.9,111.9 1629.1,110.0 1639.3,108.4 1649.4,106.9 1659.6,105.6 1669.8,104.5 1680.0,103.7" fill="none" stroke="#ff981a" stroke-width="1.3"/>
<polyline points="1068.9,475.9 1079.1,464.7 1089.3,453.7 1099.5,443.0 1109.6,432.5 1119.8,422.2 1130.0,412.2 1140.2,402.3 1150.4,392.6 1160.6,383.0 1170.8,373.4 1180.9,363.9 1191.1,354.4 1201.3,344.9 1211.5,335.5 1221.7,326.3 1231.9,317.2 1242.0,308.3 1252.2,299.7 1262.4,291.3 1272.6,283.2 1282.8,275.3 1293.0,267.6 1303.2,260.1 1313.3,252.8 1323.5,245.7 1333.7,238.7 1343.9,232.0 1354.1,225.4 1364.3,219.0 1374.5,212.7 1384.6,206.7 1394.8,200.8 1405.0,195.1 1415.2,189.5 1425.4,184.1 1435.6,178.9 1445.7,173.9 1455.9,169.0 1466.1,164.3 1476.3,159.8 1486.5,155.5 1496.7,151.3 1506.9,147.4 1517.0,143.5 1527.2,139.9 1537.4,136.4 1547.6,133.2 1557.8,130.0 1568.0,127.1 1578.2,124.4 1588.3,121.8 1598.5,119.4 1608.7,117.2 1618.9,115.1 1629.1,113.3 1639.3,111.6 1649.4,110.1 1659.6,108.7 1669.8,107.7 1680.0,106.9" fill="none" stroke="#ff1a1a" stroke-width="1.3"/>
<polyline points="1068.9,479.1 1079.1,467.9 1089.3,456.9 1099.5,446.2 1109.6,435.8 1119.8,425.6 1130.0,415.6 1140.2,405.7 1150.4,396.1 1160.6,386.5 1170.8,376.9 1180.9,367.4 1191.1,357.9 1201.3,348.4 1211.5,339.0 1221.7,329.7 1231.9,320.6 1242.0,311.8 1252.2,303.1 1262.4,294.7 1272.6,286.6 1282.8,278.7 1293.0,271.0 1303.2,263.5 1313.3,256.2 1323.5,249.1 1333.7,242.1 1343.9,235.4 1354.1,228.8 1364.3,222.4 1374.5,216.1 1384.6,210.1 1394.8,204.2 1405.0,198.4 1415.2,192.9 1425.4,187.5 1435.6,182.3 1445.7,177.3 1455.9,172.4 1466.1,167.7 1476.3,163.2 1486.5,158.9 1496.7,154.7 1506.9,150.7 1517.0,146.9 1527.2,143.2 1537.4,139.8 1547.6,136.5 1557.8,133.3 1568.0,130.4 1578.2,127.6 1588.3,125.0 1598.5,122.6 1608.7,120.4 1618.9,118.4 1629.1,116.5 1639.3,114.8 1649.4,113.3 1659.6,111.9 1669.8,110.8 1680.0,110.1" fill="none" stroke="#b21f29" stroke-width="1.3"/>
<polyline points="1068.9,482.3 1079.1,471.1 1089.3,460.2 1099.5,449.5 1109.6,439.1 1119.8,428.9 1130.0,418.9 1140.2,409.2 1150.4,399.5 1160.6,389.9 1170.8,380.4 1180.9,370.9 1191.1,361.4 1201.3,351.9 1211.5,342.5 1221.7,333.2 1231.9,324.1 1242.0,315.2 1252.2,306.5 1262.4,298.1 1272.6,290.0 1282.8,282.1 1293.0,274.4 1303.2,266.9 1313.3,259.6 1323.5,252.5 1333.7,245.5 1343.9,238.8 1354.1,232.2 1364.3,225.8 1374.5,219.5 1384.6,213.5 1394.8,207.6 1405.0,201.8 1415.2,196.3 1425.4,190.9 1435.6,185.7 1445.7,180.7 1455.9,175.8 1466.1,171.1 1476.3,166.6 1486.5,162.2 1496.7,158.0 1506.9,154.0 1517.0,150.2 1527.2,146.6 1537.4,143.1 1547.6,139.8 1557.8,136.6 1568.0,133.7 1578.2,130.9 1588.3,128.3 1598.5,125.9 1608.7,123.7 1618.9,121.6 1629.1,119.7 1639.3,118.0 1649.4,116.5 1659.6,115.1 1669.8,114.0 1680.0,113.2" fill="none" stroke="#c8333d" stroke-width="1.3"/>
<polyline points="1068.9,485.5 1079.1,474.3 1089.3,463.4 1099.5,452.8 1109.6,442.4 1119.8,432.2 1130.0,422.3 1140.2,412.6 1150.4,403.0 1160.6,393.4 1170.8,383.9 1180.9,374.4 1191.1,364.9 1201.3,355.4 1211.5,345.9 1221.7,336.6 1231.9,327.5 1242.0,318.6 1252.2,309.9 1262.4,301.5 1272.6,293.4 1282.8,285.5 1293.0,277.8 1303.2,270.3 1313.3,263.0 1323.5,255.9 1333.7,248.9 1343.9,242.2 1354.1,235.6 1364.3,229.2 1374.5,222.9 1384.6,216.9 1394.8,211.0 1405.0,205.2 1415.2,199.7 1425.4,194.3 1435.6,189.1 1445.7,184.0 1455.9,179.2 1466.1,174.5 1476.3,169.9 1486.5,165.6 1496.7,161.4 1506.9,157.4 1517.0,153.6 1527.2,149.9 1537.4,146.4 1547.6,143.1 1557.8,139.9 1568.0,137.0 1578.2,134.2 1588.3,131.6 1598.5,129.2 1608.7,126.9 1618.9,124.8 1629.1,122.9 1639.3,121.2 1649.4,119.7 1659.6,118.3 1669.8,117.2 1680.0,116.4" fill="none" stroke="#b21f29" stroke-width="1.3"/>
<polyline points="1068.9,488.7 1079.1,477.5 1089.3,466.7 1099.5,456.0 1109.6,445.6 1119.8,435.5 1130.0,425.7 1140.2,416.0 1150.4,406.4 1160.6,396.9 1170.8,387.4 1180.9,377.9 1191.1,368.4 1201.3,358.9 1211.5,349.4 1221.7,340.1 1231.9,330.9 1242.0,322.0 1252.2,313.3 1262.4,304.9 1272.6,296.8 1282.8,288.8 1293.0,281.1 1303.2,273.7 1313.3,266.4 1323.5,259.3 1333.7,252.3 1343.9,245.6 1354.1,239.0 1364.3,232.6 1374.5,226.3 1384.6,220.3 1394.8,214.4 1405.0,208.6 1415.2,203.1 1425.4,197.7 1435.6,192.5 1445.7,187.4 1455.9,182.5 1466.1,177.8 1476.3,173.3 1486.5,168.9 1496.7,164.8 1506.9,160.7 1517.0,156.9 1527.2,153.2 1537.4,149.7 1547.6,146.4 1557.8,143.2 1568.0,140.3 1578.2,137.5 1588.3,134.9 1598.5,132.4 1608.7,130.2 1618.9,128.1 1629.1,126.2 1639.3,124.4 1649.4,122.9 1659.6,121.5 1669.8,120.4 1680.0,119.6" fill="none" stroke="#c13741" stroke-width="1.3"/>
<polyline points="1068.9,491.9 1079.1,480.8 1089.3,469.9 1099.5,459.3 1109.6,448.9 1119.8,438.9 1130.0,429.0 1140.2,419.4 1150.4,409.8 1160.6,400.4 1170.8,390.9 1180.9,381.4 1191.1,371.9 1201.3,362.4 1211.5,352.9 1221.7,343.5 1231.9,334.4 1242.0,325.4 1252.2,316.8 1262.4,308.3 1272.6,300.2 1282.8,292.2 1293.0,284.5 1303.2,277.1 1313.3,269.8 1323.5,262.7 1333.7,255.7 1343.9,249.0 1354.1,242.4 1364.3,236.0 1374.5,229.7 1384.6,223.7 1394.8,217.8 1405.0,212.0 1415.2,206.5 1425.4,201.1 1435.6,195.9 1445.7,190.8 1455.9,185.9 1466.1,181.2 1476.3,176.7 1486.5,172.3 1496.7,168.1 1506.9,164.1 1517.0,160.2 1527.2,156.5 1537.4,153.0 1547.6,149.7 1557.8,146.5 1568.0,143.6 1578.2,140.8 1588.3,138.1 1598.5,135.7 1608.7,133.4 1618.9,131.3 1629.1,129.4 1639.3,127.6 1649.4,126.1 1659.6,124.7 1669.8,123.6 1680.0,122.8" fill="none" stroke="#8d1a8d" stroke-width="1.3"/>
</g>
<g stroke="#8a8a8a" stroke-width="1.4" fill="none">
<path d="M84.5,8.8 V542.4 H766.0"/>
<line x1="73.7" y1="533.8" x2="84.5" y2="533.8"/>
<line x1="73.7" y1="494.0" x2="84.5" y2="494.0"/>
<line x1="73.7" y1="454.3" x2="84.5" y2="454.3"/>
<line x1="73.7" y1="414.5" x2="84.5" y2="414.5"/>
<line x1="73.7" y1="374.7" x2="84.5" y2="374.7"/>
<line x1="73.7" y1="334.9" x2="84.5" y2="334.9"/>
<line x1="73.7" y1="295.2" x2="84.5" y2="295.2"/>
<line x1="73.7" y1="255.4" x2="84.5" y2="255.4"/>
<line x1="73.7" y1="215.6" x2="84.5" y2="215.6"/>
<line x1="73.7" y1="175.9" x2="84.5" y2="175.9"/>
<line x1="73.7" y1="136.1" x2="84.5" y2="136.1"/>
<line x1="73.7" y1="96.3" x2="84.5" y2="96.3"/>
<line x1="73.7" y1="56.6" x2="84.5" y2="56.6"/>
<line x1="73.7" y1="16.8" x2="84.5" y2="16.8"/>
<line x1="92.8" y1="542.4" x2="92.8" y2="552.4"/>
<line x1="159.3" y1="542.4" x2="159.3" y2="552.4"/>
<line x1="225.8" y1="542.4" x2="225.8" y2="552.4"/>
<line x1="292.3" y1="542.4" x2="292.3" y2="552.4"/>
<line x1="358.8" y1="542.4" x2="358.8" y2="552.4"/>
<line x1="425.3" y1="542.4" x2="425.3" y2="552.4"/>
<line x1="491.8" y1="542.4" x2="491.8" y2="552.4"/>
<line x1="558.3" y1="542.4" x2="558.3" y2="552.4"/>
<line x1="624.8" y1="542.4" x2="624.8" y2="552.4"/>
<line x1="691.3" y1="542.4" x2="691.3" y2="552.4"/>
<line x1="757.8" y1="542.4" x2="757.8" y2="552.4"/>
</g>
<g class="se" font-size="19.9px">
<text x="67.0" y="540.5" text-anchor="end">28</text>
<text x="67.0" y="500.7" text-anchor="end">30</text>
<text x="67.0" y="461.0" text-anchor="end">32</text>
<text x="67.0" y="421.2" text-anchor="end">34</text>
<text x="67.0" y="381.4" text-anchor="end">36</text>
<text x="67.0" y="341.6" text-anchor="end">38</text>
<text x="67.0" y="301.9" text-anchor="end">40</text>
<text x="67.0" y="262.1" text-anchor="end">42</text>
<text x="67.0" y="222.3" text-anchor="end">44</text>
<text x="67.0" y="182.6" text-anchor="end">46</text>
<text x="67.0" y="142.8" text-anchor="end">48</text>
<text x="67.0" y="103.0" text-anchor="end">50</text>
<text x="67.0" y="63.3" text-anchor="end">52</text>
<text x="67.0" y="23.5" text-anchor="end">54</text>
<text x="92.8" y="578" text-anchor="middle">0</text>
<text x="159.3" y="578" text-anchor="middle">10</text>
<text x="225.8" y="578" text-anchor="middle">20</text>
<text x="292.3" y="578" text-anchor="middle">30</text>
<text x="358.8" y="578" text-anchor="middle">40</text>
<text x="425.3" y="578" text-anchor="middle">50</text>
<text x="491.8" y="578" text-anchor="middle">60</text>
<text x="558.3" y="578" text-anchor="middle">70</text>
<text x="624.8" y="578" text-anchor="middle">80</text>
<text x="691.3" y="578" text-anchor="middle">90</text>
<text x="757.8" y="578" text-anchor="middle">100</text>
</g>
<text class="se" font-size="22.4px" x="425" y="615.8" text-anchor="middle">HbO<tspan font-size="62%">2</tspan> (%)</text>
<text class="se" font-size="22.3px" transform="translate(19.3,274.8) rotate(-90)" text-anchor="middle">SID (mEq/L)</text>
<g stroke="#8a8a8a" stroke-width="1.4" fill="none">
<path d="M1028.8,8.8 V542.4 H1676.2"/>
<line x1="1018.0" y1="533.8" x2="1028.8" y2="533.8"/>
<line x1="1018.0" y1="494.0" x2="1028.8" y2="494.0"/>
<line x1="1018.0" y1="454.3" x2="1028.8" y2="454.3"/>
<line x1="1018.0" y1="414.5" x2="1028.8" y2="414.5"/>
<line x1="1018.0" y1="374.7" x2="1028.8" y2="374.7"/>
<line x1="1018.0" y1="334.9" x2="1028.8" y2="334.9"/>
<line x1="1018.0" y1="295.2" x2="1028.8" y2="295.2"/>
<line x1="1018.0" y1="255.4" x2="1028.8" y2="255.4"/>
<line x1="1018.0" y1="215.6" x2="1028.8" y2="215.6"/>
<line x1="1018.0" y1="175.9" x2="1028.8" y2="175.9"/>
<line x1="1018.0" y1="136.1" x2="1028.8" y2="136.1"/>
<line x1="1018.0" y1="96.3" x2="1028.8" y2="96.3"/>
<line x1="1018.0" y1="56.6" x2="1028.8" y2="56.6"/>
<line x1="1018.0" y1="16.8" x2="1028.8" y2="16.8"/>
<line x1="1037.4" y1="542.4" x2="1037.4" y2="552.4"/>
<line x1="1100.4" y1="542.4" x2="1100.4" y2="552.4"/>
<line x1="1163.4" y1="542.4" x2="1163.4" y2="552.4"/>
<line x1="1226.4" y1="542.4" x2="1226.4" y2="552.4"/>
<line x1="1289.4" y1="542.4" x2="1289.4" y2="552.4"/>
<line x1="1352.4" y1="542.4" x2="1352.4" y2="552.4"/>
<line x1="1415.4" y1="542.4" x2="1415.4" y2="552.4"/>
<line x1="1478.4" y1="542.4" x2="1478.4" y2="552.4"/>
<line x1="1541.4" y1="542.4" x2="1541.4" y2="552.4"/>
<line x1="1604.4" y1="542.4" x2="1604.4" y2="552.4"/>
<line x1="1667.4" y1="542.4" x2="1667.4" y2="552.4"/>
</g>
<g class="se" font-size="19.9px">
<text x="1011.3" y="540.5" text-anchor="end">28</text>
<text x="1011.3" y="500.7" text-anchor="end">30</text>
<text x="1011.3" y="461.0" text-anchor="end">32</text>
<text x="1011.3" y="421.2" text-anchor="end">34</text>
<text x="1011.3" y="381.4" text-anchor="end">36</text>
<text x="1011.3" y="341.6" text-anchor="end">38</text>
<text x="1011.3" y="301.9" text-anchor="end">40</text>
<text x="1011.3" y="262.1" text-anchor="end">42</text>
<text x="1011.3" y="222.3" text-anchor="end">44</text>
<text x="1011.3" y="182.6" text-anchor="end">46</text>
<text x="1011.3" y="142.8" text-anchor="end">48</text>
<text x="1011.3" y="103.0" text-anchor="end">50</text>
<text x="1011.3" y="63.3" text-anchor="end">52</text>
<text x="1011.3" y="23.5" text-anchor="end">54</text>
<text x="1037.4" y="578" text-anchor="middle">0</text>
<text x="1100.4" y="578" text-anchor="middle">10</text>
<text x="1163.4" y="578" text-anchor="middle">20</text>
<text x="1226.4" y="578" text-anchor="middle">30</text>
<text x="1289.4" y="578" text-anchor="middle">40</text>
<text x="1352.4" y="578" text-anchor="middle">50</text>
<text x="1415.4" y="578" text-anchor="middle">60</text>
<text x="1478.4" y="578" text-anchor="middle">70</text>
<text x="1541.4" y="578" text-anchor="middle">80</text>
<text x="1604.4" y="578" text-anchor="middle">90</text>
<text x="1667.4" y="578" text-anchor="middle">100</text>
</g>
<text class="se" font-size="22.4px" x="1352.6" y="615.8" text-anchor="middle">PCO<tspan font-size="62%">2</tspan> (mmHg)</text>
<text class="se" font-size="22.3px" transform="translate(963.6,274.8) rotate(-90)" text-anchor="middle">SID (mEq/L)</text>
<rect x="779.7" y="8.8" width="19.199999999999932" height="533.6" fill="url(#cbA)" stroke="#555" stroke-opacity="0.55" stroke-width="0.9"/>
<g stroke="#777" stroke-width="1.2">
<line x1="798.9" y1="466.0" x2="808.4" y2="466.0"/>
<line x1="798.9" y1="364.4" x2="808.4" y2="364.4"/>
<line x1="798.9" y1="262.8" x2="808.4" y2="262.8"/>
<line x1="798.9" y1="161.2" x2="808.4" y2="161.2"/>
<line x1="798.9" y1="59.6" x2="808.4" y2="59.6"/>
</g>
<g class="sa" font-size="16.3px">
<text x="813.5" y="471.9">20</text>
<text x="813.5" y="370.3">40</text>
<text x="813.5" y="268.7">60</text>
<text x="813.5" y="167.1">80</text>
<text x="813.5" y="65.4">100</text>
</g>
<text class="se" font-size="22.6px" transform="translate(868.6,275.2) rotate(-90)" text-anchor="middle" xml:space="preserve">PCO<tspan font-size="62%">2</tspan>  classes from 5 to 110 mmHg</text>
<rect x="1691.0" y="8.8" width="18.5" height="533.6" fill="url(#cbB)" stroke="#555" stroke-opacity="0.55" stroke-width="0.9"/>
<g stroke="#777" stroke-width="1.2">
<line x1="1709.5" y1="435.7" x2="1719.0" y2="435.7"/>
<line x1="1709.5" y1="329.0" x2="1719.0" y2="329.0"/>
<line x1="1709.5" y1="222.2" x2="1719.0" y2="222.2"/>
<line x1="1709.5" y1="115.5" x2="1719.0" y2="115.5"/>
</g>
<g class="sa" font-size="16.3px">
<text x="1724.1" y="441.5">20</text>
<text x="1724.1" y="334.8">40</text>
<text x="1724.1" y="228.1">60</text>
<text x="1724.1" y="121.4">80</text>
</g>
<text class="se" font-size="22.6px" transform="translate(1768.8,276.5) rotate(-90)" text-anchor="middle" xml:space="preserve">HbO<tspan font-size="62%">2</tspan> classes from 0% to 100%</text>
<text class="se" font-size="33px" transform="translate(2.5,26) scale(1,1.06)">A</text>
<text class="se" font-size="33px" transform="translate(948.9,26.8) scale(0.9,1.04)">B</text>
</svg></body></html>
